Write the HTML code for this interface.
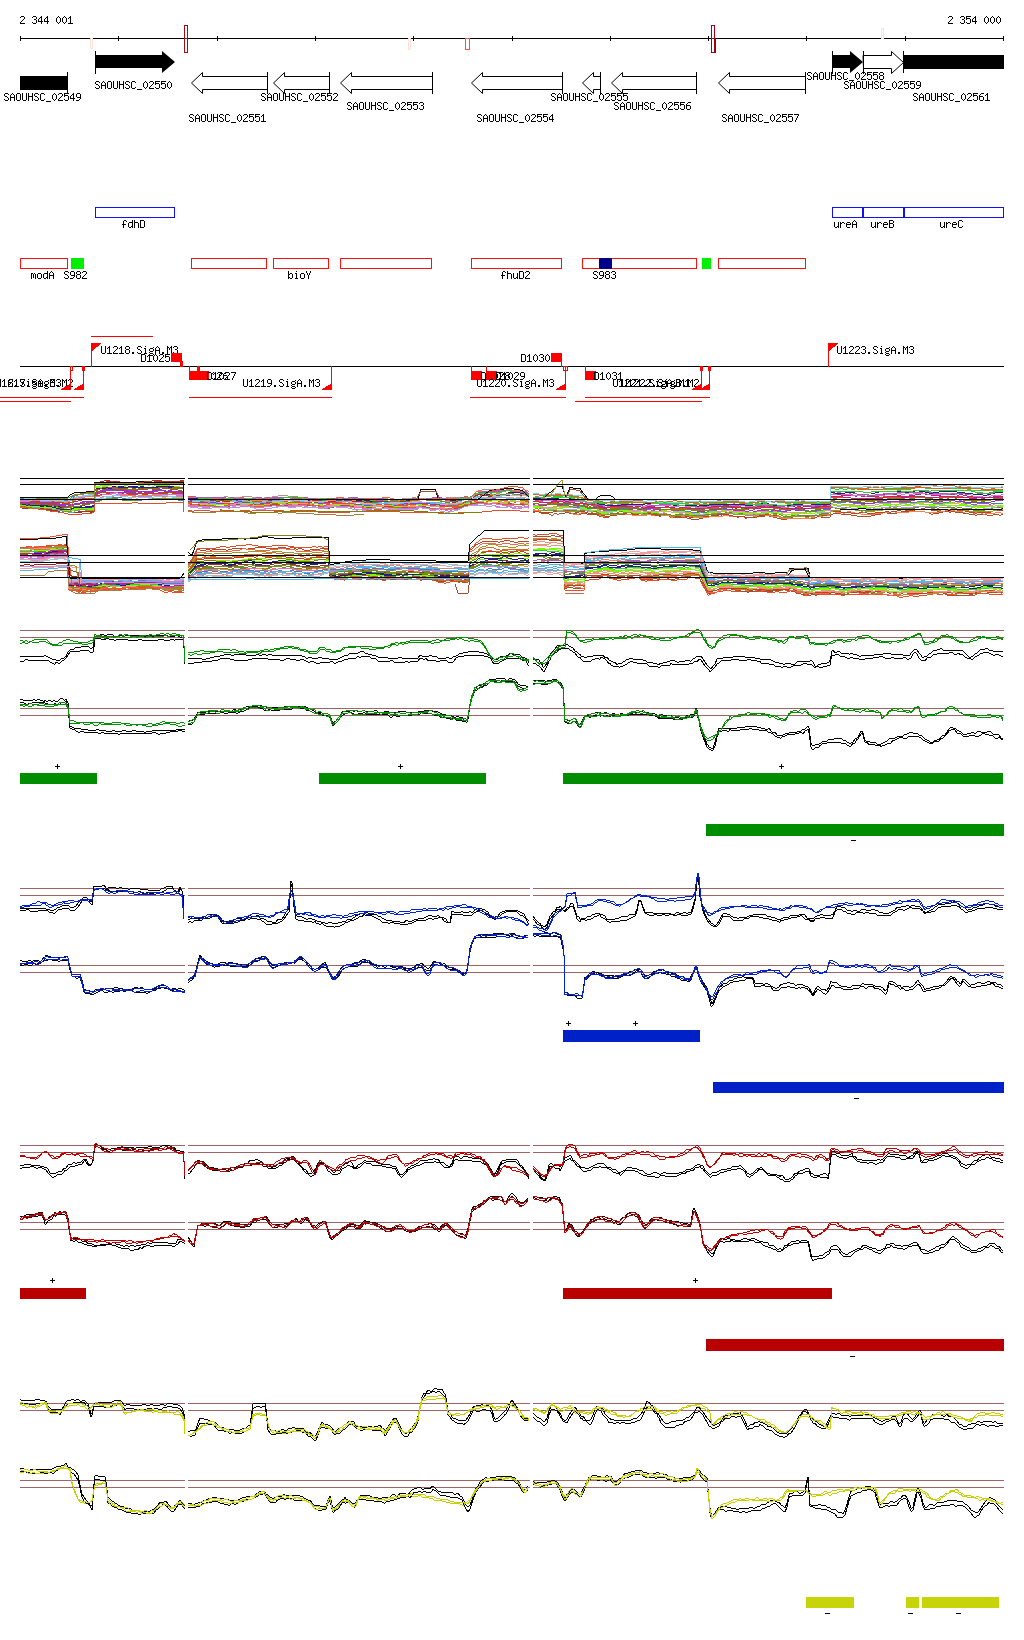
<!DOCTYPE html><html><head><meta charset="utf-8"><style>html,body{margin:0;padding:0;background:#fff;overflow:hidden}</style></head><body><svg width="1024" height="1640" viewBox="0 0 1024 1640" style="display:block;will-change:transform">
<rect width="1024" height="1640" fill="#fff"/>
<defs>
<path id="g48" d="M2 0h1v1h-1zM1 1h1v1h-1zM3 1h1v1h-1zM0 2h1v1h-1zM4 2h1v1h-1zM0 3h1v1h-1zM4 3h1v1h-1zM0 4h1v1h-1zM4 4h1v1h-1zM0 5h1v1h-1zM4 5h1v1h-1zM1 6h1v1h-1zM3 6h1v1h-1zM2 7h1v1h-1z"/>
<path id="g49" d="M2 0h1v1h-1zM1 1h2v1h-2zM0 2h1v1h-1zM2 2h1v1h-1zM2 3h1v1h-1zM2 4h1v1h-1zM2 5h1v1h-1zM2 6h1v1h-1zM0 7h5v1h-5z"/>
<path id="g50" d="M1 0h3v1h-3zM0 1h1v1h-1zM4 1h1v1h-1zM4 2h1v1h-1zM3 3h1v1h-1zM2 4h1v1h-1zM1 5h1v1h-1zM0 6h1v1h-1zM0 7h5v1h-5z"/>
<path id="g51" d="M1 0h3v1h-3zM0 1h1v1h-1zM4 1h1v1h-1zM4 2h1v1h-1zM2 3h2v1h-2zM4 4h1v1h-1zM4 5h1v1h-1zM0 6h1v1h-1zM4 6h1v1h-1zM1 7h3v1h-3z"/>
<path id="g52" d="M3 0h1v1h-1zM2 1h2v1h-2zM1 2h1v1h-1zM3 2h1v1h-1zM0 3h1v1h-1zM3 3h1v1h-1zM0 4h1v1h-1zM3 4h1v1h-1zM0 5h5v1h-5zM3 6h1v1h-1zM3 7h1v1h-1z"/>
<path id="g53" d="M0 0h5v1h-5zM0 1h1v1h-1zM0 2h4v1h-4zM0 3h1v1h-1zM4 3h1v1h-1zM4 4h1v1h-1zM4 5h1v1h-1zM0 6h1v1h-1zM4 6h1v1h-1zM1 7h3v1h-3z"/>
<path id="g54" d="M2 0h3v1h-3zM1 1h1v1h-1zM0 2h1v1h-1zM0 3h4v1h-4zM0 4h1v1h-1zM4 4h1v1h-1zM0 5h1v1h-1zM4 5h1v1h-1zM0 6h1v1h-1zM4 6h1v1h-1zM1 7h3v1h-3z"/>
<path id="g55" d="M0 0h5v1h-5zM4 1h1v1h-1zM3 2h1v1h-1zM3 3h1v1h-1zM2 4h1v1h-1zM2 5h1v1h-1zM1 6h1v1h-1zM1 7h1v1h-1z"/>
<path id="g56" d="M1 0h3v1h-3zM0 1h1v1h-1zM4 1h1v1h-1zM0 2h1v1h-1zM4 2h1v1h-1zM1 3h3v1h-3zM0 4h1v1h-1zM4 4h1v1h-1zM0 5h1v1h-1zM4 5h1v1h-1zM0 6h1v1h-1zM4 6h1v1h-1zM1 7h3v1h-3z"/>
<path id="g57" d="M1 0h3v1h-3zM0 1h1v1h-1zM4 1h1v1h-1zM0 2h1v1h-1zM4 2h1v1h-1zM0 3h1v1h-1zM4 3h1v1h-1zM1 4h4v1h-4zM4 5h1v1h-1zM3 6h1v1h-1zM0 7h3v1h-3z"/>
<path id="g83" d="M1 0h3v1h-3zM0 1h1v1h-1zM4 1h1v1h-1zM0 2h1v1h-1zM1 3h2v1h-2zM3 4h1v1h-1zM4 5h1v1h-1zM0 6h1v1h-1zM4 6h1v1h-1zM1 7h3v1h-3z"/>
<path id="g65" d="M2 0h1v1h-1zM1 1h1v1h-1zM3 1h1v1h-1zM0 2h1v1h-1zM4 2h1v1h-1zM0 3h1v1h-1zM4 3h1v1h-1zM0 4h5v1h-5zM0 5h1v1h-1zM4 5h1v1h-1zM0 6h1v1h-1zM4 6h1v1h-1zM0 7h1v1h-1zM4 7h1v1h-1z"/>
<path id="g79" d="M1 0h3v1h-3zM0 1h1v1h-1zM4 1h1v1h-1zM0 2h1v1h-1zM4 2h1v1h-1zM0 3h1v1h-1zM4 3h1v1h-1zM0 4h1v1h-1zM4 4h1v1h-1zM0 5h1v1h-1zM4 5h1v1h-1zM0 6h1v1h-1zM4 6h1v1h-1zM1 7h3v1h-3z"/>
<path id="g85" d="M0 0h1v1h-1zM4 0h1v1h-1zM0 1h1v1h-1zM4 1h1v1h-1zM0 2h1v1h-1zM4 2h1v1h-1zM0 3h1v1h-1zM4 3h1v1h-1zM0 4h1v1h-1zM4 4h1v1h-1zM0 5h1v1h-1zM4 5h1v1h-1zM0 6h1v1h-1zM4 6h1v1h-1zM1 7h3v1h-3z"/>
<path id="g72" d="M0 0h1v1h-1zM4 0h1v1h-1zM0 1h1v1h-1zM4 1h1v1h-1zM0 2h1v1h-1zM4 2h1v1h-1zM0 3h5v1h-5zM0 4h1v1h-1zM4 4h1v1h-1zM0 5h1v1h-1zM4 5h1v1h-1zM0 6h1v1h-1zM4 6h1v1h-1zM0 7h1v1h-1zM4 7h1v1h-1z"/>
<path id="g67" d="M1 0h3v1h-3zM0 1h1v1h-1zM4 1h1v1h-1zM0 2h1v1h-1zM0 3h1v1h-1zM0 4h1v1h-1zM0 5h1v1h-1zM0 6h1v1h-1zM4 6h1v1h-1zM1 7h3v1h-3z"/>
<path id="g68" d="M0 0h4v1h-4zM0 1h1v1h-1zM4 1h1v1h-1zM0 2h1v1h-1zM4 2h1v1h-1zM0 3h1v1h-1zM4 3h1v1h-1zM0 4h1v1h-1zM4 4h1v1h-1zM0 5h1v1h-1zM4 5h1v1h-1zM0 6h1v1h-1zM4 6h1v1h-1zM0 7h4v1h-4z"/>
<path id="g77" d="M0 0h1v1h-1zM4 0h1v1h-1zM0 1h2v1h-2zM3 1h2v1h-2zM0 2h1v1h-1zM2 2h1v1h-1zM4 2h1v1h-1zM0 3h1v1h-1zM2 3h1v1h-1zM4 3h1v1h-1zM0 4h1v1h-1zM4 4h1v1h-1zM0 5h1v1h-1zM4 5h1v1h-1zM0 6h1v1h-1zM4 6h1v1h-1zM0 7h1v1h-1zM4 7h1v1h-1z"/>
<path id="g66" d="M0 0h4v1h-4zM0 1h1v1h-1zM4 1h1v1h-1zM0 2h1v1h-1zM4 2h1v1h-1zM0 3h4v1h-4zM0 4h1v1h-1zM4 4h1v1h-1zM0 5h1v1h-1zM4 5h1v1h-1zM0 6h1v1h-1zM4 6h1v1h-1zM0 7h4v1h-4z"/>
<path id="g89" d="M0 0h1v1h-1zM4 0h1v1h-1zM0 1h1v1h-1zM4 1h1v1h-1zM1 2h1v1h-1zM3 2h1v1h-1zM1 3h1v1h-1zM3 3h1v1h-1zM2 4h1v1h-1zM2 5h1v1h-1zM2 6h1v1h-1zM2 7h1v1h-1z"/>
<path id="g95" d="M0 8h5v1h-5z"/>
<path id="g46" d="M1 6h2v1h-2zM1 7h2v1h-2z"/>
<path id="g102" d="M2 0h2v1h-2zM1 1h1v1h-1zM4 1h1v1h-1zM1 2h1v1h-1zM1 3h1v1h-1zM0 4h4v1h-4zM1 5h1v1h-1zM1 6h1v1h-1zM1 7h1v1h-1z"/>
<path id="g100" d="M4 0h1v1h-1zM4 1h1v1h-1zM1 2h4v1h-4zM0 3h1v1h-1zM4 3h1v1h-1zM0 4h1v1h-1zM4 4h1v1h-1zM0 5h1v1h-1zM4 5h1v1h-1zM0 6h1v1h-1zM3 6h2v1h-2zM1 7h2v1h-2zM4 7h1v1h-1z"/>
<path id="g104" d="M0 0h1v1h-1zM0 1h1v1h-1zM0 2h4v1h-4zM0 3h1v1h-1zM4 3h1v1h-1zM0 4h1v1h-1zM4 4h1v1h-1zM0 5h1v1h-1zM4 5h1v1h-1zM0 6h1v1h-1zM4 6h1v1h-1zM0 7h1v1h-1zM4 7h1v1h-1z"/>
<path id="g117" d="M0 2h1v1h-1zM4 2h1v1h-1zM0 3h1v1h-1zM4 3h1v1h-1zM0 4h1v1h-1zM4 4h1v1h-1zM0 5h1v1h-1zM4 5h1v1h-1zM0 6h1v1h-1zM3 6h2v1h-2zM1 7h2v1h-2zM4 7h1v1h-1z"/>
<path id="g114" d="M0 2h1v1h-1zM2 2h2v1h-2zM0 3h2v1h-2zM4 3h1v1h-1zM0 4h1v1h-1zM0 5h1v1h-1zM0 6h1v1h-1zM0 7h1v1h-1z"/>
<path id="g101" d="M1 2h3v1h-3zM0 3h1v1h-1zM4 3h1v1h-1zM0 4h5v1h-5zM0 5h1v1h-1zM0 6h1v1h-1zM1 7h3v1h-3z"/>
<path id="g109" d="M0 2h2v1h-2zM3 2h1v1h-1zM0 3h1v1h-1zM2 3h1v1h-1zM4 3h1v1h-1zM0 4h1v1h-1zM2 4h1v1h-1zM4 4h1v1h-1zM0 5h1v1h-1zM2 5h1v1h-1zM4 5h1v1h-1zM0 6h1v1h-1zM2 6h1v1h-1zM4 6h1v1h-1zM0 7h1v1h-1zM4 7h1v1h-1z"/>
<path id="g111" d="M1 2h3v1h-3zM0 3h1v1h-1zM4 3h1v1h-1zM0 4h1v1h-1zM4 4h1v1h-1zM0 5h1v1h-1zM4 5h1v1h-1zM0 6h1v1h-1zM4 6h1v1h-1zM1 7h3v1h-3z"/>
<path id="g98" d="M0 0h1v1h-1zM0 1h1v1h-1zM0 2h1v1h-1zM2 2h2v1h-2zM0 3h2v1h-2zM4 3h1v1h-1zM0 4h1v1h-1zM4 4h1v1h-1zM0 5h1v1h-1zM4 5h1v1h-1zM0 6h2v1h-2zM4 6h1v1h-1zM0 7h1v1h-1zM2 7h2v1h-2z"/>
<path id="g105" d="M2 0h1v1h-1zM1 2h2v1h-2zM2 3h1v1h-1zM2 4h1v1h-1zM2 5h1v1h-1zM2 6h1v1h-1zM1 7h3v1h-3z"/>
<path id="g103" d="M4 1h1v1h-1zM1 2h3v1h-3zM0 3h1v1h-1zM4 3h1v1h-1zM0 4h1v1h-1zM4 4h1v1h-1zM1 5h3v1h-3zM0 6h1v1h-1zM1 7h3v1h-3zM0 8h1v1h-1zM4 8h1v1h-1zM1 9h3v1h-3z"/>
</defs>
<g fill="#000" shape-rendering="crispEdges"><use href="#g50" x="20" y="16"/><use href="#g51" x="32" y="16"/><use href="#g52" x="38" y="16"/><use href="#g52" x="44" y="16"/><use href="#g48" x="56" y="16"/><use href="#g48" x="62" y="16"/><use href="#g49" x="68" y="16"/></g>
<g fill="#000" shape-rendering="crispEdges"><use href="#g50" x="948" y="16"/><use href="#g51" x="960" y="16"/><use href="#g53" x="966" y="16"/><use href="#g52" x="972" y="16"/><use href="#g48" x="984" y="16"/><use href="#g48" x="990" y="16"/><use href="#g48" x="996" y="16"/></g>
<rect x="20" y="38" width="984" height="1" fill="#000"/>
<rect x="20" y="36" width="1" height="5" fill="#000"/>
<rect x="118" y="36" width="1" height="5" fill="#000"/>
<rect x="217" y="36" width="1" height="5" fill="#000"/>
<rect x="315" y="36" width="1" height="5" fill="#000"/>
<rect x="413" y="36" width="1" height="5" fill="#000"/>
<rect x="512" y="36" width="1" height="5" fill="#000"/>
<rect x="610" y="36" width="1" height="5" fill="#000"/>
<rect x="708" y="36" width="1" height="5" fill="#000"/>
<rect x="806" y="36" width="1" height="5" fill="#000"/>
<rect x="905" y="36" width="1" height="5" fill="#000"/>
<rect x="1003" y="36" width="1" height="5" fill="#000"/>
<g shape-rendering="crispEdges">
<rect x="184.5" y="25.5" width="3" height="13" fill="none" stroke="#a80a14" stroke-width="1"/>
<rect x="184.5" y="38.5" width="3" height="14" fill="none" stroke="#a80a14" stroke-width="1"/>
<rect x="711.5" y="25.5" width="3" height="13" fill="none" stroke="#a00010" stroke-width="1"/>
<rect x="711.5" y="38.5" width="3" height="14" fill="none" stroke="#a00010" stroke-width="1"/>
<rect x="465.5" y="38.5" width="4" height="11" fill="none" stroke="#ff5030" stroke-width="1"/>
</g>
<rect x="715" y="38" width="1" height="15" fill="#a00010"/>
<rect x="90.5" y="38.5" width="2" height="10" fill="#fff" stroke="#fde0d6" stroke-width="1"/>
<rect x="408.5" y="38.5" width="2" height="11" fill="#fff" stroke="#fde0d6" stroke-width="1"/>
<rect x="881.5" y="28.5" width="2" height="10" fill="#fff" stroke="#fde0d6" stroke-width="1"/>
<rect x="20" y="76" width="48" height="14" fill="#000"/>
<rect x="67" y="72" width="1" height="21" fill="#000"/>
<polygon points="95,55 162,55 162,51 175,62.0 162,73 162,68 95,68" fill="#000"/>
<rect x="95" y="51" width="1" height="23" fill="#000"/>
<polygon points="267.5,76.5 202.5,76.5 202.5,72.5 191.5,83.0 202.5,93.5 202.5,89.5 267.5,89.5" fill="#fff" stroke="#000" stroke-width="1"/>
<rect x="267" y="72" width="1" height="22" fill="#000"/>
<polygon points="329.5,76.5 284.5,76.5 284.5,72.5 273.5,83.0 284.5,93.5 284.5,89.5 329.5,89.5" fill="#fff" stroke="#000" stroke-width="1"/>
<rect x="329" y="72" width="1" height="22" fill="#000"/>
<polygon points="432.5,76.5 351.5,76.5 351.5,72.5 340.5,83.0 351.5,93.5 351.5,89.5 432.5,89.5" fill="#fff" stroke="#000" stroke-width="1"/>
<rect x="432" y="72" width="1" height="22" fill="#000"/>
<polygon points="562.5,76.5 482.5,76.5 482.5,72.5 471.5,83.0 482.5,93.5 482.5,89.5 562.5,89.5" fill="#fff" stroke="#000" stroke-width="1"/>
<rect x="562" y="72" width="1" height="22" fill="#000"/>
<polygon points="600.5,76.5 593.5,76.5 593.5,72.5 582.5,83.0 593.5,93.5 593.5,89.5 600.5,89.5" fill="#fff" stroke="#000" stroke-width="1"/>
<rect x="600" y="72" width="1" height="22" fill="#000"/>
<polygon points="696.5,76.5 622.5,76.5 622.5,72.5 611.5,83.0 622.5,93.5 622.5,89.5 696.5,89.5" fill="#fff" stroke="#000" stroke-width="1"/>
<rect x="696" y="72" width="1" height="22" fill="#000"/>
<polygon points="805.5,76.5 729.5,76.5 729.5,72.5 718.5,83.0 729.5,93.5 729.5,89.5 805.5,89.5" fill="#fff" stroke="#000" stroke-width="1"/>
<rect x="805" y="72" width="1" height="22" fill="#000"/>
<polygon points="832,55 850,55 850,51 863,62.0 850,73 850,68 832,68" fill="#000"/>
<rect x="832" y="51" width="1" height="23" fill="#000"/>
<polygon points="863,55.5 891.5,55.5 891.5,51.5 903.5,62.5 891.5,73.5 891.5,68.5 863.5,68.5" fill="#fff" stroke="#000" stroke-width="1"/>
<rect x="863" y="51" width="1" height="23" fill="#000"/>
<rect x="903" y="55" width="101" height="14" fill="#000"/>
<rect x="903" y="51" width="1" height="22" fill="#000"/>
<g fill="#000" shape-rendering="crispEdges"><use href="#g83" x="4" y="93"/><use href="#g65" x="10" y="93"/><use href="#g79" x="16" y="93"/><use href="#g85" x="22" y="93"/><use href="#g72" x="28" y="93"/><use href="#g83" x="34" y="93"/><use href="#g67" x="40" y="93"/><use href="#g95" x="46" y="93"/><use href="#g48" x="52" y="93"/><use href="#g50" x="58" y="93"/><use href="#g53" x="64" y="93"/><use href="#g52" x="70" y="93"/><use href="#g57" x="76" y="93"/></g>
<g fill="#000" shape-rendering="crispEdges"><use href="#g83" x="95" y="81"/><use href="#g65" x="101" y="81"/><use href="#g79" x="107" y="81"/><use href="#g85" x="113" y="81"/><use href="#g72" x="119" y="81"/><use href="#g83" x="125" y="81"/><use href="#g67" x="131" y="81"/><use href="#g95" x="137" y="81"/><use href="#g48" x="143" y="81"/><use href="#g50" x="149" y="81"/><use href="#g53" x="155" y="81"/><use href="#g53" x="161" y="81"/><use href="#g48" x="167" y="81"/></g>
<g fill="#000" shape-rendering="crispEdges"><use href="#g83" x="189" y="114"/><use href="#g65" x="195" y="114"/><use href="#g79" x="201" y="114"/><use href="#g85" x="207" y="114"/><use href="#g72" x="213" y="114"/><use href="#g83" x="219" y="114"/><use href="#g67" x="225" y="114"/><use href="#g95" x="231" y="114"/><use href="#g48" x="237" y="114"/><use href="#g50" x="243" y="114"/><use href="#g53" x="249" y="114"/><use href="#g53" x="255" y="114"/><use href="#g49" x="261" y="114"/></g>
<g fill="#000" shape-rendering="crispEdges"><use href="#g83" x="261" y="93"/><use href="#g65" x="267" y="93"/><use href="#g79" x="273" y="93"/><use href="#g85" x="279" y="93"/><use href="#g72" x="285" y="93"/><use href="#g83" x="291" y="93"/><use href="#g67" x="297" y="93"/><use href="#g95" x="303" y="93"/><use href="#g48" x="309" y="93"/><use href="#g50" x="315" y="93"/><use href="#g53" x="321" y="93"/><use href="#g53" x="327" y="93"/><use href="#g50" x="333" y="93"/></g>
<g fill="#000" shape-rendering="crispEdges"><use href="#g83" x="347" y="102"/><use href="#g65" x="353" y="102"/><use href="#g79" x="359" y="102"/><use href="#g85" x="365" y="102"/><use href="#g72" x="371" y="102"/><use href="#g83" x="377" y="102"/><use href="#g67" x="383" y="102"/><use href="#g95" x="389" y="102"/><use href="#g48" x="395" y="102"/><use href="#g50" x="401" y="102"/><use href="#g53" x="407" y="102"/><use href="#g53" x="413" y="102"/><use href="#g51" x="419" y="102"/></g>
<g fill="#000" shape-rendering="crispEdges"><use href="#g83" x="477" y="114"/><use href="#g65" x="483" y="114"/><use href="#g79" x="489" y="114"/><use href="#g85" x="495" y="114"/><use href="#g72" x="501" y="114"/><use href="#g83" x="507" y="114"/><use href="#g67" x="513" y="114"/><use href="#g95" x="519" y="114"/><use href="#g48" x="525" y="114"/><use href="#g50" x="531" y="114"/><use href="#g53" x="537" y="114"/><use href="#g53" x="543" y="114"/><use href="#g52" x="549" y="114"/></g>
<g fill="#000" shape-rendering="crispEdges"><use href="#g83" x="551" y="93"/><use href="#g65" x="557" y="93"/><use href="#g79" x="563" y="93"/><use href="#g85" x="569" y="93"/><use href="#g72" x="575" y="93"/><use href="#g83" x="581" y="93"/><use href="#g67" x="587" y="93"/><use href="#g95" x="593" y="93"/><use href="#g48" x="599" y="93"/><use href="#g50" x="605" y="93"/><use href="#g53" x="611" y="93"/><use href="#g53" x="617" y="93"/><use href="#g53" x="623" y="93"/></g>
<g fill="#000" shape-rendering="crispEdges"><use href="#g83" x="614" y="102"/><use href="#g65" x="620" y="102"/><use href="#g79" x="626" y="102"/><use href="#g85" x="632" y="102"/><use href="#g72" x="638" y="102"/><use href="#g83" x="644" y="102"/><use href="#g67" x="650" y="102"/><use href="#g95" x="656" y="102"/><use href="#g48" x="662" y="102"/><use href="#g50" x="668" y="102"/><use href="#g53" x="674" y="102"/><use href="#g53" x="680" y="102"/><use href="#g54" x="686" y="102"/></g>
<g fill="#000" shape-rendering="crispEdges"><use href="#g83" x="722" y="114"/><use href="#g65" x="728" y="114"/><use href="#g79" x="734" y="114"/><use href="#g85" x="740" y="114"/><use href="#g72" x="746" y="114"/><use href="#g83" x="752" y="114"/><use href="#g67" x="758" y="114"/><use href="#g95" x="764" y="114"/><use href="#g48" x="770" y="114"/><use href="#g50" x="776" y="114"/><use href="#g53" x="782" y="114"/><use href="#g53" x="788" y="114"/><use href="#g55" x="794" y="114"/></g>
<g fill="#000" shape-rendering="crispEdges"><use href="#g83" x="807" y="72"/><use href="#g65" x="813" y="72"/><use href="#g79" x="819" y="72"/><use href="#g85" x="825" y="72"/><use href="#g72" x="831" y="72"/><use href="#g83" x="837" y="72"/><use href="#g67" x="843" y="72"/><use href="#g95" x="849" y="72"/><use href="#g48" x="855" y="72"/><use href="#g50" x="861" y="72"/><use href="#g53" x="867" y="72"/><use href="#g53" x="873" y="72"/><use href="#g56" x="879" y="72"/></g>
<g fill="#000" shape-rendering="crispEdges"><use href="#g83" x="844" y="81"/><use href="#g65" x="850" y="81"/><use href="#g79" x="856" y="81"/><use href="#g85" x="862" y="81"/><use href="#g72" x="868" y="81"/><use href="#g83" x="874" y="81"/><use href="#g67" x="880" y="81"/><use href="#g95" x="886" y="81"/><use href="#g48" x="892" y="81"/><use href="#g50" x="898" y="81"/><use href="#g53" x="904" y="81"/><use href="#g53" x="910" y="81"/><use href="#g57" x="916" y="81"/></g>
<g fill="#000" shape-rendering="crispEdges"><use href="#g83" x="913" y="93"/><use href="#g65" x="919" y="93"/><use href="#g79" x="925" y="93"/><use href="#g85" x="931" y="93"/><use href="#g72" x="937" y="93"/><use href="#g83" x="943" y="93"/><use href="#g67" x="949" y="93"/><use href="#g95" x="955" y="93"/><use href="#g48" x="961" y="93"/><use href="#g50" x="967" y="93"/><use href="#g53" x="973" y="93"/><use href="#g54" x="979" y="93"/><use href="#g49" x="985" y="93"/></g>
<rect x="95.5" y="207.5" width="79" height="10" fill="none" stroke="#1010ff" stroke-width="1"/>
<g fill="#000" shape-rendering="crispEdges"><use href="#g102" x="122" y="220"/><use href="#g100" x="128" y="220"/><use href="#g104" x="134" y="220"/><use href="#g68" x="140" y="220"/></g>
<rect x="832.5" y="207.5" width="171" height="10" fill="none" stroke="#1010ff" stroke-width="1"/>
<rect x="862" y="207" width="1" height="11" fill="#1010ff"/>
<rect x="863" y="207" width="1" height="11" fill="#1010ff"/>
<rect x="903" y="207" width="1" height="11" fill="#1010ff"/>
<rect x="904" y="207" width="1" height="11" fill="#1010ff"/>
<g fill="#000" shape-rendering="crispEdges"><use href="#g117" x="834" y="220"/><use href="#g114" x="840" y="220"/><use href="#g101" x="846" y="220"/><use href="#g65" x="852" y="220"/></g>
<g fill="#000" shape-rendering="crispEdges"><use href="#g117" x="871" y="220"/><use href="#g114" x="877" y="220"/><use href="#g101" x="883" y="220"/><use href="#g66" x="889" y="220"/></g>
<g fill="#000" shape-rendering="crispEdges"><use href="#g117" x="940" y="220"/><use href="#g114" x="946" y="220"/><use href="#g101" x="952" y="220"/><use href="#g67" x="958" y="220"/></g>
<rect x="20.5" y="258.5" width="47" height="10" fill="none" stroke="#ff1010" stroke-width="1"/>
<rect x="191.5" y="258.5" width="75" height="10" fill="none" stroke="#ff1010" stroke-width="1"/>
<rect x="273.5" y="258.5" width="55" height="10" fill="none" stroke="#ff1010" stroke-width="1"/>
<rect x="340.5" y="258.5" width="91" height="10" fill="none" stroke="#ff1010" stroke-width="1"/>
<rect x="471.5" y="258.5" width="90" height="10" fill="none" stroke="#ff1010" stroke-width="1"/>
<rect x="582.5" y="258.5" width="114" height="10" fill="none" stroke="#ff1010" stroke-width="1"/>
<rect x="718.5" y="258.5" width="87" height="10" fill="none" stroke="#ff1010" stroke-width="1"/>
<rect x="71" y="258" width="13" height="11" fill="#00ee00"/>
<rect x="702" y="258" width="9" height="11" fill="#00ee00"/>
<rect x="599" y="258" width="13" height="11" fill="#000088"/>
<g fill="#000" shape-rendering="crispEdges"><use href="#g109" x="31" y="271"/><use href="#g111" x="37" y="271"/><use href="#g100" x="43" y="271"/><use href="#g65" x="49" y="271"/></g>
<g fill="#000" shape-rendering="crispEdges"><use href="#g83" x="64" y="271"/><use href="#g57" x="70" y="271"/><use href="#g56" x="76" y="271"/><use href="#g50" x="82" y="271"/></g>
<g fill="#000" shape-rendering="crispEdges"><use href="#g98" x="288" y="271"/><use href="#g105" x="294" y="271"/><use href="#g111" x="300" y="271"/><use href="#g89" x="306" y="271"/></g>
<g fill="#000" shape-rendering="crispEdges"><use href="#g102" x="501" y="271"/><use href="#g104" x="507" y="271"/><use href="#g117" x="513" y="271"/><use href="#g68" x="519" y="271"/><use href="#g50" x="525" y="271"/></g>
<g fill="#000" shape-rendering="crispEdges"><use href="#g83" x="593" y="271"/><use href="#g57" x="599" y="271"/><use href="#g56" x="605" y="271"/><use href="#g51" x="611" y="271"/></g>
<rect x="20" y="366" width="984" height="1" fill="#000"/>
<rect x="91" y="336" width="62" height="1" fill="#ff0000"/>
<rect x="0" y="397" width="84" height="1" fill="#ff0000"/>
<rect x="0" y="401" width="71" height="1" fill="#ff0000"/>
<rect x="189" y="397" width="143" height="1" fill="#ff0000"/>
<rect x="470" y="397" width="96" height="1" fill="#ff0000"/>
<rect x="585" y="397" width="125" height="1" fill="#ff0000"/>
<rect x="575" y="401" width="127" height="1" fill="#ff0000"/>
<rect x="91" y="343" width="1" height="24" fill="#ff0000"/>
<g shape-rendering="crispEdges">
<polygon points="91,343 102,343 92,351 91,351" fill="#ff0000"/>
</g>
<g fill="#000" shape-rendering="crispEdges"><use href="#g85" x="101" y="346"/><use href="#g49" x="107" y="346"/><use href="#g50" x="113" y="346"/><use href="#g49" x="119" y="346"/><use href="#g56" x="125" y="346"/><use href="#g46" x="131" y="346"/><use href="#g83" x="137" y="346"/><use href="#g105" x="143" y="346"/><use href="#g103" x="149" y="346"/><use href="#g65" x="155" y="346"/><use href="#g46" x="161" y="346"/><use href="#g77" x="167" y="346"/><use href="#g51" x="173" y="346"/></g>
<rect x="828" y="343" width="1" height="24" fill="#ff0000"/>
<g shape-rendering="crispEdges">
<polygon points="828,343 839,343 829,351 828,351" fill="#ff0000"/>
</g>
<g fill="#000" shape-rendering="crispEdges"><use href="#g85" x="837" y="346"/><use href="#g49" x="843" y="346"/><use href="#g50" x="849" y="346"/><use href="#g50" x="855" y="346"/><use href="#g51" x="861" y="346"/><use href="#g46" x="867" y="346"/><use href="#g83" x="873" y="346"/><use href="#g105" x="879" y="346"/><use href="#g103" x="885" y="346"/><use href="#g65" x="891" y="346"/><use href="#g46" x="897" y="346"/><use href="#g77" x="903" y="346"/><use href="#g51" x="909" y="346"/></g>
<rect x="171" y="353" width="11" height="9" fill="#ff0000"/>
<rect x="181" y="361" width="1" height="6" fill="#ff0000"/>
<g fill="#000" shape-rendering="crispEdges"><use href="#g68" x="141" y="354"/><use href="#g49" x="147" y="354"/><use href="#g48" x="153" y="354"/><use href="#g50" x="159" y="354"/><use href="#g53" x="165" y="354"/></g>
<rect x="180" y="361" width="3" height="6" fill="#ff0000"/>
<rect x="551" y="353" width="11" height="9" fill="#ff0000"/>
<rect x="561" y="361" width="1" height="6" fill="#ff0000"/>
<g fill="#000" shape-rendering="crispEdges"><use href="#g68" x="521" y="354"/><use href="#g49" x="527" y="354"/><use href="#g48" x="533" y="354"/><use href="#g51" x="539" y="354"/><use href="#g48" x="545" y="354"/></g>
<g fill="#000" shape-rendering="crispEdges"><use href="#g85" x="-16" y="379"/><use href="#g49" x="-10" y="379"/><use href="#g50" x="-4" y="379"/><use href="#g49" x="2" y="379"/><use href="#g54" x="8" y="379"/><use href="#g46" x="14" y="379"/><use href="#g83" x="20" y="379"/><use href="#g105" x="26" y="379"/><use href="#g103" x="32" y="379"/><use href="#g65" x="38" y="379"/><use href="#g46" x="44" y="379"/><use href="#g77" x="50" y="379"/><use href="#g51" x="56" y="379"/></g>
<g fill="#000" shape-rendering="crispEdges"><use href="#g85" x="-4" y="379"/><use href="#g49" x="2" y="379"/><use href="#g50" x="8" y="379"/><use href="#g49" x="14" y="379"/><use href="#g55" x="20" y="379"/><use href="#g46" x="26" y="379"/><use href="#g83" x="32" y="379"/><use href="#g105" x="38" y="379"/><use href="#g103" x="44" y="379"/><use href="#g66" x="50" y="379"/><use href="#g46" x="56" y="379"/><use href="#g77" x="62" y="379"/><use href="#g50" x="68" y="379"/></g>
<rect x="70" y="366" width="1" height="24" fill="#ff0000"/>
<g shape-rendering="crispEdges">
<polygon points="60,390 71,390 71,383" fill="#ff0000"/>
</g>
<rect x="70.5" y="366.5" width="2" height="4" fill="none" stroke="#ff0000" stroke-width="1"/>
<rect x="83" y="366" width="1" height="24" fill="#ff0000"/>
<g shape-rendering="crispEdges">
<polygon points="73,390 84,390 84,383" fill="#ff0000"/>
</g>
<rect x="82" y="366" width="3" height="5" fill="#ff0000"/>
<rect x="189" y="366" width="1" height="5" fill="#ff0000"/>
<rect x="189" y="371" width="11" height="9" fill="#ff0000"/>
<g fill="#000" shape-rendering="crispEdges"><use href="#g68" x="199" y="372"/><use href="#g49" x="205" y="372"/><use href="#g48" x="211" y="372"/><use href="#g50" x="217" y="372"/><use href="#g54" x="223" y="372"/></g>
<rect x="197" y="366" width="3" height="5" fill="#ff0000"/>
<rect x="197" y="371" width="12" height="9" fill="#ff0000"/>
<g fill="#000" shape-rendering="crispEdges"><use href="#g68" x="207" y="372"/><use href="#g49" x="213" y="372"/><use href="#g48" x="219" y="372"/><use href="#g50" x="225" y="372"/><use href="#g55" x="231" y="372"/></g>
<g fill="#000" shape-rendering="crispEdges"><use href="#g85" x="243" y="379"/><use href="#g49" x="249" y="379"/><use href="#g50" x="255" y="379"/><use href="#g49" x="261" y="379"/><use href="#g57" x="267" y="379"/><use href="#g46" x="273" y="379"/><use href="#g83" x="279" y="379"/><use href="#g105" x="285" y="379"/><use href="#g103" x="291" y="379"/><use href="#g65" x="297" y="379"/><use href="#g46" x="303" y="379"/><use href="#g77" x="309" y="379"/><use href="#g51" x="315" y="379"/></g>
<rect x="331" y="366" width="1" height="24" fill="#ff0000"/>
<g shape-rendering="crispEdges">
<polygon points="321,390 332,390 332,383" fill="#ff0000"/>
</g>
<rect x="471" y="366" width="1" height="5" fill="#ff0000"/>
<rect x="471" y="371" width="11" height="9" fill="#ff0000"/>
<g fill="#000" shape-rendering="crispEdges"><use href="#g68" x="481" y="372"/><use href="#g49" x="487" y="372"/><use href="#g48" x="493" y="372"/><use href="#g50" x="499" y="372"/><use href="#g56" x="505" y="372"/></g>
<rect x="486" y="366" width="1" height="5" fill="#ff0000"/>
<rect x="486" y="371" width="11" height="9" fill="#ff0000"/>
<g fill="#000" shape-rendering="crispEdges"><use href="#g68" x="496" y="372"/><use href="#g49" x="502" y="372"/><use href="#g48" x="508" y="372"/><use href="#g50" x="514" y="372"/><use href="#g57" x="520" y="372"/></g>
<g fill="#000" shape-rendering="crispEdges"><use href="#g85" x="477" y="379"/><use href="#g49" x="483" y="379"/><use href="#g50" x="489" y="379"/><use href="#g50" x="495" y="379"/><use href="#g48" x="501" y="379"/><use href="#g46" x="507" y="379"/><use href="#g83" x="513" y="379"/><use href="#g105" x="519" y="379"/><use href="#g103" x="525" y="379"/><use href="#g65" x="531" y="379"/><use href="#g46" x="537" y="379"/><use href="#g77" x="543" y="379"/><use href="#g51" x="549" y="379"/></g>
<rect x="565" y="366" width="1" height="24" fill="#ff0000"/>
<g shape-rendering="crispEdges">
<polygon points="555,390 566,390 566,383" fill="#ff0000"/>
</g>
<rect x="563.5" y="366.5" width="4" height="4" fill="none" stroke="#ff0000" stroke-width="1"/>
<rect x="585" y="366" width="1" height="5" fill="#ff0000"/>
<rect x="585" y="371" width="11" height="9" fill="#ff0000"/>
<g fill="#000" shape-rendering="crispEdges"><use href="#g68" x="594" y="372"/><use href="#g49" x="600" y="372"/><use href="#g48" x="606" y="372"/><use href="#g51" x="612" y="372"/><use href="#g49" x="618" y="372"/></g>
<g fill="#000" shape-rendering="crispEdges"><use href="#g85" x="613" y="379"/><use href="#g49" x="619" y="379"/><use href="#g50" x="625" y="379"/><use href="#g50" x="631" y="379"/><use href="#g49" x="637" y="379"/><use href="#g46" x="643" y="379"/><use href="#g83" x="649" y="379"/><use href="#g105" x="655" y="379"/><use href="#g103" x="661" y="379"/><use href="#g65" x="667" y="379"/><use href="#g46" x="673" y="379"/><use href="#g77" x="679" y="379"/><use href="#g49" x="685" y="379"/></g>
<g fill="#000" shape-rendering="crispEdges"><use href="#g85" x="622" y="379"/><use href="#g49" x="628" y="379"/><use href="#g50" x="634" y="379"/><use href="#g50" x="640" y="379"/><use href="#g50" x="646" y="379"/><use href="#g46" x="652" y="379"/><use href="#g83" x="658" y="379"/><use href="#g105" x="664" y="379"/><use href="#g103" x="670" y="379"/><use href="#g66" x="676" y="379"/><use href="#g46" x="682" y="379"/><use href="#g77" x="688" y="379"/><use href="#g50" x="694" y="379"/></g>
<rect x="701" y="366" width="1" height="24" fill="#ff0000"/>
<g shape-rendering="crispEdges">
<polygon points="691,390 702,390 702,383" fill="#ff0000"/>
</g>
<rect x="700" y="366" width="3" height="5" fill="#ff0000"/>
<rect x="709" y="366" width="1" height="24" fill="#ff0000"/>
<g shape-rendering="crispEdges">
<polygon points="699,390 710,390 710,383" fill="#ff0000"/>
</g>
<rect x="708" y="366" width="3" height="5" fill="#ff0000"/>
<rect x="20" y="630" width="165" height="1" fill="#9c6464"/>
<rect x="188" y="630" width="342" height="1" fill="#9c6464"/>
<rect x="533" y="630" width="471" height="1" fill="#9c6464"/>
<rect x="20" y="637" width="165" height="1" fill="#9c6464"/>
<rect x="188" y="637" width="342" height="1" fill="#9c6464"/>
<rect x="533" y="637" width="471" height="1" fill="#9c6464"/>
<rect x="20" y="708" width="165" height="1" fill="#9c6464"/>
<rect x="188" y="708" width="342" height="1" fill="#9c6464"/>
<rect x="533" y="708" width="471" height="1" fill="#9c6464"/>
<rect x="20" y="715" width="165" height="1" fill="#9c6464"/>
<rect x="188" y="715" width="342" height="1" fill="#9c6464"/>
<rect x="533" y="715" width="471" height="1" fill="#9c6464"/>
<g shape-rendering="crispEdges">
<path d="M20 656l2 1l2-1h8l2 1l2-1h8l1-1l1 1l2 1l2 1l2 1l2 1l1-1l1 1h4l2-2h2l2-2l2-4l2-2l2-1h2l2-2h2l2 1l2-2h6l2 2h2l1-1l1-5l1-8l1 1h4l2-1l2 1l2 1l2-2h4l2 2h2l2 1l2-2l2 1l2 1l2-2h4l2 1l2-1l2 1l2-1h2l2 1h4l2-1h2l2 1h4l2-1h4l2 1l2-1l2 1h7l1-1l2 1l2 1h3l1 10l1 13" fill="none" stroke="#000"/>
<path d="M188 658h12l2 1h4l2-1h2l2-1h2l2-1h4l2-1h2l1-1h1l2 1l2-1l2 2l2-1l2-1l2 1l2-1l2 1l2-1l2 1l2 1l2-1h2l2 1l2-1l2-1l2 2l2-1l2-1l2 1h2l2-1l2 1h6l2 1l2-1h4l2 1l2-1h6l2 1l2-1l2 1h2l2 2h2l2-1l2 1h6l2-1l2 1h2l2 1l2-1l2 2l2-1h3l1 1l2-1l2-1l2-1l2-1l2-1h2l2-2h2l2 1l2-1h2l2-1l2-1l2 1l1 1h1l2 1h2l2 1h2l2 1l2 1h8l2 1h4l2 1l2-1h2l2-1l2 1h16l2-3l2 1h4l2 1l2-2l2 1l2 1l2-1l2 2h2l2 1l2-1h2l2-1l1 1h3l2-2h2l2-1l2-2l2 1l2-2h4l2-1h2l2 1l2-1h2l2 2l2-1l2 1h2l2 2h2l2 3l2 1l2 1l2-1l2-2l2-1h4l2-1l2-2l2 1h2l2 1l2-1l2 1l2 2h2l1 1h1l2 2l1 3" fill="none" stroke="#000"/>
<path d="M533 659h4l2 1l1 2h1l2 5h1l1-1l2-3l2-6l1-2l1-2l2-2l2-2l2-3l2-1l1 1l1-1h4l1-1h1l2 2h1l1 1l2 1l2 3l2 1l2 2h1l1 2h2l2 2l2-1l2-1l2 1l2-1l2-1l2 1l2-1h4l2 3l2-1l2 3h1l1 1l2 1h2l2 3l2-2h1l1 1l2-2l2-1l2-2h2l1-1h1l2 1h4l2 1l2-1l2 1h2l2 2h4l2 1h2l2 1l2 1l1-2l1 1l2-1l2-1h2l2-1h1l1-1h2l2 1l2 1h2l2-1h4l2-1h2l1 1h1l2-2l2-1l2-2h4l2 3l2 3l2 3l2 2l1 1l1 1l2-3l2-2l2-5l2-1h4l2-1h8l2-1h8l2 1l2 1l2-1l2 1l2-1l2 1h4l1 1h5l2 1l1-1h1l2 1l2 1l2 1h2l2 1h2l2 1h2l2-1h2l2 1h4l2-2l2-1h2l2 1l2-1h5l1-1l2 2l2 4h2l2-2h2l2-1h4l2-1l1-2l1-4l1-5l1-1l2 3l2-1l2-1l2 2h6l2 1h1l1-1l2 1h2l2 1l2 1h2l2-1l2 1l2-1h2l1 1l1-1l2 1l2-2h8l2-1h2l2 1l1-1l1 1l2 1l2-1h2l2 1l2-1l2 1h7l1-2l2-2l2-2l2 1l2 3l2 2l1 2l1 1l2-2h2l2-2l2-1l2-2l2-1h2l2-1h1l1-1l2 2h4l2 1l2-1h8l1 1l1-1l2 1l2 2l2 2l2 2h2l2-1l2-2l2-1l2-2l2-2l2 1l2-1l2-1l2 2h2l2 1l2 1l2-1l2 1l2-1l2 1" fill="none" stroke="#000"/>
<path d="M20 661h4l2-2l2 1l2 1l2-1h8l2 1l2-1h4l2 2l2 1l2 1h1l1-2l2 1h2l2-2l2-1l2-2l2-3l2-3l2-1h8l2-1h2l1 1l1-1h2l2 2h3l1-5l1-9h5l2 2l2-1h2l2-1l2 2l2-1l2 1h2l2-1l2 1l2-1l2 1l2-1l2 1h2l2 1l2-1h4l2-1l2 1h16l2-1h2l2 1h6l2-1l2 1h1l1-1h6l1 1l1 8l1 16" fill="none" stroke="#000"/>
<path d="M188 664l2-1h4l2-1h6l2-1l2 1l2-1h4l2-1h4l2-1l2-1h6l2 1h2l2 1h14l2-1h2l2-1l2 1l2-1h8l2 1h10l2 1h4l2-1l2-1l2 1h4l2 1h4l2-1l2 1l2 1l2 1h2l2-1l2 1l2 1h4l2-1h2l2 1l2-1h2l2-1l2 2h2l2-1l2-1h2l2-1l2-1h2l2-1h6l2-2l2 2l2-2l2 1l1-1h3l2 1l2 2l2-1l2 1l2 2l2 1l2-1h4l2 1l2-1l2-1l2 2h2l2 1l2-1h2l2 1l2-2l2 1h2l2-1h6l2-3h2l2 2l2-2l2 3l2-1h4l2 1h4l2-1h4l2 2h2l2 1l2-2l2-3l2-1l2-1h4l2-1h8l2 1l2-1h4l2 1h2l2 1h2l2 4l2 3l2-1l2 1l2-2l2-1l2-1l2-1l2-1h8l2 1l2-1l2 2h3l1 1l2 4l1 1" fill="none" stroke="#000"/>
<path d="M533 663h2l2 2l2 1l1 1l1 1l2 3l1 1l1-2l2-4l2-5l1-1l1-3l2-2l2-2l2-1l2-3l1 1l1-1l2-1h4l2 1l1 1h1l2 2l2 1l2 3l2 2l1-1l1 2l2 2h2l2 1l2-1h2l2-2h2l2-1l2 1h1l1-2l2 1l2 1l2 2l2 3l1-1l1 2l2 1h4l2 1h1l1-1h2l2-1l2-1l2-2h1l1-1l2 1h2l2 1h8l2 1l2 2h4l2 1l2-1l2 2l1-1l1-1l2-1l2 1l2-1l2 1l1-1l1-2l2 2l2-1h8l2 1l2-1h2l1-1l1 1l2-1l2-2l2 1l2-3h1l1 1l2 3l2 3l2 2l2 2l1 2l1-1l2-2l2-2l2-3l2-1l1-1l1-1l2-1l2 1l2-1h4l2-1h4l2 1h8l2-1l2 1h4l2 1h3l1 2h4l2 1l1-1l1 1h4l2 2h4l2 1h2l2-1l2 1h4l2-1l2-1h6l2-1l2-1l2 1h4l2 2l2 2l2-2l2 1l2 1l2-1l2-1h2l2-1h1l1-6l1-4h3l2-1l2 1l2 2l2-1l2 1l2 1h3l1-1l2 1h4l2 1h6l2-1l2 1l1-1h3l2-1l2 1l2-1l2-1l2 1l2 1h2l2 1l1-1h1l2-1l2 2l2-1h6l2-1l2 2h2l1-1h1l2-4l2-2l2 2l2 4l2 2h2l2 1l2-3l2-1h2l2-2l2-1h2l2-1h1l1 1l2-1l2 1l2-1h2l2-1l2 1l2 2l2-1l2-1l1 2l1-1l2 1l2 2l2 1h3l1 1h2l2-2l2-1l2-1l2-2h2l2-1h2l2 1l2 1l2 1h2l2-1l2 1l2 1h2" fill="none" stroke="#000"/>
<path d="M20 699h2l2 2l2-1l2 1l2-1l2 1l2-2l2 2l2-2l2 1h2l2 2l1-2l1 1h2l2-1l2 2l2-2l1 1h3l2-2l2-1l2 2h1l1-1l2 4l2 23l2 1l2 1h6l2 2l2-1h2l2 1l2 1l2-1h4l2-1l2 2l2-1h2l2 1l2 1l2-1h2l2-1l2 2l2-1h4l2-1l2 1h6l2-1l2 1h6l2 1h2l2-1h4l2-1l2 1l2-1h4l2 1l2-1h10l2-1h4l2 1l1-1" fill="none" stroke="#000"/>
<path d="M188 722l2-2l2 1l2-2l2-3l2-4h8l2-1h2l2-1l2 1h14l2 1l2-1l2-2l2 1h2l2-1h2l2-1l2-1l2-1h6l2-1h4l2 1h2l2 1h2l2 1l2-1h4l2 1l2-1h4l2-1l2 1l2-1l2 1l2-1l2 1l2-1h6l2 1l2 1l2 1l2 1l2 1l1 1h5l2 1h4l2 1l2 1l2 6l1 2l1-1l2-1l2-3l2-2l2-4l2-1l1 1l1-1h4l2-1l2 2l2-2l2 2l2-1h2l2-1l2 2l2-1h6l2-1l2 2h6l2-1h2l2 2l2-1l2 1l2-1h2l2-1l2 1l2-1l2 1h2l2 1l2-1h6l2-1h4l2-1h4l2 1h4l2 1l2 1l2 1l2 1l1-1l1 1h4l2 1l2 1h2l2-1l2 2l2-1l2 3h3l1-3l2-13l2-8l2-6l1-3l1 1l2-2l2-1h2l2-2h1l1-1l2-1l2-2h2l2 1l2-1l2-1h2l2 1l2-1l2 2h2l2-2l2 1h2l2 2l2 3l2 1l2 1l2-1l2 1l2 1" fill="none" stroke="#000"/>
<path d="M533 681l2-1h2l2 1l2-1h2l2 1h2l2-1l2 1l2-2h2l2 1l2 2l2 1l2 4l2 32l2 1h4l2-1l2-1l2 4l2 2h1l1-1l2-4l2-3h2l2-1l2-1l2-1h2l2-1h3l1 1l2 1l2-2l2 1l2 1l2 1l2-2l2 1h2l2 1h1l1-2l2 1h4l2-1h4l2-1h4l1-1h1l2 1l2 1l2-1l2 1h4l2 1l2 1l2 1l1-2h1l2 1h8l2 2h4l2 1h4l2-1l2-2l2 2l2-3h3l1-2l1-4l1 2l2 9l1 4l1 4l2 6l2 6l2 5l1 1l1 2l2 1h2l2-6l2-7l2-7h4l2 1l2-1h4l2 1l2-1h2l2-1l2 1l2-1h2l2-1l2 1l1-1h1l2 1l2-1l2 1h2l2 1h2l2 1l2 1l1-1l1-1l2 3l2 2l2-1l2 3h3l1 1l2-1l2-1l2-1h2l1-1h7l2-1h2l2-2h2l2-2l1-1l1 2l2 15l1 2l1 1l2-1l2-1h2l1-1h1l2-2h4l2-2h2l2 1l2-2h4l1 1l1-1l2 2h2l2 2l2 1l1 1l1-1l2-1l2-3l2-1l1-1l1-2l2-4h1l1 2l2 7l1 1h3l2 2l2-1h2l2 2h4l2-1l2-1l2-1l2-2l2-1h4l2-1l2-1h4l2-2h2l2-1l2-1l2 1h4l2 2h2l2 2l2 2l2 1l2 1l1 1h3l2-2h2l2-1l2-2l2-2h2l2-3l2-3l2-2h1l1 1h2l2 2l2 1l2 1l2 2l2 1l2-1l2-1h2l2-1l2 2l2-2l2-1l2 1h6l2-1l2 1l2 2h4l2 1l2 3l2 1" fill="none" stroke="#000"/>
<path d="M20 702h2l2 1l2 1h2l2-1h2l2-1h6l2 1l2-1l1 1h1l2 1h2l2 1l2-1l1-1l1 1h4l2-2l2 1l1-1l1-1l2 6l2 21l2 1h2l2 2l2 1h2l2-1l2 1h4l2 1l2-1h4l2 1l2 1l2-2l2 1l2 1l2-1h8l2 1h2l2-1l2 1l2-1h10l2 1l2-1h12l2-1l2 1l2 1h2l2-1l2 1l2-1l2-1h2l2-1h2l2 1l2-1l2-1l2 1l2 1l1-1" fill="none" stroke="#000"/>
<path d="M188 725l2-1h2l2-2l2-4l2-4h4l2 1l2-2l2 1l2-1l2 1l2-1h2l2 1l2-1l2-1l2 1h4l2-1h4l2 1h2l2-1l2-1h2l2-1l2-1l2-2l2 1l2-1l2-1l2 1l2 1h2l2 2h4l2-1l2 2l2-1h6l2-1l2 1l2-1h6l2-2l2 1l2-1l2 1h4l2 2h2l2 1l2 1l2 1h2l2 1l2-1l2 2h4l2 1l2 2l2 5l1 3l1-1l2-2l2-2l2-3l2-2l2-2h1l1-1h2l2-1l2 1l2 1h4l2-1l2 1l2-2l2 2h16l2 1l2-1l2 1l2 2h2l2-2l2 1h4l2-1l2 1l2-1h6l2-1l2 1l2-1h2l2-2l2 1h6l2 1l2 1h4l2 2l2 1l2-1h1l1 1h2l2 1h2l2-1l2 2h4l2 1h2l2 1h1l1-3l2-13l2-8l2-5l1-3l1 1l2-2l2-2l2 1l2-3h1l1 1l2-2l2-2l2-1h4l2 2l2-1l2-2l2 1h4l2 1l2-1h2l2 3l2 2l2 1l2 1h2l2 1h2" fill="none" stroke="#000"/>
<path d="M533 683h2l2 1l2-1l2 1h4l2 1l2-2h2l2-1l2-1l2 1l2 1l2 3l2 3l2 33l2 1h4l2-1l2-1l2 3l2 3l1-1h1l2-4l2-5l2-1l2 1h2l2-1l2-1l2 1l2-1l1 1h1l2-1l2 2l2-2l2 2l2-1l2-1l2 1h4l1-1l1 1l2-1h6l2-1h9l1 1l2-1h4l2 1h4l2 1h2l2 3l1-2l1 2l2-1l2 1l2-1l2 1l2-1l2 1h10l2-2l2 1l2-1l2 1l2-1l1-1l1-2l1-1l1 1l2 7l1 6l1 4l2 6l2 5l2 5l1 1l1 1l2 1h2l2-4l2-9l2-5l1-1l1 1l2-2h2l2 1h2l1-2l1 1l2 1l2-1h2l2 1l2-2h2l2 1l2-1h2l1-1h1l2 2l2-1h2l2 1h6l2 1l1 1h1l2 1l2 1l2 2l2 1h2l1 1h1l2-2h2l2-1l2-1l1 1l1-1h4l2-1h2l2-1l2 2l2-3l2-1l1-1l1 4l2 14l1 2l1 1l2-2l2-1h2l1-2h1l2-2h4l2-1h4l2 1l2-1h3l1 1h4l2 2l2 1h2l2-3h2l2-4h1l1-2l2-3l1-1l1 2l2 7l1 1l1-1l2 3l2-1h2l2 1h2l2 1l1-1l1 2l2-2h2l2-1l2-1h2l2-3h2l2-1l2-1l2-1l2 1h4l2-2l2 1l2-1l2 1l2-1l2 1l2 1l2 2l2 1l2 1l2 1h4l2-2l2 1l2-1l2-3h2l2-2l2-2l2-3l2-1l1-1h1l2 1l2 3h2l2 1l2 2h6l2-1h2l2 1h4l2-1l2-2l2 1h2l2 1h2l2 1l2 2l2 1l2-2l2 2h2" fill="none" stroke="#000"/>
<path d="M20 641l2-1l2 2l2-2l2 2h2l2-1l2-1l2-1l2 1l2-1h6l2 2l2 2l2 1h6l2-2h2l2-2h2l2-1l2 1h2l2 2l2-1l2 1h10l2-1l2-1h1l1-3l1-3l1 1h4l2 1l2 1l2-1h12l2-2l2 1h2l2-1l2 1l2 1h4l2 1l2-1h4l2-1l2 1l2 1l2-3l2 1h4l2-1h2l2-1l2 1h2l2-1l2 2l2-1l2-1h1l1 1h2l2 1h3l1 11l1 12" fill="none" stroke="#009000"/>
<path d="M188 653l2-1l2 1l2-1l2-1l2 1l2-1l2-1l2 1h10l2 1l2-2l2-1l2 1l2-1l1 1l1-1h2l2 1h2l2-1l2 1l2 1l2 1l2-1l2 1h2l2-1h12l2-1h2l2-1l2 1h2l2-1h2l2-1l2 1l2-1l2-1h2l2-1h2l2 1l2-1l2 1h4l2 2l2 1l2-1l2 1l2 1h2l2 1l2-1l2 1l2-2l2-3h1l1 1l2-1l2 2h4l2 2h4l2-1l2 1l2-2l2-2h4l2-1h16l2 1l2-1l2 1h8l2 1l2-1l2-1h2l2-1l2-2h3l1-1l2 1h2l2-1h4l2-1h2l2-1l2 1l2-1l2 1l2-1h6l2 1h4l2-1h2l2-1l2 2l2-1h2l2-1l2-1l2 1l2-1h4l2-1h4l2 1l2-1l2 1l2 1l2-1l2 1h2l2 1h2l2 2l2 3l2 3l2 4l2 3l2 2l2 2h2l2-1l2-1l2 1l2-2h4l2-2l2-1l2 1l2 2h2l2 1l2 1l2 1h5" fill="none" stroke="#009000"/>
<path d="M533 658l2 2l2 2l2 1h2l2-1l1-1l1-1l2-2l2-2h1l1-2l2-2l2-1l2-2l2-3l1 1l1-2h2l2-2l2-13h2l2 1l2 1l2 2l2 3l2 3l1 1l1-1h4l2-1h2l2 1l2-2l2 2l2-1h2l1-1h5l2-1h8l2 1l2-1l2-1l2 2l2-3l2 1h4l2-1l2-1l2 1h2l1-1l1 1l2 1l2-1l2 2l2-1h2l2 1l2 2l2-2l2 1h6l2-1l2 1h2l2-1h6l2-1h4l2-1l2-2h1l1 1l2-3h2l2-2l2 1l2 2l2 5l2 1l2 5l2 2l2 1l1 1h1l2-1l2-5l2-2l1-1h1l2-2l2-1h2l2-1h6l2 1h2l1 1l1-1l2 1h2l2 1h3l1 1l2-1l2-1h4l2 1h4l2 1h1l1-1l2 2l2-1l2 1l2 1h4l2 2l2-2l2-1l2-1l1-2l1 1h2l2 1l2-2h4l2 1l2-2h2l1 2l1 2l1 3h3l2 1h2l2 1l2-1h2l2 1l2-1h2l2-1l2-1l2-1h2l2-1h2l2 1h4l2-1l2 1l2-1h2l2-2l2-1l2 1l2-2h4l2 1l2 1l2 2h2l2 1h3l1 1h6l2 1l2-1l2 1l2-1h2l2-1l2 1l2-1l2-2h2l2-1h2l2-1l2-1l2-1l2-1h1l1 2l2 6l2 1h4l2-1l2 1l2-3l2-1h2l2-2l2-1l2 1l2-2l2 2h2l2 1l2 1l2 2l2 1h2l2 1h2l2 1l2-1l2-2l2-1l2-1l2-2h3l1 2l2-2l2 1h8l2 1l2-2l2 1l2 1h2" fill="none" stroke="#009000"/>
<path d="M20 644l2-1l2-1l2 2l2-1l2-2l2 1h4l2 1l2-2h5l1 1l2 1l2 1l2 1h10l2-2l2 1l2-1h2l2 1l2-1l2 1l2-1h2l2 1h6l2-1h2l1-1l1-2l1-3l1-1l2 1l2-1l2 1l2 1h2l2-1l2-1h2l2 2l2-1l2-1l2 1h2l2-1l2 2l2-1h4l2-1l2 1h2l2-2l2 1l2 1h4l2-1l2 1h2l2-1h8l2-1l2 2l2-1l2-1h3l1 1l2-1h2l2 2l1 1l1 8l1 16" fill="none" stroke="#009000"/>
<path d="M188 654l2 1h2l2-1l2-1l2 2l2-1h2l2-1l2 1l2-1h2l2-1l2 1l2-2h2l2 1l2-1l2 2l1-1h13l2 2l2-1h2l2 1l2-2l2 1l2-1l2 1l2-1l2 1l2 1l2-3l2 1l2-1h2l2 1l2-1h2l2-1l2-1h2l2-1h6l2-1l2 1h4l2 1l2 1h2l2 1l2 1l2-1l2 3l2-1h2l2 1l2-2l2-2l1-1l1 1l2-1l2 2h2l2 1h2l2 1l1-1h1l2-1l2 1l2-2l2-1l2-2h10l2-1l2 1l2 2l2-1h4l2 2l2-1h4l2-1l2 1l2-1h2l2-2l2 1h2l2-3h3l1 1h2l2-2l2 1h2l2-1h2l2-1h12l2 1l2-1l2 1l2-1l2 2l2-1l2-1h4l2-1l2-1l2 1l2-1h2l2-1l2 1l2-2l2 2l2-2l2 1l2 1h2l2 1h2l2-1l2 1h4l2 1l2 2l2 2l2 3l2 4l2 3l2 3l2 2h4l2-1l2-1h2l2-2h2l2-1l2 1l2-2l2 1l2 1l2 2h4l1 2l1-1l2 1l1-1" fill="none" stroke="#009000"/>
<path d="M533 657l2 2l2 3l2 2h1l1-1l2 1l1-1h1l2-1l2-4l1-1h1l2-3l2-2l2-2l2-2h2l2-1h2l2-15h2l2 1l2 1h2l2 4l2 2l1 1h1l2 1h4l2-1h2l2-1l2-1l2 1l2-1h10l2-1l2 2l2-2h6l2 1l2-1h2l2-1l2 1h2l2-2h5l1-1l2 1h2l2 1l2 1l2 1h4l2 1l2-1l1 1h11l2-1l2-1h2l2-1h4l2-1h4l1-2h1l2-1l2-1h4l2 2l2 4l2 3l2 3l2 3l2 1h2l2-1l2-4l2-3h2l2-1l2-1l2-1l2 1l1-2l1-1h2l2 1l2-1h2l1 2l1-2l2 2l2 1h2l2 1l1 1l1-1l2 1l2-1l2-1l2 1l2-2l2 2l2-1l2 1h4l2 2l2-1h2l2 3l2-2l2 2h2l2-2l2-4h2l2-1l2 2h6l2-1l2 1h3l1 3l1 3h1l2-1l2 2l2-1h2l2 1l2-1l2 1h2l2-2l2 1l2-1l2-1l2-2l2 1l1-1h1l2 2h2l2-1h4l2-2l2 1h2l2-2h6l2-1h2l2 1l2 1l2 1l2 1h2l1 2l1-1h2l2 1l2-1l2 1h2l2-2h2l2 1h2l2-1l2-1h2l2-1h2l1-1l1-1h2l2-1l2-1l2-1h1l1 2l2 4l2 5l2-1h2l2-1l2-1h2l2-1l2-3h2l2-2l2 1l2-1l2 1l2 1h2l2 2l2 1l2 1l2 1l2-1l2 1l2-1l2 1l2-2h2l2-1h2l2-2l1 1l1-1l2-1h2l2 2l2-1l2 1h6l2-1l2 1h2" fill="none" stroke="#009000"/>
<path d="M20 704h6l2 1l2-2l2 1h4l2 1l2-2h2l2 1h4l2 1l2-1h6l2-2l2 1l2-1l1 1h1l2 4l2 14l2-1l2 1l2 1h8l2 1l2-1h2l2 1l2-1l2 1l2-1h4l2 1l2 1l2-1l2 1l2-1l2-1h2l2 1l2-1l2 2l2-1h4l2 1h6l2 1l2-1h2l2 1l2-1h2l2-1l2 1h4l2-1h2l2-1l2-1l2 2l2-1h2l2 1l2-1l2 1h4l2-1l2 1h1" fill="none" stroke="#009000"/>
<path d="M188 721h2l2-1l2-1l2-2l2-4l2-1l2-1l2 1l2-1h2l2-1h2l2 1l2-1l2 1h2l2-2l2 1l2 1l2-1l2 1h4l2-1l2 1l2-3l2 2l2-3l2 1h2l2-2h2l2-1h4l2 1h6l2 2l2-1l2 1h2l2 1l2-1l2-1h6l2-1l2 1l2-1h4l2 1h2l2-1l2 1l2 1h2l2 1l2 1l2-1l1 1l1 2h2l2-1l2 2h4l2 1l2 1l2 7l1 1h1l2-2l2-3l2-2l2-3l2-2h2l2-1h4l2 1l2-1l2 1h4l2-1l2 2h2l2-1h2l2 1h6l2 1l2-1h4l2 1l2-1l2 1h2l2-1l2 1h6l2-1l2 1h2l2-1h10l2-1l2 1l2-2h2l2 2h2l2 2h2l2 1h2l1 1l1-1l2 1l2-1l2 2l2 1h2l2 1l2-1l2 1l2-1l2 1h1l1-3l2-12l2-9l2-4l1-4h1l2-1l2-2h4l1-1l1-1l2-1l2-1h4l2 1l2-1l2 1h2l2-1h4l2 1l2-1l2 2l2 2l2 4l2 2l2-1h2l2-1l2-1" fill="none" stroke="#009000"/>
<path d="M533 680l2 2l2-2l2 2l2-1h2l2 2l2-2h2l2 1l2-1l2-1h2l2 2l2 3l2 2l2 33l2-1l2 2h1l1-1l2-1l2-1l2 3l2 4l1-1l1 1l2-5l2-4l2-1l2-1h2l2-1l2 1h2l2-2l1 3l1-2h2l2 1l2-1l2 1h8l2 1h1l1-1h2l2 1l2-1l2-1l2-1l2-1l2 1l2-2l2 1h1l1 1l2-2l2 2l2 1h4l2 2h6l1-1l1 2h6l2-1l2 1l2 1h2l2-1h2l1 1h5l2-1h2l2-1h3l1-4l1-2l1 2l2 8l1 5l1 3l2 5l2 4l2 2l1 1l1-1l2-1l2-1l2-1l2-1l2-3l1-1h1l2-4l2-4l2-2l2-1l1-3l1 1h2l2-1h2l2-2l2 1l2-1h2l2-1l2-1l1 1h7l2 1l2-1h2l2 1h4l2 2l2-1l2 1h2l2 2h2l2 1h2l2-2l2-4h1l1-2h2l2-1l2 1h2l2-2l2 1l2-1l2 2l2 3l2 1l2 1l2 1h2l2-1h6l2-1l2-1h1l1-2l2-6l2-1l2 2l2 1h6l2 1h2l2-1l2 1l2 1l2-1l2 1l2-1l2-1l2 2l2-2l2 2h4l2 2l2-2l2 2h1l1 2l1 3h1l2-1l2-2l2-3l2-1l2-1l2-1l2 1h2l2-1l2 2l2 1l2-1h2l1 1h3l2-3l2-1l1-1l1 1l2 7l1 1h1l2 1l2-1l2-1h6l2-1h2l2-2h4l2-3l2-1l1-1h1l2 1l2 1l2 1l2 3h2l2 2h10l2 1h12l2-1l2 1h4l2 1l2-1h1l1 1l2 3" fill="none" stroke="#009000"/>
<path d="M20 706l2-1l2 2l2-2l2 1h4l2-1l2-1l2 2l2-1h4l1 1h9l2-1h2l2-1h5l1 1l2 4l2 14h2l2 1l2-1h4l2-1l2 2h6l2-1l2 2h4l2-2l2 2l2-1l2 1l2-1h2l2 1l2-1h4l2 1l2-2l2 1l2 1h6l2-1l2 1h2l2-1l2 1h2l2 1h6l2-1h4l2-1l2 1l2-2l2 1l2-1l2 1l2 1l2-1l2 1l2 1h4l2-1l1 1" fill="none" stroke="#009000"/>
<path d="M188 723l2 1l2-2h2l2-5l2-3h2l2-1l2 1l2-1h2l2-1l2-1h2l2 2h4l2-2l2 1l2-1h8l2 1l2-1h2l2-1l2-1l2-1l2 2l2-2l2-1h4l2 1h2l2-1l2 1l2 2h4l2-2l2 1h10l2-2l2 1h2l2-1l2 1l2-1l2 1h2l2-1l2 1l2 2l2-1l2 2l2 1l2 1h2l2 1h4l2 1l2 1h2l2 1l2 7h2l2-1l2-2l2-3l2-4l2-1h4l2-1l2 2h10l2 1l2-1l2-1h6l2 1l2-2l2 2h2l2-1h4l2 1l2 1l2-1h2l2 1h2l2 1l2-1h4l2-1h8l2-2l2 1h2l2-1l2 1h2l2 1h4l2 1h2l2 3l2-2l1 2l1-1l2 1l2-1l2 3l2-2l2 1h4l2 1h4l1 1l1-4l2-11l2-8l2-6l1-2l1-1l2-1h2l2-3l2-1l1 1l1-2l2 1l2-2l2-1l2 1l2 1l2-1h4l2-1l2 2l2-1h2l2 1l2-1l2 4l2 4l2 1h2l2-1h2l2-1" fill="none" stroke="#009000"/>
<path d="M533 684h2l2-1h14l2-1l2-1l2 1l2 2l2 1l2 4l2 32l2 1l2 1h1l1 1l2-3h2l2 2l2 3l1 2l1-1l2-5l2-5l2-1h10l2-1h2l2 1h6l2-1l2 2l2-1l2 1l2-1l1 1l1-2h6l2-1l2-1l2-1l2 1h2l2-1l1 1h3l2-1l2 2l2 1l2-1l2 1h2l2 1h2l1 1h7l2 1l2-1l2 1l2 1l2 1l2-1h2l2-1l2 1l2-1l2-1h2l2-1l1-1l1-2l1-2l1 2l2 8l1 5l1 3l2 6l2 3l2 2l1 1l1-1h2l2-1l2-3l2-1l2-3l1-1l1-1l2-3l2-3l2-2l2-3l1 1l1-1l2-2l2-1h6l2-1l2-1l2 1h2l1-1l1 1l2-1h2l2 1l2 1l2-1l2-1h2l2 2l1-1l1 2h2l2-1l2 2l2 1h2l2 1h2l2 1l2-3l2-4h1l1-2l2 1l2-1h4l2 1h2l2-2l2 2l2 2l2 1l2 2l2 1h2l2-1l2-1h6l2-2l1 2l1-3l2-6l2-2l2 1h2l2 2h2l2 2l2-1l2 1l2-1h2l2 1h2l2 1h2l2-2l2 1h4l2 1l2-1l2 1l2 1l2-1h1l1 3l1 4l1-1l2-2l2-1l2-3l2-1l2-1h2l2 1h8l2 2l2-1l1-1l1 2l2-3l2-3h3l1 1l2 8l1 1h3l2-1l2-1l2 1l2-1l2 1l2-2l2-2h2l2-1l2 1l2-3l2-1h1l1 1l2-1l2 2h2l2 2l2 1l2 1l2 1l2 1l2-1l2 2l2-1h2l2 1h14l2-1h2l2 2l2-1l1-1l1 1l2 4" fill="none" stroke="#009000"/>
</g>
<rect x="20" y="888" width="165" height="1" fill="#9c6464"/>
<rect x="188" y="888" width="342" height="1" fill="#9c6464"/>
<rect x="533" y="888" width="471" height="1" fill="#9c6464"/>
<rect x="20" y="895" width="165" height="1" fill="#9c6464"/>
<rect x="188" y="895" width="342" height="1" fill="#9c6464"/>
<rect x="533" y="895" width="471" height="1" fill="#9c6464"/>
<rect x="20" y="965" width="165" height="1" fill="#9c6464"/>
<rect x="188" y="965" width="342" height="1" fill="#9c6464"/>
<rect x="533" y="965" width="471" height="1" fill="#9c6464"/>
<rect x="20" y="972" width="165" height="1" fill="#9c6464"/>
<rect x="188" y="972" width="342" height="1" fill="#9c6464"/>
<rect x="533" y="972" width="471" height="1" fill="#9c6464"/>
<g shape-rendering="crispEdges">
<path d="M20 908h12l2 1l2-1h4l2 1l2-1l2 1h2l2 1l2 1l2-1l2-1l2-2h2l2-1l2-1h1l1 1l2-1l2 2h4l2-1l2-3l2-3l2-1l2-2h2l2 2l2 2h2l2-15h8l2-1l2 3h2l2-1h4l2 1l2 1l2-2l2 1h4l2 1h2l2-1h6l2 1h6l2 1l2 1l2-1h2l2 1l2-1h2l2-2h2l2-1l2-1l2 1l2-1l2 4l2 1h2l2-4l2 4l1 4l1 22" fill="none" stroke="#000"/>
<path d="M188 920l2-1l2-1h8l2-1h2l2-1l2-2h2l2 1l2-1l1 1h3l2 2l2 3l2 1l1 1l1-1h4l2 1l2-2l2-1l2-1h4l2-1l2-1l2 1l2-2l2 2l2-1h2l2-1l2 3h2l2 1l2 1l2 2l2-1l2 1h4l2-3l2 1l2-1l2-3l2-4l2-2l1-2l1-14l1-13l1 2l2 21l2 11l2 2l2-1l2 1l2 1l2 1h2l2-1l2 1h2l1 1h1l2 2l2-1l2 2l2-1l2 2l2-1l2-1l2 1h3l1 1l2-1l2-1h2l2-1h2l2-2h4l2-2h1l1-2h2l2-1l2-1h2l1 1l1-2l2 1l2 1h2l2 1l2-1l2 2h2l2 2l2 1l2 1l2 1l2-1l2 1h6l2 1h2l2 1l2-3l2 1h4l2-1l2-1h2l2-1l2 1l2-1l2-1l2-1l2-1l2 1h2l2 1l2-2l2 2h2l2 1l2 1l2 4l2-1l2-11l2 1h4l2 1l2-2l2 2l2-1l2 1l2-2l2 2l2-2l2-2l2-1h2l2 1h2l2 2l2 1l2 4h2l2 1h1l1-1h2l2-3l2-1l2-1h1l1-1h2l2 1l2-1h4l2 1l2 1l2 1l2 1l2 4l2 2l1 1" fill="none" stroke="#000"/>
<path d="M533 916l2 3l2 2l2 2h1l1 2l2 1l2 1l2-3l2-5l1-3l1-1l2-3l2-1l2-4l2 1l1-2l1 1l2 3l2 1l2-3l2-1l1-2l1-2l2 1l2 6l1 3l1 3l2 1l1 2h1l2-1l2 1l2-2l2-1h2l2-2h2l2-1h2l1 1h1l2 1l2 1l2 4l2-1l1 1l1-1h4l2-1h2l2-1l2-1h2l2 1l2-2l2-1h4l2-5l2-9h1l1 1l2 6l2 5l2 1l2-1h2l2 1l2 1l2-1h4l2 1l2-1h4l2 1h4l2-2l2 1l2 1l2-1l2-1l2 2l2-2h2l2-6l2-7l2-20l1-5l1 8l1 12l1 5l2 9l2 6l2 4l2 2l2 3l2 1l2 2l2-2l2-3l2-4l2-3l2-1l2 1h2l2 2l2 1h2l2 1h2l2-1h6l2-1l2-1h2l2-1h4l2 1l2-1h2l2 2h2l2 1h2l2 1l2 1h4l2-1l2-1l2 1l2-1l2-2h8l1-1h3l2 1l2 3h5l1 1l2-2l2-1l2-1h1l1-1l2 1h8l1-1h1l2-3l2-5h2l2 1h2l2 1l2 2l2 1l1-1l1 1h2l2-1l2 1l2 1l2-2l2-1h2l2 2l2-1h2l2-1l2 1h2l2 2h2l2 1h6l2-1l2-1l2-1l2-3l2 1l1-1h1l2-1l2 1l2-2l2 1h2l2-1l2 1h4l2 2l2 3l2 1h2l2-1l2-1l2-1l2-2l2-1l2-2h2l2 1l2-1l2-1h4l2-1l2-1l2 2l2 1l2 2l2 1l2 1l2 2h1l1-1l2 1l2-2l2-1h2l2-1l2-1h2l2-1l2-1l2 1h4l2 2h2l2 1h2l2 1" fill="none" stroke="#000"/>
<path d="M20 910h2l2 1l2-1l2-1l2 2h8l2-1h6l2 1l2 2l2-1l2 2l2-2l2-2l2-1h2l2-1h4l2 2h2l2 1l2-2l2-2l2-3l2-3l2-1h1l1-1l2 2l2 2l2 2l2-16h4l2-1l2 1l2-1l2 2l2-1l2 3l2-1h6l2 1l2-1l2 1l2-1h6l2 2l2-1h2l2-1l2 2h4l2-1l2 2l2-1h2l2-1h2l2 1l2-1l2-1l2-1l2-2h4l2 2l2 2l2 2l2-5l2 2l1 6l1 22" fill="none" stroke="#000"/>
<path d="M188 923l2-2l2 2l2-2l2-1h2l2 1l2-1l2-2h6l2-1l2-1h1l1-1l2 2l2 3l2 3h12l2-1h2l2-1l2-1l2 1l2-3l2 1h2l2-1h4l2 2l2-1l2 2l2 1l2 2h2l2 1l2-1l2-1l2 1l2-1l2-1l2-1l2-2l2-3l2-3l1-1l1-14l1-14l1 3l2 20l2 12l2 1l2 1l2-1l2 1h2l2 1l2-1l2 1h2l1-1l1 2h2l2 2l2-2l2 2l2 1h2l2 1l2-1l2 1h1l1-1h4l2-1l2-1l2-2h2l2-1l2-1h2l1-1h1l2-1l2-2l2 1l2-3l1 1l1 1l2-1h2l2 1l2 1l2 1l2 1l2 1l2 2h4l2 1h2l2-1l2 1h4l2 1h8l2-1h2l2-1l2-1l2-1h8l2-1l2-1l2 1h2l2-1h2l2-1l2 1l2 3l2 1h2l2 1l2-9l2 1l2-1h2l2 1l2-1l2 2l2-1h2l2 1l2-1l2-2l2-1l2-1l2-1l2 1l2 1l2 2l2 1l2 2l2 1l2 1l1 1l1-1l2-2l2-1l2-2l2-1l1-1h1l2-1l2 1l2-1h4l2 2l2 2h2l2 2l2 2l2 4h1" fill="none" stroke="#000"/>
<path d="M533 919l2 2l2 3l2 1h1l1 1l2 3h2l2-2l2-6l1-2l1-1l2-3l2-2l2-4h4l2 1l2 2l2-2l2-2l1-1l1-1h2l2 6l1 3l1 4l2 2l1 1l1-2l2-1l2 1h2l2-1h2l2-1l2-2h2l2-1l1-1l1 3l2 1l2 1l2 2l2 1l1 1l1-1l2-1h4l2 1l2-2h6l2-1l2-1l2-1l2-1l2-5l2-9l1-1l1 1l2 6l2 5l2 1l2 1h2l2 1l2-2l2 1h3l1 1l2-2l2 1h4l2-1l2 1l2 1l2-1l2-1l2 1l2 1l2-1l2 1l2-2l1 1l1-1l2-5l2-8l2-19l1-7l1 10l1 12l1 4l2 10l2 5l2 4l2 3l2 2l2 1l2 1l2-1l2-2l2-4l2-4h6l2 2l2 2h2l2 1l2-1h4l2-2l2 1l2-1l2-2h2l2 1l2-1l2 1h2l2 1l2 1l2-1h1l1 1h2l2 2l2-1l2 1l2 1h1l1-2l2 1l2-2l2 1l2-2h2l2-1h4l2-1h1l1-1l2 2l2 2l2 1l2-1l2 3l1-2l1 2l2-3l2-1h3l1-1h2l2 1h6l1 1l1-2l2-5l2-2l1-1h3l2 2h2l2 2h3l1 1h4l2-2l2 1l2-1l2 1h2l2-1l2 1l2 1l2-1h2l2 2h4l2 1l2-1l2 1l1-1h3l2-2l2-1l2-1l2-2l1 1l1-1l2 1h2l2-1l2-1l2-1l2 2l2-1h4l2 2l2 1l2 3l2-2l2 1l2-1l2-1h2l2-2l2-2h2l2-1h8l2-1h2l2 1h2l2 3l2 1l2 2h3l1-1l2 1l2-2h2l2-1l2-1h6l2-1h4l2 1h2l2 1h4l2 1" fill="none" stroke="#000"/>
<path d="M20 960l2 1l2 1l2-1h2l2-1l2 2l2-2l2 1l2-1l2 2l2-2l2-3h1l1-2l2 1h2l2 2l2-1h10l2-1l1 1l1 1l2 9l2 7h8l2 6l2 9l2 1h2l2 1h4l2-2h6l2 1l2-2l2 1l2-1l2 1l2-1l2-1l2 1l2 1l2-1l2 2h2l2-1h4l2-1l2-1l2 1h2l2-1l2 2h10l2-1l2-2l2-1h4l2 1l2 1l2 2h2l2-1l2 1h2l2-1l2 1l2 1h1" fill="none" stroke="#000"/>
<path d="M188 981l2-3l2-1l2-2l1-1l1-4l2-8l2-7l2 3l2 2h1l1 1l2 1l2 1h2l2 2l1-1h3l2-1l2-1l2 1l1-1l1 1h2l2-1h2l2 2l2-1l2 1h2l2 1l2-1h1l1 1h2l2-2l2-1l2-1l2-3h2l2 1l2-3l2 1h2l2 2l2 4l2 2l2 1l2-2h2l2-1h4l2-1h9l1-1l2-2l2-2l2 1l2 1l2 2l2 4l2 1l2 2l2 1h2l2-1l2-2l2-2l2-1l1-1l1 2l2 5l2 4l2 4h2l2-1l2-3l2-3l2-3l2-1l1-1h1l2-1h4l2-1l2-1l2 1l2-2l2-1l2-1h1l1 1h2l2 2l2 1l2 1l2 1h4l2 1l2 1h2l2-2l2 1h8l2 1l2-1l2 2h8l2-1l2-2l2-1h2l2-1l2 3l2 1l2 2l2-2l2-3l2-3h1l1 2l2-1l2 2l2 1l2-2l2 2l2 2h2l2 1l2 1h2l2 1l2 1l2 2h3l1-1l1-3l1-5l2-16l2-6l2-4l1-2h1l2-1l2 1l2-2h4l2 1h4l2-2l2 1l2-1h4l2 1h2l2 1h2l2-2h2l2 2l2 1l2 1l2-1h2l2-1l2 1" fill="none" stroke="#000"/>
<path d="M533 934l2-1h6l2 1l2-2h2l2 2h2l2-2l2 1l2 1h3l1 3l2 9l1 8l1 39l2-1l2 2h4l2 1h2l2 1l2-1l1 1l1-5l2-14h2l2-3l2-1l2-2l2 1h2l2 1h2l2 2h4l2 1l1-1l1 1l2-1l2 2l2-1h2l2-1l2-1h4l2-2l2-1h2l2-2h5l1 1l2 3l2 3l2-1h2l2-1l2-2l2-1h2l2-2h1l1 2l2-2l2 2l2 1h2l2 1h4l2 2l2 1h2l2 1l2 1l2 1h2l1-1l1-2l2-3l2-6h1l1 1l2 7l1 2l1 1l2 4l2 3l2 3l2 6l2 7l1 3l1-2l2-4l2-4l2-6l1-2l1 1l2-3l2-1h2l2-2l2-1h2l2-2h2l2-1l2 1l2-2l2 2l2-1h5l1 1l2 5h2l2 1l2-1l2 1h2l2-1l1 1h1l2 2l2 1l2 1h2l2-1l2-3h2l2-1h2l2-1l2 2l2-1l2 2h2l2-1l1 1l1-1l2 1l2 1h2l1 1l1 1l2 3l2 4l2-5l2-3l1-1l1 1l2 2l2 1l2-1l1 2l1-1l2-3l2-6l1 1h3l2 1l2 2l2 1h4l2 1h4l2-2l2 1l2-1l2 1l2-1l2-2l2 2l2-1h4l2 1l2 1h5l1 1l2 1l2 3l1-1l1-1l2-7l1-1h1l2 1l2 1l2 2h3l1 2h2l2-1h2l2 1h2l1-1h1l2-2l2-3l1-1l1 2l2 2l2 2l2 4l2-2l2 1l2-2h2l2-1l2 1l2-1l2-1h2l2-2l2-2l2-3l2-2l1 1h1l2 1l2 3l2 1l1 2l1-1l2-4l2 1l2 2l2 2l1 1h1l2-1h2l2-1l2-1l2 1h4l2-1l2-1l1 1h5l2 2h2l2 1l2 2" fill="none" stroke="#000"/>
<path d="M20 965h4l2-1l2 1h4l2-2l2 2l2-2l2 1l2-2l2-2h4l2-1l2 1h4l2 1h2l2-1h5l1 1l2 9l2 6h2l2 2h2l2-1l2 7l2 8l2 2l2-1l2 1l2 1l2-1l2-1l2-1l2-1l2-1l2 2h4l2-1l2 1h2l2-1h4l2-1l2 2l2-1l2-1l2 1l2-1l2 2h10l2 1h2l2-1l2-1l2-1h2l2-2l2 1l2-2l2 1h2l2 1l2 1h2l2 1h8l2 1h1" fill="none" stroke="#000"/>
<path d="M188 983l2-2l2-1l2-3l1-2l1-3l2-8l2-6l2 2l2 2h1l1 2h2l2 1l2 1l2 1h1l1-1l2 1l2-1l2-2l2 2l1-1l1 1l2-1l2 1h4l2 1l2-1h6l1 2l1-2h2l2-1l2-2l2-2h4l2-1l2-1l2-1h1l1 1l2 2l2 5l2 1l2 1l2-1l2-1l2-1l2-1h2l2 1l2-1l2-1l2-1l2 1h1l1-1l2-2l2-1l2 1l2 1l2 2l2 3l2 2l2 1l2 2h2l2-1l2-1l2-2h2l1 1l1-1l2 4l2 4l2 4l1 1l1-1l2-1l2-1l2-3l2-4l2-2h1l1-1h2l2-1h8l2-2l2-2h6l2 1l2 1l2 1l2 1l2 2h2l2 1l2-1l2 1l2-1l2 1l2-1l2-1l2 1h2l2-1h2l2 2l2 1l2 2h2l2-1l2-1l2-2h2l2-1h2l2 2l2 1l2 1l2-1l2-3l2-2h1l1-1l2 1h4l2 1l2 1l2 2h2l2 1l2-1l2 1l2 2l2 1l2 1l2 1h1l1-1l1-3l1-6l2-13l2-8l2-5l1-1h1l2-1h2l2 1l2-1h8l2 1l2-1l2-1l2 1l2-1h4l2-1l2 2l2-2l2 2h2l2 1h2l2 1l2-1l2-1l2 1" fill="none" stroke="#000"/>
<path d="M533 935l2 2l2-2l2 1h2l2 1l2-1l2 1l2-1h8l2 2l1-1l1 3l2 9l1 7l1 38l2 1h4l2 1l2-1l2 3h5l1-5l2-13l2-1l2-3l2-1l2-2l2 1l2 1l2-2l2 2h2l2 2l2 1l2-1l1 1l1-1l2 1h6l2-1l2-1l2-1l2 1l2-1h2l2-2l2-1l2-2l2 1h1l1 1l2 5l2 2l2-1h2l2-2l2-3h2l2 1l2-2l1 1l1-1l2 2l2-1l2 2l2-1l2 2h2l2 1l2 1h2l2 2h4l2 1h3l1-1l2-7l2-4h1l1 1l2 7l1 3l1 2l2 3l2 3l2 3l2 7l2 8h1l1-1l2-5l2-5l2-5h1l1-1l2-2l2-1l2-1l2-1l2-2h2l2-1h4l2-1h4l2-2h2l2 1l1-1l1 2l2 7l2-1h4l2-1l2 1l2 1l1-1h1l2 1l2 3h6l2-2l2-1h4l2-1l2 2l2-1l2 1l2 1l2-2l1 1h1l2-1l2 1h2l1 2h1l2 3l2 3l2-3l2-3l1-1l1 1l2 1l2 2l2 1h1l1-1l2-3l2-3l1-2h1l2 2h4l2 1l2 1h4l2 1l2-1h2l2-1h4l2-2h2l2 2h2l2-2l2 1l2-1l2 3l2-1l2 1h1l1 1l2 2l2 2h1l1-2l2-8l1-1l1 2l2-1l2 2h2l2 2l1 1h1l2-1l2 2h4l2-1l1 1l1-1l2-2l2-2l1-1h1l2 3l2 4l2 1l2-2l2 1l2-1l2-1h2l2-1h2l2-1l2-2h2l2-2l2-2l2-3h2l2 3l2 3l2 2h1l1-1l2-4l2 2l2 2l2 2l1-1l1 1h2l2 1l2-2h4l2-1h4l2-1l1 1l1-2h2l2 3h2l2 1l2 1l2 1" fill="none" stroke="#000"/>
<path d="M20 906h2l2-1h6l2-1l2-1h2l2-2l2 1h6l2 2h2l2 2l2-1l2-1l2-1l2-1h2l2-1h4l2-1h2l2 1h4l2-1l2-1h4l2 1l2-1h2l2-9l2-1l2-1h4l2 2h2l2 1l2 1h2l2-1h2l2-1h2l2 1l2-1h2l2 1h4l2 1h2l2 1h2l2-1l2 1h4l2-1h4l2 1l2-1h4l2 1h2l2-1h2l2 1l2-2l1 1l1-1l2 1l2 2h2l2 23" fill="none" stroke="#0022d0"/>
<path d="M188 917h2l2-1l2 1l2 1l2-1h4l2-1h2l2-2l2 1h2l2-1h2l2 2l2 2l2 3h3l1 1h2l2-2l2 1l2-2h2l2-2l2 1l2-1h2l2-1h2l2-1l2-1l2-1l2 1l2-1l2 2l2-1l2 1l2 1h4l2-1h2l1-1l1-2h4l2-1l2-1l2-1h1l1-3l2-13l1-3l1 2l1 1l1 7l2 12l2 2h2l2-1h2l1-1h5l2 3l2-1l2 1l2 1l2 1l2-2l2 1h2l2-1h4l2-1l2 1l2 1l2-1l2 1h2l2-1h2l2-2l2 1l2-1l2-1h2l2-1h4l1 1l1-1h6l2 1h12l2-1h4l2 1l2 1h2l2-2l2 1l2-1l2 1l2-1h2l2-2h8l2 1l2-2l2 1h2l2-1l2 1l2-1h2l2 2l2-2h4l2-1l2-1h6l2-1h6l2-1l2 1l2 2l2-1l2 1h2l2 1l2 1l2 1h2l2 2l2 1l2 1l2 1l2 1l2 1h2l2-1l2 1h4l2-1l2 1l2 1l2-1l2 1h2l2 1l2 1l2 1l2 1l2 2h3" fill="none" stroke="#0022d0"/>
<path d="M533 926l2-1l2 2l2 1h4l2 2l2-2l2-2l2-5l2-4l2-4l2-1l2-1l2-1l2-1l2-3l2-12l2-1h4l2-1l2 10l1 4l1-1h2l2 1l2-1h2l2-1h2l2-1l2-2l2-1l2-1h6l2 2l2-1l2 2l2-1l2 2l2 2l2-1h4l2-1l2-2h2l2-3h2l2-2l2-1l2-1h1l1 1l2 1l2-1l2 1h2l2 1l2 1l2-1l2 1l2 1l1-1l1 1l2-1l2 1h4l2-1h6l2-1l2 1l2-1h2l2-1l2 1l1-1h3l2-4l2-15l1-4l1 4l2 21l1 7l1 1l2 3l2 3h2l1 1h3l2-2l2 1l2-3l2-1l2-1h6l2-1l2 1l2-1h6l2-1h2l2 1h4l2-1h2l2 1h2l1-1h1l2 1h2l2 1l1-1l1 2l2-1l2 2l2-1l2 1l2 1l1-2l1 1h2l2-1l2-1l2 1l2-3l2 2l2-2h6l2 1h2l2 1l2 2l1-1h1l2 2l2 2h2l2-1l2-2h2l2-1l2-2l2 1l2-1l2-1l2-1h3l1-1h6l2-1l2 2l2-1l2 1l2 1l2-2l2 1h1l1-1l2 1h2l2 1h4l2 1l2-1h4l1 1h1l2-2h6l2-1h2l2-1l2 1l2-2l1-1l1 1h6l2-1h2l2-1l2 1h2l1-1l1 1l2 2l2 4l2 1h2l2-1h2l2-1h2l2-2l2-1l2-2l2-1h2l2 2l2-1h4l2 1h4l2 2l2 1l2 2h3l1-1l2 1l2-1l2-1h2l2-2h2l2-1h2l2-1l2 1l2 1l2-1l2 2h2l2 2h4" fill="none" stroke="#0022d0"/>
<path d="M20 907h4l2-1l2 1l2-1l2-1l2 1l2-1h2l2 1l2-2l2-1h1l1 2l2 1l2 2l2-1l2-1l2-1h2l2-1h2l2-2l1 2l1-1h4l2-1h2l2-1l2 1l2-2h2l2 1l1-1h1l2 1h2l2-1l2-9l2-2l2 1l2-2l2 1l2 1l2 2l2 1h2l2-1l2 2l2-1l2-1l2-1l2-1l2 2l2-1l2 1l2 2l2-1l2 1l2 1l2-1h12l2 1l2-1h2l2-1l2 1h4l2-1h2l2 1h5l1-1h2l2 2l2 2l2 22" fill="none" stroke="#0022d0"/>
<path d="M188 917l2-1l2 2h2l2-1l2 2h2l2-1l2 1l2-2h2l2-1l2 1l2-2l1 1h1l2 1l2 2l2 2l2 2h2l2-1h2l2 1l2-2h2l2-1h2l2-1h2l2-1l2-1l2 1l2-1l2-1h12l2 1l2 1l2-2h2l1-1l1-2h2l2-1l2 1l2-1h2l1-1l1-3l2-13l1-1h1l1 3l1 5l2 13l2-1l2-1l2 1l2 1l1-2l1 1l2 1h4l2 1h2l2 1h4l2 1l2-1l2-1l2 1h4l2 1l2-1l2 1h2l2-1l2 1l2-1l2-1h2l2-1l2-1l2 1l2-2h2l2 1l1-2l1 2h4l2-1h2l2-1l2 1h2l2 1h4l2-2l2 1h2l2 1h4l2 1l2-1h2l2-1l2 1l2-1l2-1h4l2-1h4l2-1h4l2 1l2-1h2l2 1l2-1l2-1l2 1h2l2-2l2 2l2-2h2l2-1h2l2-1l2 1l2 1l2-1h2l2 1l2-1h2l2 2h2l2 2l2 1l2 1l2 1l2 1l2 2h4l2 1l1 1l1-1h6l2-1l2 1h2l2-1l2 2h2l2 2l2-1l2 1l2 1l2 1l2 2h2l1-1" fill="none" stroke="#0022d0"/>
<path d="M533 927h2l2 1l2 2h2l2 2l2-1l2-1l2-3l2-4l2-5l2-2l2-2l2-2l2-1l2-2l2-2l2-10l2-2h2l2-2l2 1l2 9l1 5l1-1l2 1l2-2h4l2-1h4l2-2l2-1l2-2h2l2 1h2l2 1h2l2 1l2 1l2 1h2l2 1h1l1-1l2-1l2-1l2-1l2-2l2-2h2l2-1l2-1l2-1l1 1h7l2 1l2 1h2l2 2l2 1l2 1l1-1l1 1l2-1h4l2-1l2 1l2-1l2 2l2-2h4l2 1l2-1l2-1h4l2-2l2-3l2-16l1-3l1 4l2 21l1 7l1 2l2 2l2 2l2 3l1-1h1l2-1l2-1l2-2h2l2-1l2-1h2l2-1l2 1l2-2l2 1l2-2h2l2 1l2-1h2l2 1h10l2 1l2-1h2l2 1h2l2 1h1l1 1l2-1l2 1l2-1h2l2 1l1 1l1-1h4l2-2h4l2-2h4l2 1h6l2 2l2-1l1 1h1l2 2l2 1h4l2-1l2-2l2-1l2-1l2 1l2-1h4l2-1l1-1h1l2 1l2-1l2-1l2 1h6l2-1h2l2 1l1-1h3l2 2h6l2-1l2 1h10l2 1l2-2h2l2-1h2l2-1l2 1l1-1l1 1l2-2l2-1h2l2 1l2-1h4l2 1l1-1h1l2 4l2 2l2 3l2-2l2 1l2-2l2-1l2-1l2-1l2-1l2 1l2-2h6l2-1l2 2l2-1l2 1l2 2l2 1l2 1l2 1l2-1h1l1 1l2-1l2-1l2-1h2l2-1h4l2-1h2l2 1h4l2 1h2l2 2h2l2 1" fill="none" stroke="#0022d0"/>
<path d="M20 963h2l2 1l2-1l2-1h2l2 1l2-1l2-1l2 1h2l2-2l2-2l1-1l1-1l2 1h8l2 1h2l2-1h4l1-1l1 2l2 9l2 7h8l2 7l2 9h4l2 2l2-1h4l2-2h2l2-1l2 1h2l2-1h2l2 1h6l2 1h2l2-1h2l2 1h2l2-1h2l2-1h2l2 1l2-1l2 1h4l2 1l2-1l2-1l2-1l2-1h2l2-2l2 1l2 1l2 1l2 3l2-1h2l2 1l2 1h7" fill="none" stroke="#0022d0"/>
<path d="M188 980l2-2l2-1l2-2l1-2l1-1l2-9l2-6l2 1l2 1l1 3h1l2 1h2l2 1l2 1l1-1l1 1l2-1h7l1-1h4l2 1l2-1l2 1h2l2 1h2l2-1l1 1l1-1h2l2-1l2-2l2-1l2-1l2-1l2-1l2 2l2-1l1-2l1 2l2 2l2 2l2 2l2 1l2-1h2l2-1l2 1l2-1l2 1l2-2l2 1h2l2-1l1-2l1 1l2-3l2-2l2 1l2 2l2 2l2 2l2 2l2 3l2 1h2l2-1h2l2-3l2-1h1l1 1l2 4l2 4l2 3l1 2l1 1l2-3l2-4l2-2l2-2l2-3h2l2-1h6l2-1h2l2-1l2-1h2l1-1h3l2 1l2 2l2 1h2l2 2h2l2-1l2 1l2-1h6l2 2l2-1h2l2 1h4l2 1l2 1l2 1l2-1h2l2-3l2-1h2l2 1l2 3l2 4l2 1l2-2l2-5l2-5l1 1l1-1h4l2 3h2l2 1h2l2 2l2-1l2 1l2 1l2 1l2 2h2l2 1h2l1-4l1-6l2-14l2-6l2-5l1-2h1l2-1l2-1h2l2 2l2-1h2l2-1l2 1l2-1h12l2 1l2-2l2 2l2-1l2 2l2-1l2 1h6l2-1" fill="none" stroke="#0022d0"/>
<path d="M533 934l2-1h6l2 1l2-1h8l2-1l2 1l2 1l1 1h1l2 10l1 9l1 38l2 1l2 1h6l2-1l2 2h3l1-4l2-12l2-3l2-2l2-1h2l2-1l2 2h6l2 3h2l2-1l1 1l1 1l2-2h2l2-1l2 1l2-1l2-1l2-1h4l2-1l2-1l2-1l2-1l2-1l1 1l1 1l2 3l2 4l2-1l2-1l2-1l2-1l2-1l2-2h2l1 1l1-2l2 1l2 1h2l2 1h2l2 1l2 1l2 2h6l2 3l2-1h2l1 1l1-1l2-5l2-6l1-1l1 1l2 7l1 2l1 3l2 5l2 2l2 3l2 5l2 3l1-1h1l2-4l2-4l2-3l1-1l1-2l2-1l2-2l2-1l2-1l1-1h1l2-1l2-1h4l2 1h2l2-1l2-2l2 1l2 1l2-1l2-1h2l2-1h1l1-1h7l1-1l2 1h8l1 2l1 1l2 2l2 2l2-1l2-2l2-2l2-3l2-1l2-2l2-1l2 1l2-1l2 1l2-1h1l1-1l2 5l1 1l1 2l2-2l2 1l2 1l2 1h2l2-2l1 2l1-3l2-8l1-2h1l2 1l2 1l2 1l2 2h4l2 1h4l2-1h4l2-1l2 2l2-1l2 1l2-2h2l2 1h1l1 1l2 1h2l2 4l2 1l1-1h1l2-1l2-2l2-2l2-1l1-1l1 2h2l2 1l2-1h2l2 1h2l2 1l2 1h4l2-1l2-3l2 1l1-1h1l2 8l1 1l1 1l2-2h2l2-1l2 1l2-2h2l2-1l2-1l2-1h2l2-1l2-1l2-1l1-1l1 1h4l2 1l2 2l2 1l2 1l2 1l2 2h2l2 2h2l2 1l2-2l2 1h6l2-1l2 1h1l1-2l2 1h2l2 1h2l2 1l2 1" fill="none" stroke="#0022d0"/>
<path d="M20 964h2l2-1h2l2 1l2-1l2 1l2-1l2 1l2 1l2-2l2-1l2-1l1-3l1 1h6l2 1l2-1h2l2 1h2l2-1h3l1 2l2 7l2 8h2l2 1l2-1h2l2 8l2 7l2 2l2-1l2 1h2l2-1l2-1l2-1h4l2-1l2 1h2l2 1h2l2-1h10l2 1l2-1h2l2 1l2 1h2l2-1h2l2-1l2 1l2 1l2-1h4l2-2h2l2-1l2-1h6l2 2h2l2 2h6l2-1l2 2l2 1l1-1" fill="none" stroke="#0022d0"/>
<path d="M188 981l2-2l2-1l2-2l1 1l1-4l2-9l2-6l2 1l2 3l1 1h1l2 1l2 1h4l1 1l1-1h6l2-1l1 1h1l2-1l2 2l2-1h2l2 1h4l2 1h6l2-2l2-1l2-3l2-1l2 1l2-2l2 1l2-1h1l1-1l2 4l2 3l2 3h2l2-2l2-1l2 1l2-2h6l2-1l2-1l2 1l1-1l1-1l2-2l2-1l2 1l2 2l2 2l2 3l2 2l2 2l2 1h2l2-1l2-3l2-1h2l1-1l1 1l2 3l2 6l2 3l1 1h3l2-4l2-3l2-2l2-1l1-1l1-1h2l2-1l2-1h4l2-1l2 1l2-2l2-2l1 1l1-2l2 2l2 2l2 1l2 2l2 1h2l2 1l2-1h4l2 1l2-1l2 1h6l2-1l2 1l2 1l2 1l2-1l2 1h2l2-2h2l2-2l2-2l2 2l2 4l2 3l2 2l2-2l2-6l2-3l1-1h1l2 1l2 1l2-1l2 1l2 2l2 1l2 1h6l2 1l2 1l2 3l2 1l1-1l1-1l1-4l1-5l2-14l2-9l2-4l1-1h5l2-1l2-1l2 2l2-2l2-1l2 2l2-1h2l2 2l2-1l2 1l2-1l2 1h4l2-1l2 1l2 1l2 1l2-1h2l2-1h4" fill="none" stroke="#0022d0"/>
<path d="M533 934h6l2 1l2 1l2-1h4l2 1h2l2-1l2 1h3l1 1l2 10l1 9l1 38h2l2 1l2-1l2 1l2 1l2-1h2l2 1l1 1l1-4l2-13l2-3h2l2-3l2 1l2-1h2l2 1l2 1h2l2 2h8l2-2l2 1l2 1l2-3l2 1l2-1h4l2-1h2l2-1l2-1l2-1h1l1 1l2 4l2 3l2-1l2-1l2-1l2-1l2-1l2-1h2l1-1l1 1h2l2-1l2 1l2 1h4l2 1l2 3l2-1l2 1l2 1l2 1l2-1l2 2l1-2h1l2-5l2-4l1-3l1 2l2 7l1 4l1 1l2 3l2 2l2 5l2 4l2 4l1 1l1-1l2-4l2-3l2-4l1-2l1-1l2-4l2-1l2-2h2l1-2l1 2l2-1l2-1l2 1l2-2h6l2-1h10l2-1l1-2l1 2l2-2h4l1-1l1 1l2-1h2l2 2l2 1h4l2 3l2 1h2l2-2l2-4l2-2h2l2-1h6l2-1h3l1 1l2 4l1 1h3l2-1l2 1l2 1l2-2h2l1 1l1-3l2-6l1-2l1 1h2l2 2h2l2 1h1l1 1l2-1l2 2l2-1l2 1l2-1l2-1l2 1h2l2-1l2 1h2l2-1l2 1h4l2 1l2 2l2 1l2 2l1-1l1 1l2-1l2-1l2-1l2-3l1 1l1 1h2l2-1l2 1h4l2 1h2l2 1h2l1-1h1l2-1l2-1l2-2l1 1l1 1l2 7l1 2l1-1l2-1h2l2-1l2 1l2-2h2l2-2l2 1l2-2l2-1h2l2-1h2l1-1h1l2 1l2-1l2 1l2 1l2 1l2 1l2 1l2 1l2 2l2 1l2-1l2 2h2l2-1l2-1l2 1l2-2l2 1h3l1-1l2 2h2l2 1h4l2 2" fill="none" stroke="#0022d0"/>
</g>
<rect x="20" y="1145" width="165" height="1" fill="#9c6464"/>
<rect x="188" y="1145" width="342" height="1" fill="#9c6464"/>
<rect x="533" y="1145" width="471" height="1" fill="#9c6464"/>
<rect x="20" y="1152" width="165" height="1" fill="#9c6464"/>
<rect x="188" y="1152" width="342" height="1" fill="#9c6464"/>
<rect x="533" y="1152" width="471" height="1" fill="#9c6464"/>
<rect x="20" y="1222" width="165" height="1" fill="#9c6464"/>
<rect x="188" y="1222" width="342" height="1" fill="#9c6464"/>
<rect x="533" y="1222" width="471" height="1" fill="#9c6464"/>
<rect x="20" y="1229" width="165" height="1" fill="#9c6464"/>
<rect x="188" y="1229" width="342" height="1" fill="#9c6464"/>
<rect x="533" y="1229" width="471" height="1" fill="#9c6464"/>
<g shape-rendering="crispEdges">
<path d="M20 1165h4l2-1h4l2 2l2-1l2 1l2-1l2 1h2l2 1h2l2 2l2 4l2 1l2-1h2l2-1l2-1h2l2-3l1 1l1-1l2-3l2-1h2l2-2l2 2l2-2l2 1l2-2l2-2h2l2 4l2 3l2-3l1-4l1-8l1-5l1-2l2 1l2 1l2 2h4l2 1l2 1l2-2h2l2 1l2-2h2l2 1l2-1h2l2 1l2-1h2l2 1h2l2-1l2 1l2-1h2l2 1l2-1l2-1l2 1l2 1l2-1h4l2-1l2-1l2 1l2-1l2 1l2 1h2l2 3h2l2 1l2 1l1-1l1 10l1 17" fill="none" stroke="#000"/>
<path d="M188 1171l2-3l2-1l2-3l2-2l2-2l2 1h2l2 1l2 2l2 2l2 2l2-1l2 1h2l2 1h2l2 1l2-1h1l1 1h2l2-1l2-2l2 1l2-1l2-1l2-1l2-1h2l2-1h2l2-3h2l2 1l2-2l2 1l2 1l2 1l2 2h2l2 3l2-1l2 2l2-2h2l2-2l2-1h2l2-3l2-1l2-1h2l2-2l2 1l2 3l2 2l2 3l2 2l2 2l2 1l2 3l2 1l2-1l2-2l2-3l2-5l2-1l2 1h2l2 2l2 2l2 2l2 2l2 2l1-1l1-1l2-1h2l2-4l2-1l2-2h2l2-2l2 2l2 4h1l1 1l2-3l2-1l2-1l2-2l1-1l1 1h2l2 1l2-1h2l2 1l2 1h2l2 2l2-1h4l2 1l2 1l2 1l1-1l1 1l2 4l2 4l1-1l1 1l2-2l2-2l2-3l2-1l2-2h2l2-1l2-1l2-2l2-1h6l2-1l2 1l2-2l1 1h3l2 3h2l2 1l2 2l2 1h2l2-3l2-5l1-3l1 1h2l2 2h2l2-2h2l2 1h2l2 1h8l2 1l2 2l2 1l2 2l2 4l2 3l2 4l2-3l2-4l2-4l2-3l2-1h2l2-1h4l2 1l2-1l2 2l2 4l2 1l2 3l2 3l2 3l1 2" fill="none" stroke="#000"/>
<path d="M533 1169l2 1l2 2l2 2l2 3l2 3l2-1l2-5l2-9l1-1l1-1l2 2h2l2 1l2-1l1 2l1-1l2-4l2-4l2-1l2-1l1-1l1 1l2 4l2 1l2 2l2 2l2 3l2-1l2 1l2 1l2-1l2-1l2-1l2-1l2-1l2-1h1l1 1l2-1l2 2l2 2h2l2 1l2 2l2-1l2 2l2 2l1-1h1l2-1l2-1l2-2l1-1h3l2 2l2-1l2 1l2 1h2l2 1l2 2l2 1h4l2-1l2-1l2 1l2 1h2l2-1l2-1l2 2l2-1h2l2 1l2-1l2 1l2-1l2-1h2l2-1l2-2l2 1l1-1h1l2-1l2-2l2-1l2-1l1 1h1l2 1l2 4l2 2l2 2h2l2-2h4l2-1l2-1l2-1h4l2-1h2l2-2h2l2 1l2-1l1-1l1 1l2 2l2 2l2 3l2 1h2l2-1l2-2l2-2l2-1h1l1-1l2 2l2 2l2 2h2l2 2l2-1h2l2 1h2l1 2l1-2l2 1l2 3l2 1l2-1l2-1l2-2l2-3l2 1l2-3h1l1-1h2l2-1l2-1h1l1 1l2 4l2 1l2 2l2-1l2 1l2-2h2l2-1l2 2l1 1l1-3l2-19l1-3h1l2 1l2 2l2-1l2 2l2 1l2-1h4l2-1l1-1l1 3h2l2 3h4l2 2l2-1h6l2 1l2-1h2l2-1l1 1h1l2-1l2-2l2-2l2-2l1 1h3l2 1l2-1l2 1h6l2 2l2 1l1-2h1l2-1l2-3l2-1l1 1l1 1l2 7l1 1h1l2-2l2 1l2-1l2-1h2l2-1l2-1l2-1h2l2-2l2 1l2-1l2 2h2l2 1l2 1l2 1l2 2l2 3l2 1l2 1h2l2-1h2l2-2l2-2l2 1l2-3l2-1l2-2h2l2-1l2 1l2 2h2l2 1l2 1l2-1l2 2l2 1" fill="none" stroke="#000"/>
<path d="M20 1168h2l2-1l2 1l2-1h2l2-1l2 1l2 1h2l2-1l2 1l2 1h1l1 1l2 3l2 2l2 2h2l2-1l2-2h4l2-2l1-2l1 1l2-2l2-2l2-1l2 1l2-2h2l2-1h2l2-3l1-1l1 2l2 3h2l2-2l1-2l1-8l1-5l1-2l2 1l2 1l2 1l2 1l2-1l2 3l2-1l2-1h2l2-1h2l2-1l2 2h4l2-1l2 2l2-1l2-1l2 1h2l2-1l2 1h2l2 1l2-1h2l2-1h4l2 1l2-2h2l2 1h2l2-2l2 2l2-1l2 1l2 3h2l2 1h2l1-1l1 10l1 17" fill="none" stroke="#000"/>
<path d="M188 1173h2l2-3l2-2l2-4l2-1h4l2 1l2 3l2 2l2-1l2 2h2l2 1l2-1l2 1h4l1 1l1-1h4l2-1h2l2-1l2-1l2-1l2 1l2-3l2 1l2-1h4l2-1l2-1h2l2 1l2 1l2 2l2-1l2 2l2 1l2-1l2 1l2-1l2-1l2-2h2l2-3h2l2-3l2 1l2-1l2 1l2 2l2 2l2 2l2 2l2 3l2 2l2 1l2 2h2l2-1l2-5l2-4l2-3l2 1l2 1l2 2l2 4l2 1l2 2h6l2-1l2-4l2-1l2-1l2-2l2 1h2l2 3l1-1h3l2-1l2-2l2-2l1-1l1 1h4l2 2h4l2 1l2-1l2 1h2l2 1l2 1l2-1l2 1h3l1 2l2 4l2 2l1 1h1l2-2l2-2l2-3l2-1l2-1l2-1l2-1l2-1h2l2-1l2-1l2-1h2l2 1l2-1h2l1-1l1 1h2l2 1l2 2l2 2h2l2 1l2-1l2-1l2-5l1-1l1-1l2 1h6l2 1l2-1h2l2 1h8l2 2l2 1l2 1l2 2l2 4l2 3l2 3l2-2l2-4l2-5l2-3h2l2-1l2-1h6l2 1l2 2l2 2l2 2l2 2l2 5l2 2l1 2" fill="none" stroke="#000"/>
<path d="M533 1168l2 4l2 2l2 2l2 3l2 1l2 1l2-5l2-7l1-3l1 1l2-1l2 2l2 1l2-1l1 3l1-2l2-4l2-4l2-1l2-1l1-1l1 2l2 1l2 2l2 3l2 1l2 2l2 2h4l2-1h2l2-2l2-1h4l1-1l1 1h4l2 1l2 1l2 1l2 2h2l2 2l2-1l1 2h1l2-2l2-2l2-1h6l2 1h2l2 2l2 1l2 1h2l2 1h2l1 1l1-1h2l2 1h4l2-2h2l2 1h2l2 1l1-1h1l2 1l2-1h2l2-1l2-1l2-1l2 1l2-3h3l1-1l2 1l2-3l2-1h2l1-1l1 2l2 1l2 3l2 2l2 2l1 1h1l2-2l2 1l2-1l2-1l2-2l2 1l2-2h2l2-1h2l2-1h4l2-1h1l1 1l2 1l2 2l2 4l2 1h1l1-1l2-1l2-2l2-1l2-3h2l2 1l2 2l2 2l1 1h3l2 1l2-1l2 2l2 1l1 1h1l2 1l2 2l2-1l2 1l2-2l2-1l2-3l2-1l2-2h4l2-1l2-1h2l2 5l2 1h4l2-1l2 2l2-1h4l1 2l1-5l2-17l1-3h3l2 2l2 1h2l2 1h4l2-1l2-1h1l1 1l2 2l2 2h2l2 2l2-1h2l2 1h2l2-1l2 1l2 1h2l2-1l1-1h3l2-3l2-2l2-1h4l2 1l2 1l2-1l2 2h2l2 1l2-2l2 1l1-1h3l2-3l2-3l1 2h1l2 8h1l1 1l2-1h2l2-2h2l2 1l2-2h2l2-1l2-1l2-2l2 1l2 1l2-1l2 1l2 1h2l2 2l2 2l2 4l2 1l2 1l2 1l2-2l2-2l2-1h2l2-2l2-1l2-1l2-1h2l2-2l2 1h2l2 2h2l2 2l2-1l2 2l2-1" fill="none" stroke="#000"/>
<path d="M20 1216h4l2-1l2-1l2 1l2-1h4l2-1l2-1h2l2 7l1 2l1-2h2l2-3h2l2-1l1-3l1 1h2l2-2l2 2l2-1l1-1l1 1l2 6l2 15l1 4l1 1l2 1l2-1h2l2 1l2 2l2 1l2-1l2 3l2-1l2 1l2 1h6l2-1h6l2-1h2l2-1l2 2h2l2 1h2l2 2l2-2l2 1h2l2-1l2 1h2l2-1l2 1l2-2h4l2-2l2 2l2-1l2-1h8l2 1l2-1l2 1l2 1l2-1h2l1 1l1-1l2-4h4l2 2h1" fill="none" stroke="#000"/>
<path d="M188 1237l2 3l2 3h2l2-9l2-9h2l2-2h2l2 1l2-1h6l2 1l2 1l2 1l2-3l2-2h6l2 2l2 1l2-1h2l2 1h5l1 1l2-1l2-2l2-1h2l2-3h4l2-1l2 1l1-1l1-1l2 3l2 3l2 2h4l2 1l2-1h4l1-1l1 1l2-1h2l2-3h2l1-1l1-1l2 3l2 1l2-4h2l1-1h1l2 1l2 4l2 3h2l1 1h1l2-2l2-1l2-1l2-1h1l1 1l2 7l2 6l1 2h1l2-1l2-2l2-1l2-2l2-2l2-1l2-1l2-3h4l2 1h6l2-2l2-2l1-1l1 1h2l2 1l2 1l2-1l2 1l2 1l2 1l2 1l2 2l2 1l2-1l2 1l2-1l2-1h2l2-1h4l2 1l2 2l2 1l2 1h4l2-2l2-2l2-1h2l2-1l2-1l2 1l2-2l2 1h2l2 2l2 2h2l2-3l2-1l1-1h1l2 1l2 2l2 2l2 2l1 2l1-1l2 2l2 1l2-1l2 2h1l1-1l2-6l2-10l2-9l2-3l2 1l2-2l2-1l2-1l2-2l2-1l2-2l2-1l2-1h4l2 1l2-1l2 2l2 3h1l1 1l2-4l2-3l2-2l2 2l2 2l2 4l2 1l2 1l2-1l2-2l2-2" fill="none" stroke="#000"/>
<path d="M533 1196h2l2 1h4l2 1l2 1h2l2-2h4l2-1l2 1h2l2 5l1 1l1 9l2 19l2-3l2-5l1 2l1-1l2 3l2 4l2 1l2 3l1-1l1-1l2-2l2-3l2-3l2-3h1l1-3l2 1l2-2l2-1l2 1l1-2l1 1l2-1l2 1l2 1h2l2 1l2 1l2 1l2 1l2-1h1l1-2l2-2h2l2-3l2-1l2-1h4l2 2l2 1l2 5l2 3l2 1h2l2-2l2-3l2-1l2-1h6l2 2h2l2 1l2 1l1 1l1-2l2 2l2-1h2l2 1h2l2 1h4l2 2l1-1l1-2l2-12l1-2l1 2l2 4l2 6l1 4l1 6l2 11l1 3l1 2l2 3l2 2l2 2h1l1 1l2-4l2-6l2-4l1-1l1-1l2 1h4l2-1l1 1l1 1l2-1l2 1l2 1l2-1h2l2-1l2-1l2 1h4l2-1l2 1l2 1l2 1h2l2 1l2 1l2-1l1 1l1 2l2 1l2-1l2 2l2 2h2l1-1l1 1h2l2-4l2 1l2-3h1l1-1l2-1l2 1l2-2l2 1h2l2-1h2l2 1h1l1 3l2 10l1 3l1-1h6l2-1h2l2-2l2-1l2-1l2-4l2-1l2-1l2 1l2 2l2 3l2 2l2 1l2 1l2-2l2-1l2-1l2-1l2-1l2-1h2l2-3h2l2 1l2 1h2l2 2l2-1l2 2h4l2-1l2-1l2-4h3l1-1h2l2 2h4l2 1h2l2-1l2 1l2-1l2-1l2-1l2-1l2 1l2 3l2 3h2l2 1l2 1h2l2-1l2-1l2-1l2-2h2l2-1l2-1h2l2-2l2-2l2-2l1-1l1-1l2 2l2 1l2 2l2 2l2 2l2 1l2 1l2 1l2 2h6l2-2h2l2-1l2-1h2l2-2l2-1h2l2 1l2 2h2l2 3l2 2" fill="none" stroke="#000"/>
<path d="M20 1219h2l2-1l2-1l2 1l2-1h2l2-1l2 1l2-1l2-1l2 1l2 4l1 4h1l2-3l2-1l2-1l2-4l1 1h1l2-2h2l2 1l2-1l1 1h1l2 7l2 13l1 6l1-1l2 2l2-2l2 2h2l2 1l2 1h2l2 2l2-1l2 1h2l2 1l2-2l2 1l2-1h4l2-1h2l2 1h2l2 1l2 1h2l2 2l2-1l2 1l2-1l2 2h4l2-1l2 1l2-3l2 2l2-3h2l2-1l2 1h4l2-1h2l2 1l2-1h8l2 1h3l1-1l2-1l2-3l2 1l2 1h1" fill="none" stroke="#000"/>
<path d="M188 1240l2 3l2 2l2 2l2-11l2-11l2 1l2-1l2 1h2l2-2l2 2h2l2 1h2l2 1h2l2-2h2l1-1l1-1l2-1l2 2h2l2 1l2 1l2-1l2 1h2l2 1l1-1l1-1l2 1l2-1l2-3l2-1h2l2-2h2l2-1h2l1 1l1-1l2 3l2 3l2 2h2l2 1l2-1l2-1l2 1h2l1-1l1 1l2-2l2-1l2-3h2l1 1l1-1l2 1l2 1h2l2-2l1-2l1 1l2 1l2 2l2 4l2 2h2l2-1l2-2l2-1l2-2h1l1 1l2 8l2 6h1l1 2l2-2l2-2l2-1l2-2l2-3h2l2-1l2-3l2 1l2-1l2 1l2 2l2-1l2 1l2-2l2-4l1 1l1-1h2l2 1h4l2 1l2 1l2 2l2 1l2 1l2 2l2-1h2l2-1h2l2-2h2l2 1l2-1l2 2l2 1h2l2 2l2-1l2-1h2l2-1l2-1l2-2l2 1l2-1l2-1l2 1h2l2 2h2l2 2h2l2-3l2-1l1-2h1l2 2h2l2 4l2 2l1 1l1 1h2l2 1h2l2 2h2l2-6l2-11l2-9l2-2l2-1l2-2l2-1l2-2h2l2-2l2-2l2-2l2 2h2l2-1h2l2 1h2l2 3l1 1h1l2-3l2-3l2-2l2 2l2 2l2 4l2 1h4l2-2l2-3" fill="none" stroke="#000"/>
<path d="M533 1197l2 1l2 1l2 1h2l2 1l2-1l2 1h2l2-3l2 1l2-1l2 1l2 1l2 4l1 2l1 8l2 19l2-2l2-4l1-1l1 1l2 4l2 2l2 3h3l1-1l2-2l2-4l2-2l2-3l1-1h1l2-2h2l2-1l2-1l1-1l1 2l2-1h2l2 1l2 1l2-1l2 2h2l2 2h4l2-3l2-2l2-3h2l2-1l2-1l2 2h2l2 4l2 3l2 3l2 3l2-2l2-2l2-3l2-3h2l2 1l2 1l2-1l2 1l2 1h2l2 1l1-1h1l2 2h2l2 1h4l2 1h2l2 1l2-1l1 1l1-3l2-11l1-2l1 2l2 3l2 6l1 3l1 6l2 12l1 3l1 1l2 4l2 3l2 2h2l2-5l2-4l2-4l1-2h1l2 1h2l2-1h2l1 1l1-2l2 1h16l1-1h3l2 2h4l2 1l2 2l2 1h2l1 1h1l2 1l2 1h2l2 2l2 1l1-1h1l2-1l2-2l2-1l2-2h2l2-1l2-1h4l2-1l2 1l2-1h2l1 1l1 4l2 10l1 2l1 2l2-2h2l2-1h4l2-1l2-2l2-1l2-4l2-1h4l2 2l2 3l2 2l2 1l2-1h4l2-2l2-2l2-1l2-1l2-1h2l2-2l2 1l2 1h2l2 2l2 1h2l2 2l1-1h1l2-2l2-2l2-1l2-1h1l1-2l2 2h2l2 1h4l2 1h2l2-1l2-2l2 1l2-2h4l2 2l2 4l2 2h6l2-1h2l2-1l2-1h2l2-3l2 1l2-2l2-2l2-3l2-2h2l2 1l2 2l2 1l2 4l2 1l2 1l2 1h2l2 2l2 1l2-1h2l2-1h2l2-1l2-2l2-1h2l2-2l1 1h1l2 2h2l2 1l2 3l2 1" fill="none" stroke="#000"/>
<path d="M20 1156l2 1l2-1l2 1h4l2 1l2-1h1l1 1l2-2l2-1l2-2l2-1l1-1l1 1l2 1l2 2h2l2 2h2l2-1h2l2-3h2l1-1h5l2 2h4l2-1l2 1l2-1l2 1l2 1l2 2l2-1l2 1l1 1l1-7l1-7l1-1l2 2h2l2 2l2 1h2l2 1l2 1h4l2-1l2-1h2l2-2l2 2h4l2 2l2-2h2l2 2l2 1l2-2l2 1l2-1l2-1h6l2 1l2-1h8l2-2l2 1h4l2 3l2 2h2l2 1l2 1l1-1l1 8l1 14" fill="none" stroke="#c00000"/>
<path d="M188 1170l2-1l2-3l2-2l2-3h4l2 1l2 1l2 2l2 2l2 1h2l2 1h8l2-1h1l1 1l2-1h2l2-1l2 1h2l2-2l2-1l2-1l2 1l2-2h10l2-1h2l2 1l2 1h6l2 1l2-1l2-2l2-1l2-1l2-2l2 1l1-1l1-1h6l2 1l2 2l2 1l2 1h2l2-2h2l2 2l2 3l2 4l2 2l1 1l1-1l2-5l2-6l2 2l2 1l2 2l2 1l2 1l2 1l2 1h2l2-3l2-2h2l2-2l1-1l1-2h2l2-1l2-1h4l2-2h2l2 1l2-1l1 1h3l2 1l2 1l2 1h2l2 2l2-1l2-1h4l2-3l2-1h2l2-1h2l2 2l2 4l2 3l2 1h1l1-1l2 1l2-1l2-1l2-2h2l2-2l2 1l2-1l2-3h2l2-1l2-1l2-1h4l2 1h4l2 1l2 3l2-1l2-1l2 1h2l2-3l2-1h6l2 2l2-2l2 1l2 1h2l2 2h4l2 3h2l2 4l2 3l2 4l2 2l2 4h2l2-3l2-4l2-1l2-2l1-1l1 2l2-1l2 1h6l2 2l2 1l2 1h2l2 3h2l1 1" fill="none" stroke="#c00000"/>
<path d="M533 1166l2 2l2 2l2 2l2 2l2 1h2l2-1l2-3l2-3l2-2l2-2h7l1-2l2-12l1-3l1-1l2-2h2l2 1l2 1l2 5l2 3l1 2h1l2-1l2-1l2 1h2l1-2l1 1l2-1h4l2-1h2l2 1l2 1l2 3h10l2-1h2l2-2h2l2-1h2l2-1l2-1l2-1l2 2l2 1l2-1l2-1l2 2l2-2l2 1h2l2 1l2 2h2l2 1l1 1l1-1h2l2 1h4l2-1h6l2-2h1l1-1h2l2-2l2-2l2 1l2-1l2-1l2-1l2-2l2 2l1 1l1 3l2 3l2 5l2 5l2 2h1l1 1l2-2l2-1l2-3l2-2l2-4l2-3l2 1h10l2 2l2-1l2-1l2 1h4l2 1l1-1h3l2 1h2l2-2l2 2h2l2-2l2 1l1 1l1-1h2l2 3l2-1l2 1l2 1h2l2 1h2l2-2l2-2h1l1-1h2l2 1l2-1l2-1l2 1l2 1l2-1l2 1l2 1h2l2 2h2l2-3h2l1-1h1l2 2l2 1l2 3l1-2h1l2-9l1-1h1l2 1h2l2 2h1l1 1l2-1h4l2-1h2l2-1h4l2-1l1 1l1-1l2 1l2 2h4l2 1l2 1l2 1h5l1 1l2-1l2-3l2-3h4l2 1l2-1l2 1l2 1l2 1l2-1h6l1 1h1l2-2l2-1h2l2 2l2 3h2l2 2l2-1h8l2-1h2l2-1l2-1h2l2-1l2-1l2-1l1-1l1-1l2 1l2 2l2 2l2 1l2 2l2 1h6l2-1l2-1l2 1l2-2l2 1l2-1h2l2-1l2 2l2-1l2 1l2 1h2l2-1l2 1l2 1" fill="none" stroke="#c00000"/>
<path d="M20 1155l2 1l2-1l2 2h2l2 1h4l1 1h1l2-1l2-2l2-3l2-1l1 1l1-2l2 2l2 3l2 2l2 1l1-1h3l2-1l2-2l2-1l1-1l1 1h2l2 1l2-2l2 2h2l2-1l2 2h4l2 1l2-1l2 2l2 1l1 1l1-9l1-5h1l2 1l2 1l2 2l2 1h2l2 1l2 1l2-1l2-2h2l2-1h6l2 1h2l2 1l2-1l2 1h4l2 1l2-1h2l2-1l2 1h2l2-1h2l2-1l2 1h4l2-1l2 1l2-2l2 1l2 1l2 1h2l2 2h4l1-1l1 9l1 15" fill="none" stroke="#c00000"/>
<path d="M188 1171l2-2l2-2l2-2h2l2-3l2 1h2l2 3l2 1l2 1l2 2l2-1l2 1l2-1l2 1l2 1h5l1 1l2-1l2-2l2 1h2l2-1l2-2l2-1l2 1l2-2h2l2 1l2-1l2-1h4l2 1l2-1l2 1l2-1l2 1l2 2l2-2l2 2l2-2h2l2-1l2-2l2 1l2-3l1 1l1-1h4l2-2l2 1l2 2l2 1l2 1h2l2-1h2l2 2l2 4l2 4l2 2l1 1l1-2l2-6l2-3h2l2 1l2 1l2 2l2 1l2 1l2 1l1-1l1 1l2-2l2-3h2l2-2l1-1l1-1h2l2-1l2-1h4l2-2h4l2-1h1l1-1l2 2h2l2 1l2 1l2 1l2 1l2 1l2 1l2-2l2-2l2-2l2 1l2-2h2l1-1h1l2 2l2 3l2 2l2 1l1 2h1l2-1l2-2l2 1l2-2l2-2h2l2-2h2l2-1h2l2-2h2l2-1l2 1l1-1l1-1l2 2l2-1l2 1l2 1l2 1h2l2 1h2l2-1l2-1l2-2h2l2-1l2 1h2l2 1l2-1l2 2l2 1h4l2 2h2l2 4l2 1l2 4l2 3l2 4l2 1l2-1h2l2-3l2-4l2-2h1l1 1h4l2 3h2l2 1h2l2 1h2l2 2h2l2 2l1-1" fill="none" stroke="#c00000"/>
<path d="M533 1168l2 3l2 1l2 1l2 2l2 2l2-1l2-1l2-3l2-3l2-3l2-2l2 2l2-1h2l1 1l1-2l2-12l1-3l1-2h2l1-1l1 1h2l2 2l2 4l2 3l1 2h1l2-1l2 1l2-1l2-1l1 1l1-2h4l2-1l2 1l1-2h1l2 1l2 2l2 1l2 2l1-1l1 1l2-1l2 2l2-2h2l2-2l2 1l2-1l2-2h8l2-1h2l2 2l2-1h6l2 2h4l2 1l2 2l1 1l1-1h4l2-2l2 1l2-1h4l2-1h3l1-1h2l2-1l2-1l2-2l2-1l2-2l2-1h2l2 3l1 1h1l2 6l2 2l2 6l2 2h2l2-2l2-2l2-3l2-2l2-2l2-2h2l2 1l2-1h2l2 1h2l2-1l2 2h4l2-1l2 2l2-2h1l1 1h4l2 1l2-1h8l1-1h1l2 1l2 2h4l2 1l2 2h4l2-1l2-3l1-1h1l2-1l2 1h2l2 1h2l2-1l2 1h2l2 1h1l1 1l2 2l2-2h2l2-3l1 1h1l2 1l2 2h2l1 1l1-1l2-8l1-2l1-1l2 2h2l2 2l1-1h1l2 1l2-2h2l2 1l2-1l2 1h4l2-2l1 1l1-1l2 1l2 1l2 1h2l2 1h2l2 1l2 1h3l1 1l2-1l2-3l2-1l2-1l1-1h1l2 1l2 1h4l2-1l2 2l2 1l2-1l2-2l1 1l1-1l2-1l2-2l2 2l2 2l2 3l2 1l2 1h2l2-1h2l2-1l2 1l2-2h2l2-1l2-1l2 1l2-2l2-1h4l2-1l2 2l2 3l2 1l2 1l2 1h4l2-2l2 1h2l2-1l2-1h2l2 1l2-1h2l2 1l2-1h6l2 1h4" fill="none" stroke="#c00000"/>
<path d="M20 1219l2-2l2-1l2 1l2-1l2 1l2-1h2l2-3l2 1l2-1h2l2 4l1 2h3l2-1l2-3l2-1l1-1h3l2-1l2 1l2-2h1l1 2l2 7l2 13l1 4l1 2l2-2h2l2 1l2 2l2-1l2 1l2-1l2 1l2-1h2l2 1h4l2 1l2-2l2 1h6l2 1l2-1h10l2 1h2l2-1l2 1l2 1h2l2-1h8l2-1h2l2 1l2-1l2-1l2-1h2l2-1l2 1l2-1h2l2-2h2l2-2l1 2l1-1l2 2l2 1l2 2l2 1l1 1" fill="none" stroke="#c00000"/>
<path d="M188 1240l2 1l2 2h2l2-9l2-9h2l2-1l2-1l2 2l2-2h4l2 1l2 1h2l2 1l2-2l2-2h4l2 2l2-1l2 1l2 1l2-1l2 1l2-1l2 1h1l1 1l2-2l2-2l2-1l2-3h6l2-1l2 1l1-2l1 2l2 3l2 1l2 2h2l2 1l2 1l2-1l2-1l2 1h2l2-1l2-2l2-1l2-1l1-1l1 2h4l2-2l2-1l1-1l1 1l2 1l2 3l2 3l2 2h1l1 1l2-2l2-2l2-1l2-2h1l1 2l2 7l2 6l1 2l1-1l2-2l2 1l2-3l2-2l2-3l2-1l2-1l2-1l2-2h2l2 1l2 1l2 1h2l2-2l2-1l1-2l1 2l2-1h2l2 1h2l2 1h2l2 1l2 2l2-1l2 3h6l2-2l2-2l2 1l2-2l2 2l2 1l2 2l2 1h6l2-2h2l2-1l2-1l2-1l2-1h2l2-1l2 2l2 1l2 2l2 1l2 1l2-3l2-3l1-1h1l2 2l2 2l2 1l2 4l1-1h1l2 2l2 1h2l2 1h2l2-5l2-11l2-9l2-1l2-2l2-2h2l2-1l2-4h2l2-2h4l2-1h2l2 1l2-2l2 1l2 4h2l2-1l2-2l2-1l2 1l2 2l2 2l2 1l2 1l2-1l2-2l2-2" fill="none" stroke="#c00000"/>
<path d="M533 1196h2l2 1l2 1h8l2-1h4l2 1h2l2 3l2 2l1 1l1 7l2 20l2-1l2-5h2l2 4l2 4h2l2 1l1-1l1 1l2-2l2-3l2-5l2-2l1-1h1l2-2l2-2h2l2-1l1 1l1-1l2 2h2l2-1l2 2l2-1l2 2h2l2 1h3l1-1l2-2l2-1l2-2l2-2h2l2-1l2 1l2 1l2 3l2 3l2 5l2 1l2-1l2-3l2-1l2-3l2-1h2l2 1h2l2 1l2 1h4l1 1h3l2 1h4l2 2h4l2 1h3l1-2l2-9l1-3l1 1l2 4l2 5l1 4l1 5l2 11l1 3l1 1l2 1l2 2l2 1h1l1-1l2-3l2-2l2-3h1l1-1l2-1h2l2-2h2l1-1h1l2-1h4l2-1h4l2-1h2l2-1h1l1-1h4l2-1l2 2l2-2h2l2 1l2-1l1 1l1 1h2l2 1l2 3l2 1l2 1l1-1h3l2-5l2-1l2-3l1 1l1-1l2-1l2 1l2-1h2l2 2l2-2h2l2 2l2 3l2 3l2 2l2-1h2l2-1l2-1l2-1l2-3l2-1l2-4l2-1l1-1h5l2 3h2l2 2l2 1l2 1l2 1l1-2l1 1h4l2-1h4l2-1l2 1l2-1l2 1l2 3h2l2 3h4l1 1l1-1l2-1l2-3l2-3l2-2h1l1-1l2 1h4l2 1l2 2h4l2 1l2-1l1-1l1 1l2-2l2 1l2-1l1-1h1l2 4l2 2l2 2h4l2-1h4l2-2h2l2-1l2-1l2-1l2-3h2l2-1l1-1h1l2 1l2 1l2 1l2 1l2 2l2 1l2 1l2 2l2 1l2 1l2 2l2-2l2 1l2-2l2-1h2l2-1h2l1-1h1l2-1l2 1l2 4h2l2 2l2 2" fill="none" stroke="#c00000"/>
<path d="M20 1219l2 1l2-3l2 1h2l2-3h6l2-1h2l2 1l2 3l1 2h1l2-1l2-1l2-2l2-2l1 1h1l2-1l2-1h2l2-1h1l1 2l2 7l2 14l1 5l1-2l2 2l2-1h2l2 1l2-1l2 1h2l2 1h2l2 1l2-1l2 1h2l2-1h4l2 1h2l2 1h2l2-1h4l2 1l2-2h2l2 2h6l2-1l2 1h2l2-1l2 1l2-2h2l2-1l2 1l2 1l2-2l2-1l2 1l2-1l2-1h2l2-1h4l2-1l2 1l1-1h1l2 1l2 1l2 2l2 1l1 1" fill="none" stroke="#c00000"/>
<path d="M188 1241l2 2l2 1h2l2-8l2-11h4l2-1l2 1h2l2 1l2 1h2l2-1l2 2l2 1l2-2l2-2l1-1l1-1l2 1h2l2 1h2l2 1l2-1l2 1l2 1l2-1h2l2-1l2-1l2-2l2-2l2 1l2-3l2 1h2l2-1l1-1l1 1l2 3l2 3l2 3h2l2-2l2 2l2-1l2 1h2l1 1h1l2-2l2-2l2-3h4l2 1h2l2-1l2-3l1-1l1 2l2 1l2 2l2 4l2 3h2l2-1l2-2l2-1l2-2l1 1h1l2 7l2 6h1l1 1l2-1l2-2l2-2l2-1l2-2l2-1l2-2l2-2h2l2 2l2-1l2 1h2l2 1l2-3l2-2l1 1h1l2-2l2 2h2l2 1l2 1h4l2 2l2 2l2 1h6l2-3l2 1l2-2l2-1l2 1l2 3l2-1l2 2l2 1h2l2-1l2-1l2-2h4l2-1h4l2 1l2-2l2 2l2 1h2l2 1l2-2l2-3l1-2l1 1l2 2l2 3h2l2 3l1 2h1l2 2l2 1l2 1l2-1h1l1-1l2-4l2-12l2-10l2-2l2 1l2-2h2l2-2l2-3l2-1l2-3l2 1l2-1h4l2 1l2 1l2 1l2 2l1 2l1-1l2-3l2-1l2-1l2 1l2 3h2l2 4l2-1l2-1l2-2l2-2" fill="none" stroke="#c00000"/>
<path d="M533 1198l2 2l2-1l2 1h2l2 1l2 1h2l2-2h2l2-2l2 1h2l2 2l2 3l1 2l1 8l2 19l2-2l2-4h1l1 1l2 2l2 3l2 2l2 1l1-1h1l2-3l2-2l2-4l2-2l1-2h1l2-1l2-1l2-1l2 1l1-1h3l2 2h4l2 1l2 1h2l2-1l2 1h2l2-2l2-2l2-2l2-1l2-1h2l2-1l2 1l2 4l2 4l2 4h4l2-2l2-2l2-2l2-1l2-1l2 1h2l2 1h2l2 1l2 1h1l1 1l2-1l2 1l2 2h2l2-1l2 1h4l2-1l1 1l1-1l2-10l1-3l1 1l2 5l2 5l1 4l1 4l2 13l1 2l1 2l2 1l2 1l2 1l1-1l1-1l2-2l2-3l2-2l1-2h1l2-2h2l2-1l2 1l1-1l1-1l2-1h2l2 1l2-2l2-1l2 1h4l2-1l1 1l1-1h2l2-1h4l2-1l2-1h2l2-1l1 1l1 1l2 2l2 1l2 1l2 3h2l1 1h1l2-1l2-4l2-3l2-3l1 2l1-2h4l2-1h2l2 1h4l2 2l2 3l2 2l2 3l2-1l2-1l2-2h2l2-2l2-1l2-2l2-3l2-2h4l2 2h2l2 1l2 1l2 1l2 1l2-1l1 2l1-1h4l2 1l2-2h4l2 1l2-1l2 1l2 1l2 2l2 2h4l1 2l1-3l2 1l2-5l2-1l2-2l1-1l1 1l2-2l2 2l2 1l2-1l2 1l2 1h4l2-1h2l2-1h5l1-2l2 4l2 4l2 1l2-1h6l2-1l2-1l2-1l2 1l2-1l2-1l2-2l2-2h2l1-1l1 1h2l2-1l2 3l2 1l2 1l2 1l2 1l2 2l2 2h2l2 2h2l2-2l2-2l2-1h2l2-1h2l1 1l1-1l2 1l2 1l2 1l2 2h2l2 1" fill="none" stroke="#c00000"/>
</g>
<rect x="20" y="1403" width="165" height="1" fill="#9c6464"/>
<rect x="188" y="1403" width="342" height="1" fill="#9c6464"/>
<rect x="533" y="1403" width="471" height="1" fill="#9c6464"/>
<rect x="20" y="1410" width="165" height="1" fill="#9c6464"/>
<rect x="188" y="1410" width="342" height="1" fill="#9c6464"/>
<rect x="533" y="1410" width="471" height="1" fill="#9c6464"/>
<rect x="20" y="1480" width="165" height="1" fill="#9c6464"/>
<rect x="188" y="1480" width="342" height="1" fill="#9c6464"/>
<rect x="533" y="1480" width="471" height="1" fill="#9c6464"/>
<rect x="20" y="1487" width="165" height="1" fill="#9c6464"/>
<rect x="188" y="1487" width="342" height="1" fill="#9c6464"/>
<rect x="533" y="1487" width="471" height="1" fill="#9c6464"/>
<g shape-rendering="crispEdges">
<path d="M20 1399l2 2l2-1l2 1l2-1l2 1l2-1l2 1l2-2h2l2 1h4l1 1h1l2 5l2 2l2 2l2-1l2 1l2-1l2 1l2-1l2-3l2-4l2-2l2 1l2-2l2 1h2l2-1l2 2h2l2-1l2 2l2 2l2 6l1 4l1-1l2-8l1-2h1l2-1l2 1l2-1l2 1l2-1h2l2 1l2-1l2-1l2-1l2 1l2-1l2 2l2 3h2l2-1l2 1h4l2 1l2-1h4l2-1l2 1h4l2-1l2 2l2-1h4l2-1l2 1h2l2-2h4l2 2l2-1l2 1l2 1l2 2l2 6l1 17" fill="none" stroke="#000"/>
<path d="M188 1432l2-1l2-1h2l1 1l1-2l2-6l2-5h2l2 1h2l2 1l2 1h2l2 1l2 1l2 2l2 2h2l2 1l2 1l2 1l2-1h2l2 1h1l1 1l2-1h2l2-1l2-1h2l2-2l2-1l2-14l1-7l1-1l2 1l2-1h7l1 6l2 17l2 3l2 2l2-1l2 1l2 1l2-1l2-2l2 1l2 1l2-2l2-1h2l2-1l2 2l2-1l2 1l2-1l2 1l2 3h4l2 3l2 1h1l1-1l2-4l2-5l2-4l2 2h2l2 1l2 1l2 2l2 3h2l2-2l2-1l2-1l2-2l1-1h1l2-2l2-1h2l2 1l2 4l2 1l2-1l2 1l2 1l2-1h2l2-1l2 1h2l2-1h2l2-1l2 3l2 1l1 1h1l2-3l2-3l2-3l2-3l1 1l1-1l2 4l2 4l2 4l2 2h1l1 2l2-2l2-2l2-2l1-2l1-1l2-3l2-6l2-9l2-10l2-4h2l2-3l2 1h2l2-2l2-1l2 2l2-1h2l2 4l1 1l1 4l2 13l2 2l2 4l2 2l1-1l1 1l2 1h4l2 1l1-1h1l2-3l2-3l2-5l2-3h2l2-1l2 1l2-2l2 2l2-1h2l2 2l2 3l2 7l1 2h1l2-1l2-2l2-2l2-2l1-1l1-1l2-4l2-3l2-3l2 3l2 3l2 3l2 2l2 3l2 5l1-1h4" fill="none" stroke="#000"/>
<path d="M533 1413l2 2l2 2l2 1l2 1l2 2h2l2-3l2-7l2-5l1-1h1l2 2l2 2l2 3l2 3l1 3l1 1l2 2l2-2l2-4l2-3l2-3l2-2l2 3l2 2l2 4h2l2 3l2 2l2-1h1l1-1l2-4l2-6l2-3h1l1 1l2 1l2 1l2 5l2 2l2 2h1l1 2l2-1l2 2l2-1h14l2-1l2-1h2l2-2l1-1l1-1l2-3l2-5l2-5l1 1h1l2 3l2 1l2 4l2 3h1l1 2l2 3l2 3l2 2h4l2-1l2-1l2 1l2-2l2 1l2-1h2l2-1l2-2h2l1-1l1-1l2-2l2-2l2-4l1 1l1-1l2 3l2 2l2 3l2 3l2 2l2 3l2 2h2l2-1l2-1l2-2l2-3l2-3h2l2 1l2-2h2l2-1l2 1l2-1l1-1l1 2l2 3l2 4l2 5l1 1l1-1l2-2l2 1l2-3l2 1l2-2l1 1h1l2 1l2 1l2 1l1 2l1-1l2 1l2 1l2 2l2 2l2 1h8l2-2l2-2l2-3l2-3l2-3l2-4l2-2l2-3l2-2l2 1l2 5l2 2l1 1h1l2 3l2 1l2 2l2 1l2 1h2l2-3l2-4l2-4l1-2h1l2 1h2l2-1l2 2h2l2 1l2-1l2 1h2l2-1l2 1l2-1h2l2 1l2-1l2-1h4l1 1h1l2 2l2 1l2 1l2 1h1l1 1h2l2-1l2-1h2l2-1l2-2h2l2 4l2 4l1-1l1-1l2-6l2-3h2l2 3l2 2l1 1h1l2-2l2-4l2-2l1-1l1 2l2 9l1 2h1l2-3l2-1l2-2l2-3h6l2 1l2 1h2l2-2l2 3l1-1h1l2 1l2 2l2 2l2 3h2l2 2l2 1l2-1l2-2h2l2-1l2 1l2-2l2-1l1 1l1 1l2-1l2-1l2 1l2-1h2l2 2l2-2l2 2l2 1l2-1h2" fill="none" stroke="#000"/>
<path d="M20 1404h2l2-1h2l2 1h8l2-1h2l2 1h2l1-1l1 2l2 4l2 4l2-1l2 1l2-1l2 1l2 2l2-4l2-2l2-3l2-2l2-1l2 1l2-2h10l2 3h2l2 9l1 3l1-2l2-8l1-1l1 1l2-1h4l2 1h6l2-1l2-2l2 2l2-2h2l2 2l2 2l1 2l1-1l2-1l2 1l2-1l2 1h10l2 1l2-2h2l2 1h2l2-1l2 1h4l2-2l2 1l2-2h2l2 1l2 1l2-1l2 1l2 1l2 3l2 5l1 15" fill="none" stroke="#000"/>
<path d="M188 1435l2 1h2l2-1h1l1-3l2-5l2-4h6l2 1l2 1l2-1l2 1l2 3l2 2h4l2 1h2l2 1l2 2l2-2l2 1h8l2-1l2-1l2-1l2-1l2-15l1-6h1l2-1l2-1l2 1h2l2-1h1l1 6l2 18l2 3l2 2l2-1h2l2-1h4l2-1l2 1h2l2-1h2l2-1h2l2-1h2l2 2h2l2 1l2 3h2l2 2l2 2h2l2-5l2-6l2-2h2l2 2l2-1l2 1l2 2l2 3l1 1l1-1l2-1h2l2-2l2-2h1l1-1l2-2l2-2h2l2 2l2 2l2 1l2 1l2 1l2-2h6l2 1h4l2 1l2-1l2 2l2 2l1 2l1-1l2-4l2-3l2-4l2-2h2l2 3l2 5l2 4l2 2l1 1l1-1h2l2-4h2l1-2l1-1l2-3l2-5l2-13l2-8l2-3l2-3l2-1h2l2-1l2-1l2 2l2-2l2 1l2 2l2 2l1 1l1 5l2 13l2 2l2 3l2 1l1 1h1l2 2l2-1h2l2 2l1-2h1l2-2l2-4l2-4l2-4l1 1l1 1h4l2-1l2-1l2 1h4l2 4l2 7l1 1l1-1h2l2-1l2-2l2-2l1-2h1l2-4l2-4l2-1l2 1l2 2l2 3l2 4l2 3l2 2h1l1 1l2-1l1-1" fill="none" stroke="#000"/>
<path d="M533 1417l2 2l2 2h2l2 2l2 2h2l2-2l2-8l2-5l1-1h1l2 1l2 1l2 3l2 4l1 1l1 2l2 1l2 1l2-4l2-3l2-3l2-2l2 2l2 2l2 4l1-1l1 2h2l2 2l2 2h2l2-4l2-6l2-4l1-1l1 1l2 1l2 4l2 2l2 2l2 4l1-1h1l2 1l2 1l2-2l2 1h2l2-1l2 1l2 1l2-1h2l2-1h2l2-1l2-1h1l1-1l2-4l2-5l2-3h1l1-1l2 2l2 2l2 3l2 1l1 3l1 1l2 5l2 2l2 2h4l2 1l2-1h2l2-2h2l2-1h2l2-3h2l2-1h1l1-1l2-3l2-4l2 1l1-1l1-1l2 2l2 2l2 4l2 3l2 4l2 1l2 2l2-1l2-1l2-1l2-4l2-1l2-3h2l2 1l2-2l2-1l2 1h2l2-1h1l1 1l2 4l2 4l2 4l1 1l1-2l2 1l2-1l2-2h4l1-2l1 1l2 1l2 2l2 2l1-1l1 1h2l2 2l2 2l2 1l2 1h2l2 1h2l2-1l2-3h2l2-3l2-3l2-4l2-4l2-4l2-3l2-1l2 2l2 2l2 5l1 1l1 2h2l2 3l2 1l2 1h2l2 1l2-2l2-5l2-4l1-2l1 1l2 1l2-1l2 1h2l2 1l2-1l2 1l2 1h1l1-1l2-1h2l2 1l2-1l2 1l2-1h8l2 1l2 3l2 1l2 1h1l1 1l2-1l2-1l2-2h2l2-1l2-1l2 1l2 2l2 4h2l2-6l2-2h2l2 2l2 2l1-1h1l2-2l2-2l2-3h1l1 2l2 8l1 2h1l2-1l2-2l2-4h2l2-1h4l2 1l2-1l2 2l2-1l2 1l1 1l1 1h2l2 1l2 2l2 2l2 1l2 1h4l2-1h4l2-2l2-2l2 1h2l2-1l2 1l2 1h2l2-1h2l2 1h4l2-1l2 1" fill="none" stroke="#000"/>
<path d="M20 1469l2-1l2 1h2l2 1h2l2-1h8l2 1l2-1h4l2 1l2-1l2-1l2-1l2-1l2 1l2-2h2l1-1l1-1l2 4h2l2 2l2 1l2 2l2 3l2 10l2 9l2 3l2 3l1 1l1 1l2 3l2 1l2-22l1-8l1-1l2 1h6l1 1l1 5l2 15l2 2l2 2l2 1l1 1h1l2 2l2 1h2l2 1l2 2l2-1h2l2 2h4l2 1h2l2 1h2l2-1l2 1l2-1l2-1l2-1l2-2l2-2l2-3h4l1-1h1l2 3l2 2l2 3l2-2l2-3l2-1l2-3l2 3l2 2l1 1" fill="none" stroke="#000"/>
<path d="M188 1504l2-1l2 1h3l1-1h2l2-1h2l2-2h2l2-1l2-1h2l2-1l1 1l1-1l2 2l2-1h2l2 1l2 1l2-1l2 2l2-1h6l2-1l2-1l2-1h2l2-1h2l2 1l2-1l2-2l2-1l2-2h4l2 3l2 1l2 2l2 1h2l2-1l2-1l2 1l2-1l2-2l2 2l2-1h2l2 1l2-1l2 1l2-1l2 1h2l2 2l2 1l2 1h2l2 3l2 2h4l2 1l2 1l2-1h2l2-6l2-4l2 9l1 2l1 1l2-2l2-2l2-2l2-2l2-1l1-2l1 2l2 1l2 1l2 2h3l1-1l2-3l2-3l2-1h2l2 1l2-1l2 1l2 1l2 1l2-1l2 1h4l2-1l1 1l1-1h4l2-2l2-1l1 1l1 1h2l2-3h4l2 1l2 1l2-3l2-2l2-1l1-1l1 1l2-2h2l2 2h2l2-1h2l2 1l2-3h1l1 1l2 2l2 2h2l2 2l2-1l2 1l2-1l2 1l2-1l2 2h2l2-1l2 3l2 1l2 4l2 4l2 2l2-2l2-5l2-6l2-6l2-2l2-4l2-2l2-1l1-1l1-1l2 2l2-1l2-1h4l2-1h8l2 1l2-1l2 1h2l2 3l2 1l2 3l2 4l2 2l2-1l2-3" fill="none" stroke="#000"/>
<path d="M533 1480l2 3h2l2-1h1l1 1l2-1l2 1l2-1l2-1h2l2-1l2 1l2 1l2 3l1 3l1 1l2 5l2 4l2-4l2-1l2-4l1 1l1-1l2 1l2 2l2 2h2l2-5l2-3l2-5l2-4l1 1l1-1l2-2h2l2 1h2l2 1h4l2-2l2 2l1-1h1l2 4l2 2l2-1l2-2l2-1l2-2l2-3l2 1l2-2h2l2-1h2l2-1l2 1l1-1h1l2 2h2l2 1h2l2 1l2-1l2 1l2-2l2 1l1 1l1-1l2 1h2l2 1l2 2l2-1l2 1l2 1h5l1 1l2-1l2-1h2l2 1l2-1l2-1l2-1l2-5h2l2 3l1 1l1 1l2 1l2 2l2 21l1 9l1 5l1 3h1l2-3l2-3l2-3h2l2-1h2l2 1h2l2 1h4l2 2l2-1l1-1h9l2-1l2 1h2l2-1l2-1h1l1-1l2-1l2 1l2-2l1-1h1l2-2h2l2 1l2 1h2l2 3l2 1l2 2l2-5l2-8l1-2h3l2-2h2l2 2h2l2-1l2-2l2-10l1-3l1 13l1 14l1 1l2 1l2-1l2 1l2-2l2 1h4l2 2h2l2 2l2 1l2-1l2 2l2 2l2-1l2 2l2-4l2-6l2-7l2-6h1l1-1h2l2-1l2-1l2 1l2-2h2l2-1h3l1 1l2 1l2 3l2 5l2 7l1 1l1 1l2-2l2 1l2-1h2l2-2l2 1h2l2-1l2-2l2-1l2-3h2l2 3l2 4l2 6h1l1-1l2-9l2-8l1-2l1 2l2 5l2 8l2 4h2l2-2l2-1l2 1h2l2-2l2-1h2l2 1l2-2h2l2-1l1 1l1-1h4l2 1h4l2 1l2 2l2 1l2 2l2 3l2 1l2 1l2 1l2-2l2-3l2-3l2-3l2-2l2-1l1-2l1 1l2 1l2 1l2 4l2 2l2 2l2 2" fill="none" stroke="#000"/>
<path d="M20 1471h4l2 1h2l2 1h10l2-1l2 1h4l2-1l2 1h2l2-3h2l2-2h6l2 1l2 2l2 2l2 1l2 3l2 3l2 8l2 9l2 4l2 2h1l1 1l2 2l2 4l2-24l1-6l1-1h2l2 1h4l1 1l1 3l2 19h2l2 3h2l1 2l1-1l2 2h2l2 1l2 1l2 1h4l2 2l2-1h2l2 1l2 1l2-2l2 1l2-1l2 1l2-1h4l2-3l2-1l2-3h2l2-3l1 2h1l2 3l2 2l2 2l2-1l2-3l2-3l2-1l2 1l2 3l1 1" fill="none" stroke="#000"/>
<path d="M188 1507h2l2 1l2-1l1 1l1-2l2 1l2-1l2-2l2-1h2l2-1l2 1l2-1l2-1l1 1l1-1l2 1l2 1h2l2 1h2l2 1h2l2-2l2 1h2l2-1l2-2l2 1l2-1l2-2l2 1l2-1h2l2-1l2-1l2-1l2-2l2 1l2-2l2 3l2 3l2 3h6l2-3h2l2-1l2 1h2l2-1l2 1l2-1l2 2h10l2 1l2 1l2 1l2 2l2 3l2 1l2 1h4l2-1l1 1l1-1l2-6l2-3l2 9l1 3h1l2-3h2l2-3l2-3l2-1l1 1h1l2-1l2 2l2 2l2 1h1l1-2l2-5l2-1h4l2 1h6l2 1h2l2 1l2-1l2 1l2 1h1l1-1l2-1h2l2-1h2l1-1l1 1l2-2h2l2-1l2 1l2-1l2-1l2 2l2-3l2-3h4l2-1l2 2l2-2l2 1h2l2 1l2-2l1-2l1 1l2 1l2 2l2 2h4l2 1h2l2 1l2 1l2-1h2l2 1l2 1l2 1l2 5l2 4l2 3l2-3l2-6l2-6l2-5l2-3l2-2l2-3l2-2l1-1h1l2 1l2-2h4l2-1h2l2 1l2-1l2 1h8l2 1l2 2l2 1l2 3l2 4l2 2l2-1l2-3" fill="none" stroke="#000"/>
<path d="M533 1484l2 1h2l2 1l1 1h1l2-1l2-1l2 1l2-2l2 1l2-2h2l2 2l2 3l1 2l1 3l2 5l2 3l2-3l2-3l2-2l1-1h1l2 1l2 1l2 2h1l1 1l2-4l2-5l2-4l2-4h1l1-1l2 1l2-1l2 1l2 1l2-2l2 1l2 1h2l2-1l1-1l1 2l2 2l2 2l2-1h2l2-3l2-2l2-1l2-1h2l2-1l2-1l2-1h6l2 2l2 1h8l2 1h2l2-1h2l2 1l2-1l2 2h4l2 2h2l2 1l2-1l1 1h1l2-2l2 1l2-1h4l2-1l2-2l2-5l2 1l2 4l1 1l1 1l2 2h2l2 21l1 11l1 4l1 1h1l2-2l2-4l2-2l1-1h3l2 2h2l2-1h2l2 1h4l2 1h1l1 1l2-2l2 1l2 1l2-2h2l2-1l2 1l2-1l2 1l1-1h1l2-2h2l2-1l1-1l1 1l2-2l2-1l2-1l2 2l2 2l2 2l2 2l2 1l2-5l2-9l1-2l1 1l2-2l2 1l2-1h6l2-2l2-10l1-4l1 14l1 13h1l2 1l2 1l2 1l2-1l2 1l2 1l2-1l2 1l2 1l2 1l2 1l2 1l2 3h6l2-2l2-7l2-7l2-5l1-1h1l2-1l2-1l2-1h2l2-2l2 1l2-1l2-1h1l1 1l2 1l2 2l2 7l2 6l1 2l1-1h2l2-1l2-1l2 2l2-2h6l2-3l2-2l2-1l2-1l2 2l2 7l2 4h1l1-1l2-8l2-9l1-2l1 3l2 4l2 8l2 4l2-1l2 1l2-2h4l2-2l2 1l2-1l2-1l2 1l2-1h3l1-1h2l2 2h2l2-1h2l2 1l2 1l2 2l2 2l2 2l2 3l2 2l2-2l2-1l2-4l2-3l2-2l2-1l2-3l1 1h3l2 2l2 2l2 3l2 2l2 2" fill="none" stroke="#000"/>
<path d="M20 1402h2l2 2l2 1l2-1l2 2h2l2 1h1l1-2l2 1l2-2l2-1h2l1-1h1l2 5l2 4h6l2-1l2 1l2-1l2-2l2-3l1-1l1-1h2l2 1l2-1h6l2 1l2 1h2l2 2l2 2l2-3l2-2h1l1-2l2 1l2 2h2l2-1h4l2 1h2l2-1h2l2-2l2-1l2 4l2 7h2l2 1l2-1h2l2-2l2 1l2-1h2l2-1l2 1h2l2-1h4l2 1l2 1l2-1h2l2 1h2l2 1l2-2l2 2h6l2-1l2 2l2 1l2 5l1 11" fill="none" stroke="#c4d000"/>
<path d="M188 1436l2-1l2-1l2-2l1-1h1l2-2l2-1l2-3h2l2-2l2-1l2-1h2l2 1l2 3h2l2 2l2 1h2l2 1h2l2 2l2 1h2l1-1h7l2-2l2-1l2 1l2-2l2-8l1-5l1 1l2-2l2 1l2-1l2 1h2l2 2l2 7l2 7h4l2 2l2-1l2-1l2 1h2l2 1l2-2l2 1h2l2-1l2-1h2l2 1l2-1h2l2 2l2 1l2 2h2l2 2l1 1h1l2-4l2-7l2-2h2l2 2l2 1l2 1l2 2l2 1l1 1h1l2-1l2-3l2-1l2-2l1-1h1l2-1l2-2l2 2l2 1l2 1l2 1l2 1h2l2-1h2l2 2h2l2-1h2l2 2l2-2l2 1h2l2 2l1 2l1-1l2-3l2-3l2-4l2-1l1-1l1 1l2 4l2 4l2 2l2 2h4l2-3l2-1l1-1h1l2-5l2-5l2-11l2-8h4l2-2l2 1l2-1h6l2-1l2 1l2 2h1l1 4l2 10l2 1l2 2h2l1-1l1-1h2l2 1l2 1l2-1l1-1h1l2-1l2-3h2l2-1l1-1l1-1l2 1l2-1h2l2-1h2l2-1h2l2 1l2 3l1-1h1l2-1h2l2 1h2l1-1h1l2-2l2-1l2 1l2 1l2 3l2 1l2 2l2 3l2 3h2l2 1h1" fill="none" stroke="#c4d000"/>
<path d="M533 1408h2l2 1l2 1l2 1l2 1l2 1l2-3l2-3l2-2l1-2l1 2l2 1l2 1l2 1l1 1h1l2-1l2-1l2 1l2-2l1-1l1 2l2 1l2 2l2 2l2-1l2 1l2-1l2 1h6l2-3l2-1l2-1l1-1l1 1h4l2 2h2l2 3l1-2l1 1l2 1h2l2 3h2l2 1l2-1h2l2 2l2-1l2-1l2-1l2-2l2-1l2-1h1l1-2h2l2-2l2 1l2-1h1l1 1l2-1l2 1l2 3l2 1h2l2 1l2 1l2-2l2 1l1-1l1 1h2l2-1h2l2-1l2-1l2-2l2 1l2-2l2-1l2 1l2-1h2l2-1l2 1l2-1l2 2l2 1l2 1l2 3l1 2l1 6l1 6h1l2-1l2-3l2-3l1 1l1-2l2-1l2-1l2-1l2-1l2 1l2-1l2-2l2 1h3l1-1l2 1h2l2 1l2 2h2l2 2l2 1h2l2 2l2-1h2l2 1l2 3l1-1h1l2 2h2l2 2l2 2l2 2l2 1h2l2 2l2-2l2-1l2-2l2-3l2-2l2-3l2-2l2-2l2-2h2l2 1l2-1l2 3h1l1 1l2 2l2 1l2-1l2 1l2 2l2 1l2 3h2l1 1l1-11l1-10l1 1h2l2 2l1-1l1 1l2 1l2-1l2 1h4l2 1h8l1 1l1-2l2 3l2-2h2l2 2l2 1l2-1l2 2l2 1l2-1l1 1l1-1h8l2-1l2 1l2-1h2l2-1l2-1l2-1l2 1l2-2h2l2 1h2l2-1l2 2l2-1l1 2l1-1l2 2l2 2h2l2-1h2l2-1h2l2-2l2-1l1 1h1l2-2l2 2h4l2 1l2 1h2l2 1h3l1 1l2 1l2 1h4l1 2l1-3h2l2-2l2-2l2-1h1l1-1h2l2 1h6l2-1l2 1l2 1l2-1l2 2l2-1" fill="none" stroke="#c4d000"/>
<path d="M20 1404l2 1h2l2 2h2l2-1l2 1h2l1 1h1l2-2h2l2-1l2-1l1-1l1 2l2 5l2 3h10l2-2l2-2l2-2l1-1l1 1l2-2l2 1l2-1l2 1l2-2l2 2h4l2 2l2 2l2-1l2-2l2-2l1-1h3l2 2l2-1l2 1l2 1h2l2 1l2-1l2-1l2-1l2-1h2l2 3l2 6l1 1h1l2-2l2 1l2-2l2 1l2-1l2-2l2 2l2-1l2 1h6l2 1h2l2-1l2 1h10l2 1l2-1l2 2h6l2 3l2 4l1 13" fill="none" stroke="#c4d000"/>
<path d="M188 1436l2-1l2-1l2-1l1-1h1l2-2l2-1l2-2l2-2l2 1l2-2l2-1l2 1l2 1l2 1l2 2l2-1l2 2l2 1l2 1h4l2 1l2 1h1l1-1h4l2-1h4l2-1l2-1l2-9l1-3l1-2h2l2-1l2 1h4l2 1l2 8l2 6l2 2l2 1h2l2-1h2l2 1h4l2-1l2 1l2-2h12l2 3l2-1l2 2l2 1l2 2l1 1l1-2l2-3l2-6l2-3l2 1l2 1l2 1h2l2 3l2 2h2l2-1l2-1l2-1l2-3h1l1-1l2-1l2-2l2 2h2l2 2l2 2h2l2-1h2l2 2l2-1h2l2 1l2-1l2 1l2-1h2l2 2l2 3l1-2l1 1l2-3l2-3l2-2l2-5l1 1l1 1l2 3l2 4l2 2l2 2h1l1-1l2 1l2-2h2l1-3h1l2-4l2-4l2-11l2-9h4l2-1h2l2 1l2-1h2l2-1h2l2 1l2-1l1 2l1 3l2 11h4l2 1l1-1l1 1h4l2-1h3l1-1l2-1l2-1l2-1l2-1l1 1l1-2h4l2-1h2l2-1h4l2 1l2 1h1l1 1h2l2-1l2-1l2 1l1-1l1 1l2-2l2-1l2 1h2l2 3l2 2l2 4l2 1l2 3h4l1 2" fill="none" stroke="#c4d000"/>
<path d="M533 1409l2 1h2l2 1l2 1l2 1h2l2-2l2-3l2-2l1-1h1l2 2l2 1l2 3h1l1 1l2-1l2-1l2-1l2-1h2l2 2l2 3h2l2-1h2l2 1h2l2 1h2l1-2l1 2l2-3l2-2l2-1h2l2 1l2 1l2 1l2 1h2l1 1l1 1h4l2 2l2 1l2-1l2 1h2l2-1h4l2-2l2-2l2-1h2l1-1l1 1l2-1h2l2-1l2-1h4l2 1l2 3l2-1l1 2h3l2 2h2l2-1h1l1-1h6l2-2l2-1l2-1l2-2l2 1l2-2h2l2-1h2l2 1h2l2 2h2l2 1l2 2l2 1l1 1l1 7l1 5h1l2-3l2-2l2-1h4l2-2h2l2-2h2l2-1h6l1 1l1-1h4l2 1l2 1l2-1l2 2l2 1l2 1l2 1l2 1l2 1h4l1 2h1l2 2l2 2l2-1l2 4h2l2 1h2l2 1l2-1l2-2l2-2l2-2l2-2l2-3l2-2l2-2l2-1l2 1l2-1l2 2l2-1l1 2l1 1h2l2 1l2 1l2 2l2 1l2 2l2 1l2 2l1-1l1-10l1-12l1 2l2-1l2 2l1 1h1l2 2h2l2-1l2 1l2 1l2 1l2-2h2l2 1h6l2 1h4l2 1l2 1l2-1l2 2h2l1 1l1-1h14l2-1l2-2h2l2-1l2-1h4l2 1h4l2-1l2 1l1 1h1l2 4h6l2-2l2-2l2-1h10l2-1l2 2l2 1l2 1h2l2 1l2 1l1-1h3l2 2h2l2 2l1-2l1 2l2-3l2-2h2l2-2h1l1 1l2-1h2l2-1l2 1h10l2 1l2 1" fill="none" stroke="#c4d000"/>
<path d="M20 1469l2 2l2-1l2-1l2 1h2l2 1l2-2l2 1l2 1h8l2 1h2l2-1l2-1h2l2-2h2l2-1h2l1-2l1 1l2 2l2 1l2 13l2 7l2 5l2 5l2 1l2 1h2l2 1h4l2-2l2-11l1-4l1-1l2-1h4l2-2l1 1l1 5l2 12l2 2l2 2h2l1 3h3l2 1h2l2 1l2-1l2 1l2 2h8l2 1h4l2-1l2 2h2l2-2l2 1l2-3l2-2l2-2l2-1h2l1 1h1l2 2l2 1h2l2 1l2-4l2-1l2-2l2 1l2 2h1" fill="none" stroke="#c4d000"/>
<path d="M188 1506l2-1l2-1l2 1h4l2-2l2-2h2l2-1l2 1l2-3l2 1l2-1h1l1 1l2-1l2 1l2 1h2l2-1l2 1l2 1h4l2-1l2 1l2-1h2l2-1h2l2-2h2l2-1h2l2-1l2-2h2l2-2h2l2 4l2 1l2 3l2 1l2-1l2-2l2-1l2-1l2 1l2-1l2 1l2 1l2-2l2 1l2 1h2l2 1h4l2 1l2 2h2l2 2l2 1l2 2l2 1l2-1l2 2h4l1-1h1l2-6l2-3l2 9l1 3l1-1h2l2-4l2-2l2-2l2-1l1-1l1 1h2l2 2l2 2l2 1h1l1-2l2-4l2-3h6l2 2h2l2-1l2 1l2 1h9l1-1h2l2-1h4l1-1l1 1l2-2h2l2 1l2-1h2l2-1h2l2-1l2 2l2-1l2 1l2-1l2 1l2-1l2 2h6l2 1l2 1h2l2 1h6l2 1l2 1h2l2 1h10l2 1l2-2l2-1l2-4l2-4l2-3l2-2l2-2l2-3l2-2l1 1l1-2l2-1l2 1l2-1l2 1l2-1h4l2-1l2 2l2-2l2 1l2-1l2 1h2l2 2l2 2l2 3l2 3l2 3l2-2l2-2" fill="none" stroke="#c4d000"/>
<path d="M533 1480l2 2l2 1l2 1h1l1 1h2l2-1h2l2-2h2l2-1l2 1l2 1l2 4l1-1l1 4l2 4l2 3l2-2l2-4l2-2l1-1l1 1l2 2l2 2l2 1h2l2-3l2-4l2-6l2-3l1-1h19l1-1l1 1l2 4l2 2l2-1l2-2l2-1l2-3l2-1h2l2-1l2-1h2l2-1l2 1l2-1l1-1l1 1l2 2h6l2-1l2 1h7l1-1h2l2 2l2 1l2 1l2-1l2 1l2 2l2-1l2 1h1l1 1l2-1h2l2-1h4l2-1l2-1l2-8l2 3l2 4h2l2 2l2 3l2 19l1 10l1 5l1 3l1-1l2-2l2-2l2-4l1-1l1-2l2-1l2-1h2l2-1l2-1l2-1l2-1h4l1-1l1 1h4l2-1l2 1h6l2-2l2 2h4l2-1l2 1l1 1l1-1l2-1l2 1l2 1h2l2-1l2-2l1 1l1-2l2-4l2-2l1-1l1 2l2-1h9l1 1l2-1h2l2 2h2l2 2l1 1l1-1h4l2 1l2-1l2-1l2-2l2 1h4l2-2l2 1l2-1l2-1h2l2 1h2l2-1l2 1l1-1l1-1l2 1l2-2l2 1h2l2-1l1 1l1-1h2l2 1l2-1h6l2 5l2 9l1 1h1l2-2l2-2l2-2l2-2l1-2h1l2-1l2-1h2l2-2l1 1l1-1l2 1h10l2 1l2-1h4l2 2l2 1l2 1l2 3l2 3h6l2-1l2-2h2l2-2l2-1h2l2-3l2 1l2-1l2-1l2 3l2 1l2 1l2 2l2-1h2l2 1h2l2 2l2-2l2 1h2l2 2l2-1h4l2 2l2 1h4l2 2h2l2-1" fill="none" stroke="#c4d000"/>
<path d="M20 1473l2-1h2l2-1l2 2h4l2-1l2 2l2-1h2l2 1l2-1l2-1h4l2-1l2 1l2-2l2-1h2l2-1h3l1 1l2-1l2 3l2 13l2 6l2 5l2 4l2 3h2l2 1h2l1-1l1 1l2-1l2-1l2-11l1-4l1-1h2l2-1h2l2-1l1 1l1 3l2 14l2 3h2l2 2h1l1 1l2-1l2 1l2 1l2 1l2 2l2 1l2-1h4l2 1h2l2-1l2 3l2-2l2 1h2l2 1l2-1l2-2l2-2l2-1l2-2h2l2-2h1l1 1h2l2 3h4l2-3l2-1l2-1l2 1l2 3l1 1" fill="none" stroke="#c4d000"/>
<path d="M188 1505h2l2 1l2-1l1 2l1-2l2 1l2-1h2l2-1l2-1h2l2-2h2l2-1h6l2 2h4l2 1h4l2-1h2l2 1l2-2h2l2-1h4l2-1h2l2-1l2-3h2l2-1l2-1l2 1l2 1l2 3l2 3l2 1l2-2l2-1h2l2-2h2l2 1h2l2-1l2 2h2l2-1h2l2-1l2 1l2 2h4l2 2l2 1l2 2l2 3l2 2l2-1l2-1h4l1 1l1-2l2-5l2-4l2 10l1 3l1-2l2-1h2l2-5l2-1l2-1h4l2 3l2 2l2 1l1-1h1l2-6l2-3l2 2l2-2l2 1h6l2 1l2-1l2 3l2-2h2l2 1h4l2-1l2-1l2 1l1-1h1l2-1h2l2-1h2l2 1l2-1l2-2l2 2l2 1l2-1h2l2-1l2 2h6l2 2l2-1l2 2h2l2 1l2-1l2 1h2l2 1h2l2 1h4l2 1l2-1l2 1l2 1h2l2-3l2 2l2-3l2-4l2-3l2-3l2-3l2-3l2-2l2-2h2l2-1h4l2-1h4l2-1l2 1l2 1l2-2l2 1l2-2l2 2h2l2 1l2 3l2 2l2 4l2 3h2l2-4" fill="none" stroke="#c4d000"/>
<path d="M533 1482l2 3h2l2 1h1l1 1h2l2-1l2-1l2-1l2-1h4l2 1l2 3l1 2l1 2l2 5l2 4l2-3l2-3l2-2l1-1h1l2 3l2 1l2 2h1l1-1l2-5l2-4l2-3l2-3l1-3l1 1h8l2 1l2-1h4l2 1l1-1l1-1l2 4l2 4l2-1l2-2l2-2l2-2l2-2h2l2-2l2-1h4l2-2h2l1 2h1l2 1l2 1l2 1h2l2-1l2-1l2 2l2-1l2 1l1-1h3l2 1l2 1h2l2 2h2l2-1l2 2l2 1l1-1h5l2 1l2-3l2 1l2-2l2-1l2-5l2 1l2 2l1 2l1 1l2 1l2 1l2 22l1 10l1 3l1 4l1-1l2-2l2-5l2-1l1-1l1-1l2-1l2-1l2-1l2-1l2-1l2-1h2l2-1l2-1l1 1l1-1h8l2-1l2 2l2-1l2 1l2-1l1 1l1-1h4l2 1h6l2-1h6l1-1l1-1l2-3l2-4l1 1l1-1h8l2-1h1l1 1l2-1h2l2 1l2 3l2 1l1 1h1l2 1l2-2l2 1l2-1h2l2-1l2-1l2 2h2l2-2h4l2-1l2-1h4l2-1h8l2-2h4l1-1l1 1l2 1h2l2-1l2 1h4l2 5l2 8l1 3h1l2-3l2-3l2-3l2-3l1 1l1-1h4l2-3l2 2l1-1l1 1l2-1l2-1h2l2 1h2l2-1l2 1l2 1l1-1l1 1l2-1l2 2h2l2 4l2 1h2l2 1l2 1h2l2 1l2-3l2-1l2-1l2-2l2-1l2-1l2-1l2 1h2l2 2h2l2 3l2-1l2 1h2l2 1l2-1l2 1h2l2 2h2l2-1l2 2l2-2l2 1l2 1h2l2 1l2 1h2l2 1l2 1" fill="none" stroke="#c4d000"/>
</g>
<rect x="20" y="773" width="77" height="11" fill="#008d00"/>
<rect x="319" y="773" width="167" height="11" fill="#008d00"/>
<rect x="563" y="773" width="440" height="11" fill="#008d00"/>
<rect x="55" y="766" width="5" height="1" fill="#000"/>
<rect x="57" y="764" width="1" height="5" fill="#000"/>
<rect x="398" y="766" width="5" height="1" fill="#000"/>
<rect x="400" y="764" width="1" height="5" fill="#000"/>
<rect x="779" y="766" width="5" height="1" fill="#000"/>
<rect x="781" y="764" width="1" height="5" fill="#000"/>
<rect x="706" y="824" width="298" height="12" fill="#008d00"/>
<rect x="851" y="840" width="5" height="1" fill="#000"/>
<rect x="563" y="1030" width="137" height="12" fill="#0020c8"/>
<rect x="566" y="1023" width="5" height="1" fill="#000"/>
<rect x="568" y="1021" width="1" height="5" fill="#000"/>
<rect x="633" y="1023" width="5" height="1" fill="#000"/>
<rect x="635" y="1021" width="1" height="5" fill="#000"/>
<rect x="713" y="1082" width="291" height="11" fill="#0020c8"/>
<rect x="854" y="1098" width="5" height="1" fill="#000"/>
<rect x="20" y="1288" width="66" height="11" fill="#b80000"/>
<rect x="50" y="1280" width="5" height="1" fill="#000"/>
<rect x="52" y="1278" width="1" height="5" fill="#000"/>
<rect x="563" y="1288" width="269" height="11" fill="#b80000"/>
<rect x="693" y="1280" width="5" height="1" fill="#000"/>
<rect x="695" y="1278" width="1" height="5" fill="#000"/>
<rect x="706" y="1339" width="298" height="12" fill="#b80000"/>
<rect x="850" y="1356" width="5" height="1" fill="#000"/>
<rect x="806" y="1597" width="48" height="11" fill="#c8d40a"/>
<rect x="906" y="1597" width="13" height="11" fill="#c8d40a"/>
<rect x="922" y="1597" width="77" height="11" fill="#c8d40a"/>
<rect x="825" y="1613" width="5" height="1" fill="#000"/>
<rect x="908" y="1613" width="5" height="1" fill="#000"/>
<rect x="956" y="1613" width="5" height="1" fill="#000"/>
<g shape-rendering="crispEdges">
<path d="M20 507l2 1h8l2-1l2 1h4l2 1h6l2 1h6l2 1h2l2 1h2l2 1h4l2-1h3l1 1l2-1l2 1l2-1l2 1h8l2-1h2l1-29l1-1h4l2-1h2l2-1h2l2 1h8l2 1h6l2 1l2-1h2l2 1h10l2-1h2l2-1h2l2-1h6l2 1h18l2-1h1l1 20" fill="none" stroke="#a03030"/>
<path d="M20 506h6l2 1h6l2 1l2-1l2 1h2l2 1h6l2 1h10l2 1h6l2 1h6l2-1h14l1-28l1 1l2-1h4l2-1h2l2-1h2l2 1l2-1h4l2 1h10l2 1l2-1l2 1h2l2-1h4l2-1l2 1l2-1l2 1h2l2-1h8l2 1h2l2 1l2-1h2l2-1h7l1 19" fill="none" stroke="#a03030"/>
<path d="M20 505l2 1h2l2 1h2l2 1h2l2-1l2 1l2-1h8l2 1h2l2 1h4l2 1l2 1l2-1l2 1h2l2 1h6l2-2l2 1l2-1l2-1h6l2-1h2l2-1l1-25h5l2 1h12l2-1h6l2 1h4l2 1h4l2 1l2-1h10l2-1h10l2-1h14l2 1h5l1 19" fill="none" stroke="#56b4e9"/>
<path d="M20 507h6l2 1h10l2 1h4l2-1h8l2 1h2l2 1l2 1h4l2 1h2l2-1l1-1l1 1l2-1h2l2-1h4l1 1h9l1-25h1l2-1h4l2-1l2 1h14l2-1l2 1h22l2-1h14l2 1h2l2-1h14l1 1l1 18" fill="none" stroke="#9a9a30"/>
<path d="M20 505h4l2 1h8l2 1l2-1l2 1h6l2 1l2-1l2 1h6l2 1h2l2 2h4l2-1h4l2-1h2l2-1h4l1 1l1-1l2 1h6l1-23h5l2-1h2l2-1h4l2-1h6l2 1h22l2 1l2-1l2 1h2l2-1h8l2-1l2-1l2 1h6l2 1h2l2 1l2-1h3l1 18" fill="none" stroke="#7cfc00"/>
<path d="M20 506l2-1h4l2 1h2l2-1h2l2 1l2-1l2 1h6l2 1l2-1l2 1h4l2 1h4l2 1l2-1l2 2l2-1h8l2-1l2-1h2l1 1h9l1-21h1l2-1h2l2-1h2l2 1l2-1h2l2-1h10l2 1h2l2 1h10l2-1h4l2-1h6l2 1h16l2-1h11l1 18" fill="none" stroke="#7cfc00"/>
<path d="M20 504h6l2 1h6l2 1l2-1l2 1h12l2 1h2l2 1l2 1h2l2 1h6l2-1h2l2-1h2l2-1h10l2-1l2 1l1-20h7l2-1h4l2-1l2 1h12l2 1h2l2-1l2 1h4l2 1l2-1h12l2-1l2-1l2 1h20l2 1h3l1 17" fill="none" stroke="#7cfc00"/>
<path d="M20 504h4l2 1h18l2 1l2 1l2-1l2 1h2l2 1h2l2 1h2l2 1l2-1l2 1l2-1h2l1-1h1l2-1l2 1l2-1h5l1 1l2-1h4l2-1l1-17h1l2-1h8l2-1h4l2-1l2 1h2l2-1h2l2 1h4l2-1h6l2 1h2l2-1l2 1h2l2 1h2l2-1h4l2-1h2l2 1l2-1h2l2 1h2l2 1l2-1h9l1 16" fill="none" stroke="#202080"/>
<path d="M20 503l2 1h6l2 1h8l2 1h4l2-1l2 1l2-1h2l2 1h4l2 1l2 1l2 1h6l2-1h2l2-1h2l2-1h2l2-1l1 1h7l2-1l1-16h1l2-1h2l2 1l2-1h10l2-1h2l2 1l2-1h32l2 1l2-1h10l2-1h2l2 1h8l1 1l1 17" fill="none" stroke="#202080"/>
<path d="M20 502h6l2 1h6l2 1l2-1l2 1h2l2 1l2-1l2 1h4l2 1l2-1h2l2 1h2l2 1h6l2-1l1 1h1l2-1h4l2-1h2l1-1h5l2-1h2l1-14h5l2-1l2-1l2 1h2l2-1l2 1l2-1h2l2 1h10l2-1l2 1h2l2 1h2l2-1h2l2 1l2-1l2 1l2-1l2 1l2-1h6l2-1l2 1l2-1l2 1h4l2-1h9l1 16" fill="none" stroke="#a0522d"/>
<path d="M20 504h2l2-1l2 1l2 1h2l2-1h8l2-1l2 1h6l2 1h2l2 1l2 1l2 1h4l2-1l2 1l2-1l2-1h8l2-1l2-1h1l1-1l2 1h2l2-1l2 1l1-13l1-1l2 1h2l2-1l2-1h8l2-1h2l2 1h16l2 1l2-1h6l2-1l2 1l2-1l2 1h2l2-1h2l2-1l2 1h21l1 17" fill="none" stroke="#808000"/>
<path d="M20 503h22l2 1l2-1l2 1h4l2 1h4l2 1l2 1h2l2-1l2 1l2-1l2-1h2l2-1l2 1l2-1l2-1l2-1l1 1h5l2-1l2 1l1-11h1l2-1h2l2-1h2l2-1l2 1h4l2-1h10l2 1h8l2 1l2-1l2-1h8l2-1l2 1h10l2-1l2 1l2-1l2 1h6l2 1h2l2 1h1l1 16" fill="none" stroke="#a0522d"/>
<path d="M20 502h22l2 1h2l2 1l2-1l2 1h6l2 1h2l2 1h4l2-1l2-1h4l2-1h8l2-1h6l1-9h1l2-1h2l2-1l2-1h2l2-1h8l2 1h12l2 1h20l2-1h4l2-1l2 1h2l2 1h10l2 1h5l1 16" fill="none" stroke="#9932cc"/>
<path d="M20 502h4l2 1h2l2-1h2l2-1l2 1l2-1h4l2 1h2l2 1h2l2 1h10l2 1h2l2-1h6l2-1h4l2-1l2-1h10l1-7h3l2-1l2-1h32l2 1h2l2-1l2 1h2l2-1h6l2-1h4l2-1h2l2 1h4l2-1l2 1h8l2 1h1l1 15" fill="none" stroke="#9932cc"/>
<path d="M20 502l2-1h2l2-1l2 1h10l2 2h18l2 1h8l2-1l2-1l1-1h5l2-1h2l2-1h6l2-1l2 1l1-6h3l2-1l2-1h4l2-1h14l2 1h22l2 1h4l2 1h4l2-1h14l2 1h7l1 15" fill="none" stroke="#9932cc"/>
<path d="M20 501h14l2 1h24l2 1h4l2 1l2-2h4l2-1h2l2-1h2l2-1h6l2-1h2l1-4l1-1h4l2-1h6l2 1h2l2-1h2l2 1h4l2 1h2l2-1h6l2 1h2l2-1l2 1l2-1h18l2-1h12l2 1h5l1 15" fill="none" stroke="#c04020"/>
<path d="M20 501h2l2-1l2 1l2 1l2-1h6l2 1l2-1h6l2 1h2l2-1l2 1h8l2 1h4l2-1h2l1-1h1l2-1l2-1h2l2-1h12l1-3h5l2-1h4l2-1h6l2 1h6l2 1h4l2-1h8l2-1l2 1h6l2-1l2 1h2l2-1h10l2 1h4l2-1l2 1l2 1l2-1h3l1 14" fill="none" stroke="#c04020"/>
<path d="M20 501l2-1h16l2 1h2l2 1l2-1h6l2-1h4l2 1h4l2 1h2l2-1l2-1h4l2-1h2l2-1l2-1h1l1-1l2 1l2-1h10l2-1l2-1h6l2-1h2l2-1l2 1h2l2 1h4l2 1h2l2 1l2-1l2 1h12l2-1h2l2-1h29l1 13" fill="none" stroke="#da70d6"/>
<path d="M20 501h10l2-1h18l2-1l2 1h4l2 1h8l2-2h4l2-1h2l2-1h2l2-1h6l2-1h2l1 2h1l2-1h2l2-1l2-1h8l2-1l2 1h6l2 1l2 1h2l2-1l2 1l2-1l2 1h8l2-1l2 1h4l2-1h6l2-1h12l2 1h7l1 14" fill="none" stroke="#da70d6"/>
<path d="M20 500h2l2-1h2l2 1h4l2-1h12l2 1h4l2 1h8l2 1h4l2-2l2-1l1 1l1-1l2-1h4l2-1l2-1h8l2-1l1 3h5l2-1l2-1h10l2-1h14l2 1h6l2-1h20l2 1h20l1 1l1 13" fill="none" stroke="#ff7f50"/>
<path d="M20 499h8l2 1h2l2-1l2 1l2-1l2 1h28l2-1l2-1h2l2-1h2l2-1h2l2-1h4l2-1h4l1 5l1-1l2 1l2-1h2l2-1l2-1h6l2-1h4l2 1h6l2 1h6l2 1h2l2-1h14l2-1h6l2-1h2l2 1h2l2 1l2-1l2 1h2l2 1l2-1h1l1 14" fill="none" stroke="#87ceeb"/>
<path d="M20 498h14l2 1h2l2 1h10l2-1l2 1l2-1l2 1h2l2 1h4l2-1h2l2-1l1-2h3l2-1l2 1l2-1h3l1-1l2 1l2-1h2l2-1l1 7h1l2-1h2l2-1l2-1h2l2-1h12l2 1h4l2 1l2-1l2 1h16l2-1h2l2-1l2-1h4l2 1h2l2 1h6l2-1h2l2 1h5l1 13" fill="none" stroke="#87ceeb"/>
<path d="M20 498h4l2-1l2 1l2-1h8l2 1l2-1l2 1h12l2 1h4l2 1h4l2-1l2-2l1-1h1l2-1l2-1h2l2-1h2l1-1h3l2-1h4l1 9l1 1h2l2-1h2l2-1h2l2-1h4l2-1h6l2 1h2l2 1h4l2 1l2-1l2 1h6l2-1h2l2 1l2-1h4l2-1h4l2 1l2-1l2 1h10l2 1h5l1 12" fill="none" stroke="#4682b4"/>
<path d="M20 498l2-1h4l2 1l2-1h4l2 1h8l2 1h2l2-1h4l2-1l2 1h10l2-1l2-1l1-1h5l2-1l2-1h2l1-1h9l1 9h5l2-1l2-1h2l2-1h8l2 1h2l2 1h4l2 1l2-1h8l2-1h2l2 1l2-1h6l2-1h29l1 12" fill="none" stroke="#6b8e23"/>
<path d="M20 506h4l2 1h4l2 1h4l2 1h6l2 1h2l2 1h6l2 1h4l2 1h2l2 1h14l2-1h8l2-1l1-9h37l2-1h2l2 1h28l2-1h15l1 10" fill="none" stroke="#e0502a"/>
<path d="M20 497h48l2-2l2-1l1-1h1l2-1h10l2-1h6l1-9h41l2-1h4l2 1h39l1 17" fill="none" stroke="#000000"/>
<path d="M60 512h2l2-1h6l2-7l2-7l1-3h9l2-1h8l1-10h88" fill="none" stroke="#a08040"/>
<path d="M188 497h18l2 1h2l2-1h12l2-1l2 1h14l2-1h6l2 1h2l2 1h8l2-1h6l2-1h4l2-1h6l2 1l2 1l2-1l2 1l2 1h4l2-1h2l2 1h10l2 1l2-1h28l2-1l2 1h6l2 1h10l2-1h14l2 1h2l2-1l2 1h8l2-1l2 1l2-1h4l2-1l2 1h30l2-1h20l2 1l2-2l2-1l2-3l2-1l2-1h2l2-1h4l2 1l2-1h2l2 1h12l2-1l2 1h10l2-1l1 1h1l2 1h1" fill="none" stroke="#bc8f8f"/>
<path d="M188 497h4l2 1h34l2 1l2-1h8l2-1l2 1h4l2 1l2-1l2 1h4l2-1h18l2-1l2 1l2-1h10l2-1l2 1h6l2 1h4l2 1l2-1h2l2 1h4l2 1l2-1h2l2-1h6l2-1h4l2 1h16l2 1l2-1l2 1l2-1l2 1l2-1h10l2-1h4l2 1h2l2 1h24l2-1h2l2 1h6l2-1l2 1l2-1h24l2 1l2-1l2-1h2l2 1l2-2l2-2l2-2l2-1h12l2-1l2-1l2 1l2-1h2l2 1h4l2-1h2l2 1h2l2 1h2l2 1l2-1h3l1 1l2 1h1" fill="none" stroke="#ff6347"/>
<path d="M188 496l2 1l2-1h2l2 1h8l2 1l2-1h16l2 1h4l2-1l2 1h22l2-1h2l2 1h4l2-1l2 1h14l2-1h4l2 1l2-1l2 1h8l2-1l2 1h6l2 1h4l2 1l2-1h2l2-1h8l2 1h4l2-1l2 1l2-1h2l2-1h4l2 1h4l2 1h4l2 1l2-1h6l2-1h2l2 1h6l2 1h14l2-1h4l2-1l2 1h10l2-1h4l2-1h6l2 1h2l1 1h13l2-1l2-1h2l2-1l2 1h2l2-1l2-1l2-2h2l2-1h2l2-1h6l2-1l2 1l2-1h2l2 1h2l2-1l2 1l2-1l2 1h4l2 1h6l2-1h1l1 1l2 1h1" fill="none" stroke="#a060b0"/>
<path d="M188 498h16l2 1h10l2 1l2-1l2-1l2 1h8l2-1h12l2 1h2l2 1h4l2-1h4l2-1h2l2-1l2 1h2l2-1h2l2 1l2-1h8l2 1h14l2 1h28l2 1h10l2-1h4l2-1l2 1h4l2 1l2 1h6l2-1l2 1l2-1h8l2-1h2l2 1h4l2-1h2l2 1l2-1h6l2 1l2-1h16l2 1l2-1h2l2 1l2-1h2l2 1l2-1l1 1h5l2-1h6l2-1h10l2-1l2-1l2-2l2-1l2-1h12l2-1h6l2 1l2-1h2l2-1h2l2 1l2 1h4l2 1h2l2-1h1l1 1l2 1h1" fill="none" stroke="#a060b0"/>
<path d="M188 498h4l2 1h4l2-1l2 1l2-1h6l2 1h2l2 1h6l2-1h2l2-1h4l2 1h12l2-1h2l2 1h10l2 1h2l2-1h2l2 1l2-1h6l2-1h2l2-1h6l2-1l2 1h4l2 1h2l2 1l2 2l2-1h6l2-1h2l2-1h2l2 1h10l2 1l2-1h8l2 1l2-1l2 1h8l2 1h2l2-1l2 1l2-1h4l2-1l2 1l2-1l2 1h2l2 1h12l2-1h10l2-1l2 1l2-1h6l2 1h10l2-1l2 1h2l2-1h14l2-1l2 1l2-1h4l2-1h2l2-2l2-1l2-1h4l2 1l2-1l2 1h2l2-1l2-1h8l2-1h2l2-1l2 1h2l2 1h4l2 1h5l1 1l2 1h1" fill="none" stroke="#33cc33"/>
<path d="M188 498h8l2 1h10l2 1h4l2 1h4l2-1l2 1l2-1h4l2-1l2 1l2-1h16l2 1l2-1h2l2 1h4l2-1h2l2 1h22l2-1l2 1l2-1h8l2 1h4l2 1h4l2 1l2-1h2l2-1h4l2-1h2l2 1h10l2-1l2 1h10l2 1h2l2-1h2l2 1h22l2 1h2l2-1h8l2-1h10l2-1h12l2 1h4l2 1h2l2 1l1-1h5l2-1h6l2-1l2 1l2-1h6l2-1h2l2-2l2-2h28l2-1l2-1h8l2 1h2l2 1h1l1 1l2 1h1" fill="none" stroke="#202080"/>
<path d="M188 499l2 1h2l2-1l2 1h18l2 1h2l2-1h6l2 1l2-1h10l2-1l2 1h34l2-1l2 1h2l2-1l2 1h6l2-1h12l2 1h2l2-1h2l2 1l2-1l2 1h14l2-1l2 1h6l2-1l2 1h4l2 1h4l2 1h10l2-1h12l2 1l2-1l2 1h4l2-1l2-1l2 1h2l2 1h2l2-1h4l2-1h4l2-1h2l2 1h2l2 1l2-1h6l2 1h18l2-1h4l2-1h4l2-2l2-1l2-1l2-1h6l2 1h4l2-1h4l2-1l2 1h6l2-1h2l2 1h12l1 1l1 1h2l1 1" fill="none" stroke="#ff7f50"/>
<path d="M188 499h4l2 1h4l2 1h12l2-1l2 1h2l2-1l2 1h2l2-1h2l2 1l2-1l2 1l2-1l2 1h22l2 1l2-1h8l2-1l2-1l2 1l2-1h16l2-1l2 1h16l2 1h8l2-1l2-1h2l2 1h2l2 1h2l2 1l2 1h2l2-1h6l2 1l2-1h2l2 1h2l2 1l2-1h10l2-1h20l2-1l2 1h6l2-1h6l2-1l2 1l2-1l2 1h12l2 1h4l1 1h5l2-1h4l2-1h4l2-1h8l2-1l2-2l2-2l2 1h14l2-1h10l2-1h4l2 1l2 1l2-1l2 1h6l2 1l1 1" fill="none" stroke="#808000"/>
<path d="M188 500h4l2-1h2l2 1l2-1h8l2 1h4l2 1h4l2-1l2 1h10l2-1h8l2-1l2 1l2 1l2 1h12l2-1h2l2-1l2 1l2-1h2l2 1l2-1h10l2-1h4l2 1h2l2-1h2l2 2h6l2-1h2l2 1l2-1l2 1h14l2-1h2l2 1h2l2-1h4l2 1h10l2 1h2l2-1l2 1h2l2-1l2 1l2-1h8l2 1h12l2-1h2l2 1h6l2-1l2 1h8l2 1h10l2-1l2 1l2 1l2-1l1 1h3l2-1h2l2-1h2l2-1l2-1l2 1l2-1l2-1h6l2-2l2-2h2l2-1l2 1h4l2 1l2 1l2-1h4l2-1l2 1h2l2-1l2 1l2-1h17l1 1l2 1h1" fill="none" stroke="#a03030"/>
<path d="M188 500l2 1h8l2 1h12l2-1l2 1h14l2-1h6l2-1h2l2 1h6l2 1h10l2-1h4l2 1h2l2-1h4l2-1h8l2 1h4l2-1h10l2 1l2 1l2-1h4l2 1l2-1h6l2 1h10l2-1h10l2 1h6l2 1h2l2 1l2-1h2l2 1h6l2-1h6l2-1h28l2 1l2-1l2 1h10l2-1h8l2 1h2l1 1l1-1h10l2-1l2-1h2l2-1l2-1h6l2-1l2-1l2-1l2 1h12l2-2h2l2-1l2 1h6l2-1l2 1h8l2 1h2l2-1h1l1 1l2 1h1" fill="none" stroke="#87ceeb"/>
<path d="M188 501h4l2-1h8l2 1h4l2 1l2-1l2 1h2l2 1h8l2-1h2l2-1l2-1l2 1h2l2-1l2 1h4l2 1h8l2 1h2l2-1h4l2-1l2 1l2-1h8l2 1l2-1h2l2 1h10l2-1h14l2 1h6l2 1l2-1h10l2-1l2 1l2-1h4l2 1h4l2 1l2 1h10l2-1h10l2-1l2 1h2l2-1h2l2 1h2l2 1h4l2-1l2 1h8l2-1h6l2-1h14l2 1l2-1l2 1h5l1 1h2l2-1h2l2 1h4l2-1l2-1l2 1l2-1l2-1l2-1h2l2-1l2-1l2-2h2l2 1h2l2 1l2-1h4l2-1h6l2 1h8l2 1h8l2-1h3l1 1h3" fill="none" stroke="#56b4e9"/>
<path d="M188 501h2l2 1l2-1l2 1h18l2 1h4l2-1h8l2-1l2 1h18l2 1h12l2-1h2l2-1h10l2-1h2l2 1l2-1l2 1h6l2 1h4l2-1l2 1h2l2-1h6l2 1h24l2 1h4l2-1h10l2 1h4l2 1l2-1h6l2 1h2l2-1h10l2 1l2-1h8l2-1h4l2-1h6l2 1h2l2 1h12l2 1h10l2-1h6l2-1h4l2-1l2 1h2l2-1l2-1l2-1l2-2h6l2 1h4l2-1l2-1l2 1l2-1h2l2 1h2l2 1l2-1h4l2 1h2l2-1l2 1l2-1h3l1 1l2 1h1" fill="none" stroke="#f0a0a0"/>
<path d="M188 502l2 1h2l2-1h14l2 1h28l2-1h14l2 1l2-1h2l2 1h2l2-1h4l2-1l2-1h4l2 1h6l2 1h4l2-1l2 1h10l2 1h12l2-1h12l2 1h16l2 1l2 1l2-1h4l2 1l2-1h6l2-1l2 1l2-1l2 1h2l2-1h2l2 1h4l2 1h2l2-1h2l2-1h12l2 1h2l2-1l2 1l2-1h10l2 1h2l2 1h8l2-1h8l2-1h4l2-1h2l2-1h2l2-1l2-1h2l2-1h4l2 1h4l2-1l2-1h6l2 1l2-1l2 1h8l2 1l2-1h6l1 1h1l2 1h1" fill="none" stroke="#56b4e9"/>
<path d="M188 501h2l2 1h10l2 1l2-1l2 1h2l2-1h2l2 1h6l2 1l2-1h2l2 1l2-1h2l2-1h2l2-1l2 1h6l2 1h2l2 1h6l2-1h4l2-1l2 1l2-1h4l2 1h18l2-1h12l2 1h2l2-1l2 1h6l2-1h12l2 1h4l2 1l2-1l2 1h4l2 1l2-1h2l2 1h22l2-1h2l2 1l2 1h2l2-1h2l2-1h4l2-1l2 1h2l2-1h2l2 1l2-1h6l2 1l2-1l2 1h4l2 1l2-1l2 1l2 1l2-1l1 1h11l2-1l2-1h2l2-2h2l2-1h4l2-1h2l2-1h2l2 1l2-1h8l2-1l2 1h2l2 1h6l2-1h6l2 1l2-1h2l2 1h3l1 1l2 1h1" fill="none" stroke="#9932cc"/>
<path d="M188 502h4l2 1l2-1l2 1h4l2 1l2-1h2l2 1h14l2-1h2l2 1l2-1l2 1l2-1h12l2 1h2l2 2l2-1h6l2-1h8l2-1h8l2-1l2-1l2 1h6l2-1h2l2 1h6l2 1l2 1h4l2-1l2 1h4l2-1h2l2 1h4l2-1h4l2 1l2-1h6l2 1l2-1l2 1l2 1h4l2 1h2l2 1l2-1h4l2-1h2l2-1h2l2 1h2l2-1h4l2 1l2 1h2l2-1l2-1l2 1h4l2-1h2l2 1l2-1l2 1l2-1h8l2 1h10l2 1h6l2-1h10l2-1h2l2-1l2-2h6l2-1h2l2-1h2l2 1l2-1l2 1h4l2-1h4l2 1h10l2-1l2 1h2l2 1h4l2-1h2l1 1h3l1 1" fill="none" stroke="#e0502a"/>
<path d="M188 503l2 1h8l2 1l2-1h14l2 1l2-1h10l2-1h4l2 1l2-1h10l2 1l2 1h2l2-1h2l2 1l2-1l2-1h2l2 1l2-1h4l2 1l2 1h2l2-1h6l2-1l2-1h6l2 1h4l2 1h2l2 1h4l2 1l2-1h6l2-1l2-1l2-1h2l2 1h2l2-1l2 1h8l2 1h2l2 1h6l2 1h6l2-1l2 1h2l2-1h2l2 1l2-1h6l2 2l2-1l2 1l2-1l2-1h8l2-1h4l2 1l2-1h2l2 1h16l2 1h8l2 1l2-1h6l2-2l2 1l2-1l2-1h4l2-1h2l2-1l2-1l2-1h4l2 2h2l2-1h6l2 1h2l2 1l2 1h2l2-1h2l2-1l2 1h2l2-1h4l2-1l1 1l1-1l2 1h1" fill="none" stroke="#e0502a"/>
<path d="M188 503h2l2 1h24l2 1l2-1h2l2 1l2-1l2 1h2l2-1h6l2-1h12l2 2h10l2-1h4l2-1l2-1h12l2 1h16l2 1h4l2-1h4l2 1h4l2 2h6l2-1h2l2-1h12l2 1l2-1l2 1h8l2 1h20l2-1h6l2 1h16l2-1h4l2-1h2l2 1h2l2 1l2-1l2 1h6l2-1l2 2h4l1 1h7l2-1h4l2-2h2l2-1l2-1h6l2-1h2l2-1h4l2-1h2l2 1h4l2-1h4l2 1l2 1h6l2-1h4l2 1l2-1h6l1 1h1l2 1h1" fill="none" stroke="#7cfc00"/>
<path d="M188 505l2 1l2-1l2-1h4l2-1h6l2 1l2 1h4l2 1h8l2-1h4l2-1h6l2-1l2 1h6l2 1h2l2 1h4l2-1l2 1h2l2-1h2l2 1l2-1l2-1h4l2-1l2 1l2-1l2 1h2l2 1l2-1h6l2-1h4l2 1l2 1l2-1l2 1h4l2 1h10l2-1h12l2-1l2 1l2-1l2 1h4l2 1h4l2 1h2l2 1h2l2-1h6l2-1h2l2-1h6l2 1l2 1h2l2 1h2l2-1h2l2-1h6l2-1h2l2 1h2l2-1l2 1h4l2-1l2 1h8l2 2h4l1 1h5l2-1h4l2-1l2-1h2l2-1l2-1h4l2-1h2l2-1l2-1h4l2 1h2l2 1h4l2-1h4l2 1l2-1h2l2-1h4l2-1h2l2 1h2l2 1h4l1 1l1 1h3" fill="none" stroke="#e9967a"/>
<path d="M188 504h6l2 1h6l2-1l2 1h8l2 1h8l2-1h4l2-1h2l2-1l2 1h2l2 1l2 1h8l2 1l2-1h8l2-1l2-1l2 2l2-1l2-1l2 1h6l2-1h4l2 1h6l2-1h4l2-1h2l2 1h2l2 1h4l2 1h2l2-1l2 1h2l2-1h2l2-1l2 1h8l2 1h2l2-1h4l2 1l2 1l2-1l2 1l2 1l2 1h2l2-1h2l2-1l2-2l2 1l2-1l2 1h6l2 1l2 1h12l2-1h4l2-1h14l2 1h4l2-1h6l2 1h4l1 1h3l2 1l2-1l2-1h4l2-1h2l2-1l2-1h6l2-1h2l2-1h2l2 1h4l2 1h2l2-1l2-1l2 1l2-1l2 1h12l2 1h2l2 1l2-1h2l2-1l1 1l1-1l2 1l1-1" fill="none" stroke="#e9967a"/>
<path d="M188 503l2 1l2 1l2-1h4l2 1h6l2 1h16l2-1l2 1h2l2-1h4l2-1l2 1h10l2 1l2 1l2-1h2l2 1h4l2-1l2-1l2 1l2-1l2-1h2l2 1h20l2-1h2l2 1h6l2 1l2-1h2l2 1h2l2 1h2l2 1h4l2-1h2l2-1h4l2-1h6l2 1h2l2 1l2 1l2-1h2l2 1h4l2-1h6l2 1h6l2-1l2-1h4l2 1h30l2-1l2 1h2l2 1h8l2 1h14l2-1h2l2-1h2l2-1l2-1h2l2-1l2-1h4l2-1h4l2 1l2 1h6l2-1l2 1l2-1l2 1l2 1h4l2-1l2-1l2 1h14l2 1h1" fill="none" stroke="#a0522d"/>
<path d="M188 503h2l2 1h4l2 1h4l2 1h2l2-1l2 1l2-1l2 1h10l2-1h2l2 1l2-1l2 1h2l2-1h12l2 1h12l2-1h2l2 1h2l2-1l2 1l2-1h6l2-1h4l2 1h8l2-1h6l2 1h6l2 1h24l2 1l2-1h4l2 1h2l2 1l2-1h4l2 1h8l2 1h4l2 1l2-1l2-1l2-1h14l2 1h6l2-1h8l2-1l2 1h2l2 1h12l2 1h8l2-1h2l2-1l2 1l2-1l2-1h2l2-1l2-1h10l2-1h8l2 1h2l2-1h4l2 1h2l2 1l2-1h16l2-1l2 1h2l2 1h1" fill="none" stroke="#d2691e"/>
<path d="M188 505h2l2 1l2-1h2l2 1h10l2 1l2-1l2 1h6l2-1l2 1l2-1h2l2-1h4l2 1l2-1h2l2 1h10l2 1l2 1l2-1h6l2-1h6l2-1l2 1h6l2-1l2-1l2 1h18l2 2h16l2-1h14l2 1h2l2-1h2l2 1h10l2 1h10l2-1l2 1h10l2 1h6l2 1l2-1l2-1h14l2 1l2-1l2-1h2l2 1l2 1l2-1l2 1h6l2-1h2l2 1h2l1 1h3l2-1h8l2-1h2l2-1l2-1h2l2-1h2l2-1h4l2-1h2l2 1l2 1l2-1h4l2-1l2 1h4l2 1h2l2 1l2-1h4l2 1h8l2-1l1 1h1l2 1h1" fill="none" stroke="#da70d6"/>
<path d="M188 505l2 1h10l2 1h6l2 1h2l2-1h2l2 1l2-1h2l2 1l2-1l2 1h2l2-1l2 1l2-1h4l2-1h6l2 1h12l2 1h4l2 1l2-1l2-1h2l2-1h22l2-1l2 1h2l2 1h4l2-1l2 1l2 1h10l2-1h2l2-1l2 1h2l2-1h8l2 1h2l2 1l2 2l2-1h12l2-1h6l2 1l2-1h2l2-1l2 1l2 1h4l2 1l2-1h6l2 1h2l2-1h2l2-1h2l2-1l2-1l2 1h2l2 1h2l2 2h6l2-1l2 2h5l1-1l2 1h2l2-1l2-1l2 1l2-1l2-1h2l2-1l2-1h2l2-1h14l2 1h6l2-1l2 1h2l2 1l2 1l2-1h2l2-1l2 1l2 1h10l2-1l1-1h1l2 1l1-1" fill="none" stroke="#da70d6"/>
<path d="M188 506l2 1h6l2 1h14l2-1h2l2 1l2-1h8l2 1l2-1l2-1h2l2-1h8l2 1l2 1h2l2 1l2 1h4l2 1l2-1h2l2-1l2 1l2-1l2-1h4l2-1h6l2 1h8l2-1h2l2 1h14l2 1h6l2-1h2l2-1l2 1l2-1l2 1h4l2 1l2-1h2l2 1h2l2 1h2l2 1h2l2-1l2 1h6l2-1h2l2-1l2 1l2-1h10l2 1h4l2 1l2-1h8l2 1l2-1l2 1l2-1h4l2-2l2 1h6l2 1l2 1h4l2-1l2 2h4l1 1h5l2-1h2l2-1h2l2-1l2-1l2-1l2-1h2l2-1h6l2 1l2-1h4l2 1l2 1l2-1h2l2-1l2 2h12l2-1l2 1h2l2 1h2l2-1h6l2 1h1" fill="none" stroke="#b0a0e0"/>
<path d="M418 499l2-7l1-3h14l1 3l2 6" fill="none" stroke="#000000"/>
<path d="M416 500l2-4l2-3l1-2h15l2 4l2 4" fill="none" stroke="#a05030"/>
<path d="M478 499l2-1l2-2l2-1l2-2l2-1l2-2h4l2-1h8l2-1h6l2 1h4l2 1h2l2 2l2 2l2 2l1 1" fill="none" stroke="#000000"/>
<path d="M490 491h2l2-1h2l2-1h2l2-1h2l2-1h2l2-1h6l2 1h4l2 2l2 2l2 2l1 1" fill="none" stroke="#e0502a"/>
<path d="M188 512l2-1l2 1h24l2-1h24l2 1h2l2 1h8l2-1h18l2 1h4l2-1l2 1l2-1l2 1l2-1h2l2 1h16l2 1h20l2 1h18l2-1l2 1l2-1h4" fill="none" stroke="#a08040"/>
<path d="M188 510h2l2 1h2l2-1h6l2 1l2-1h2l2 1h10l2-1l2 1h16l2-1l2 1l2-1h2l2 1h2l2-1h24l2 1l2-1l2 1h28l2 1l2-1l2 1h32l2-1l2 1l2-1h42l2 1h36l2 1h20l2-1h22l2-1h8l2-1h20l2 1l2-1l2 1h9" fill="none" stroke="#e0502a"/>
<path d="M220 509l2 1h10l2 1h14l2 1h24l2-1h14l2-1h22l2 1h50l2-1l2 1l2-1h40l2 1h12l2 1h14l2 1h20l2-1h14" fill="none" stroke="#808000"/>
<path d="M533 513l2-1l2-1l2 1l2 1h6l2 1l2 1h2l2-2l2 1h2l2-1h4l2-1l2 1h6l2 1h4l2-1h2l2 1h8l2 1l2 1h2l2 1h6l1-1l1-1h6l2-1h12l2 1l2-1h2l2 1h2l2 1l2-1h2l2-1h8l2 2h2l2-1h4l2 1l2 2l2-1h12l2 1h2l2 1h8l1-1h3l2-1l2-1l2 1l2-1l2-1h4l2 1h2l2-2h2l2 1l2 1h6l2 1h2l2-1h2l2 2h2l2-1h2l2 1l2-1h2l2-1h6l2-1l2 1h2l2 1h2l2 1h2l2 1h6l2-1l2-1h2l2-1l2 1l2-1h4l2 1h2l2 1h6l2-1l2-1l2 1h9l1-3h2l2-1h4l2 1h8l2 1h4l2 1h14l2-1h2l2-1h4l2-1l2-1l2 1h10l2-1h2l2-1h2l2-1l2 1h10l2 1l2-1l2 1h2l2 1l2 1h2l2-1h4l2-1h2l2-1h2l2 1h2l2-1l2 1l2 1l2-1h2l2 1h4l2 1h4l2 1h2l2-1h2l2 1l2-1l2 1h6l2-1h2l2 1h2l2-1" fill="none" stroke="#a0522d"/>
<path d="M533 510h4l2 1l2 1h12l2-2h2l2 1l2-1l2 1h4l2 1l2 1l2 1h6l1-1h1l2-1h4l1 1h7l2 1l2 1l2 1h9l1-1h4l2-1l2-1h4l2 1h6l2 2l2-1h6l2 1l2-1h2l2-1l2 1h8l2 1l2-1h6l2 2h2l2-1l2-1l2 1h10l2 1h18l2-1h12l2-1h2l2 1h14l2 1h10l2-1l2-1l2 1l2-1h6l2 1h6l2 1l2 1h2l2 1l2-1h2l2 1l2-1h18l2-1l2 1l2-1l2-1h4l2-1h2l2 1l1-1l1-3l2-1l2 1h6l2 1h2l2-1l2-1l2 1h2l2 1h4l2 1h14l2-1h6l2-1h6l2-1l2 1h14l2-1l2 1l2-1h4l2 1l2-1l2 1h14l2-1h4l2-1l2 1h2l2-1l2 1h6l2 1h2l2-1l2 1h2l2 1h2l2-1h2l2 1l2 1h2l2-1h2l2 1l2-1h2l2-1h2l2 1l2 1" fill="none" stroke="#ff7f50"/>
<path d="M533 512l2-1h2l2 1h2l2 1l2-1l2 1l2-1h4l2-1h10l2-1l2 1h4l2 1l2 1l2-1l1-1h3l2 1h2l1 1h1l2 1l2-1h2l2 1h2l2 1h2l2 1h5l1-1h2l2 1l2-2l2-1h8l2-1l2 1l2 1l2-1h4l2 1l2 1l2-1h2l2-1h2l2 1l2 1h6l2-1h6l2 2h10l2-1l2 1h2l2 1h4l2-1l2 1l2-1h8l2-1l2-1h8l2 1l2-1h4l2 1h2l2 1h10l2 1l2 1l2-1h8l2-1l2-1h4l2-1h2l2 1h6l2 1l2 1h12l2-1h18l2 1h2l2-1l2-1h6l2-1h1l1-4l2 1h6l2 1h8l2 1h8l2-1l2 1l2-1l2 1h8l2-1h8l2-1l2 1h2l2-1h4l2-1l2 1h8l2-1h4l2-1h4l2-1l2 1h4l2 1h4l2 1h2l2-1l2-1h4l2 1h2l2-1h2l2 1h6l2 1h2l2 1h4l2 1h2l2-1h12l2-1l2-1h8" fill="none" stroke="#c04020"/>
<path d="M533 510l2-1l2-1l2 2h10l2 1l2-1h2l2 1h18l2 1l2-1l1-1h1l2-1h4l1 1h3l2 1h2l2 2l2 1h2l2 1l2-1h8l2 1l2-1h2l2-1h2l2-1h2l2 1l2-1l2 1h6l2 1h6l2-2l2 1h8l2 1l2-1h2l2 1h2l2 2h4l2-1h12l2 1h12l2-1h4l2-1l2-1l2 1l2-1h2l2 1l2-1h8l2 1h10l2 1h6l2 1h2l2-1l2-1l2 1l2-1h2l2-1l2 1l2 1h2l2-1l2 1l2 1l2 1h10l2-1h2l2 1l2-1h4l2 1h4l2-1h4l2-1h4l2-1h7l1-4h10l2-1h10l2 1l2 1l2-1l2 1l2 1h2l2-1h8l2-1h6l2-1l2-1h6l2-1l2 1l2 1l2 1l2-1h6l2-1h2l2-1h2l2-1h4l2 1h4l2 1h2l2 1l2 1h2l2-1h10l2-1h2l2 1h4l2 1h4l2 1h4l2 1l2-1h16l2-1h2l2-1l2 1l2-1" fill="none" stroke="#9a9a30"/>
<path d="M533 507h4l2 1h2l2 1l2 1h2l2-1l2 1h10l2 1l2-1l2-1l2 1h6l2 1h2l1-1h5l2 1h2l2 1h2l2-1l2 1l2 1h2l2 1l2-1l2 1h3l1-1h6l2-1l2-1h2l2 1h2l2-1h8l2 1h2l2 1h4l2-1h2l2 1h2l2 1h12l2 1h4l2-1h12l2 1h14l2-1h10l2-1h6l2-1h4l2 1h10l2 1h4l2-1l2 1h4l2-1h6l2-1h2l2 1h6l2 1l2 1l2 1h8l2-1l2 1h2l2-1l2 1l2-1h2l2 1l2-1h10l2-1l2-1h6l1-1l1-5h2l2 1h10l2-1h2l2 1h2l2 1h2l2 1h6l2 1l2-1h6l2-1l2-1h4l2-1h4l2 1h16l2 1l2-1h4l2-1h2l2-1h2l2 1h6l2 1l2-1l2 1h2l2-1h8l2 1l2-1l2 1h2l2-1h2l2 2l2-1h6l2 2l2 1l2-1h4l2 1l2-1l2-1l2-1h4l2-1h4l2 1h2" fill="none" stroke="#6b8e23"/>
<path d="M533 507l2-1h2l2 1l2 1h4l2 1h4l2 1l2-1l2 1h6l2-1h4l2 1l2-1h2l2 1h3l1-1h2l2 1h2l1 1h5l2-1h2l2 1l2 1l2 1l2-1l2 1h2l1-1h3l2-1h2l2-1h2l2 1h8l2 1l2-1h2l2 1l2 1h2l2-2h10l2 1l2 1h4l2-1l2-1h2l2 1h6l2 1h2l2 1h2l2-1l2 1h2l2-1l2 1h10l2-1h2l2-1h10l2-1h2l2 1h2l2-1l2 2h6l2-1l2 1l2 1h6l2 1h2l2-1l2-1h2l2-1h2l2-1h2l2 1h4l2 1h4l2 1l2 1h2l2-1l2 1l2-1l2 1h2l2-1l2-1h12l2 1h2l2-1h2l2-1h4l2 1l1-1l1-6l2 1h4l2-1l2 1h2l2 1h2l2-1l2 1h18l2 1h2l2-1h6l2-1h6l2-1h8l2 1h12l2-1h24l2-1h4l2 1h4l2-1h2l2 1l2-1h4l2 1h4l2 1h2l2 1h2l2-1h2l2 1h8l2-1h4l2-1l2 1h2" fill="none" stroke="#b0a0e0"/>
<path d="M533 507h10l2 1h8l2-1l2 1h6l2-1h4l2 1l2-1h2l2 1h2l1-1h3l2 1l2 1h2l2 1h4l2 1l2 1l2 1h6l2-1l1-1l1-1l2 1h4l2-1h2l2 1h8l2 2l2-1h12l2-1h6l2 1h2l2-1h8l2 1h4l2-1h4l2 1l2 1h2l2 1h6l2-1h3l1-1h8l2-1h10l2-1h4l2 1l2-1l2 2h4l2-1l2 1l2 1h2l2 1l2-1h2l2 1l2-1h10l2-1h2l2 1h2l2-1l2 1h2l2 1h16l2-1l2 1l2-1l2 1l2-1h8l2-1h4l2-1l2-1h5l1-6h4l2 1h6l2 1l2-1l2 1l2 1l2-1h6l2 1h2l2-1l2 1h8l2-1h2l2-1h2l2 1l2-1h4l2-1l2 1h2l2-1l2 1h4l2-1l2 1h4l2-1l2-1l2 1h12l2 1l2-1h8l2 1h4l2 1l2-1l2 1h2l2-1h8l2 1h2l2 1l2 1h2l2-1h2l2 1l2-1l2-1h8l2-1l2 1h4" fill="none" stroke="#7cfc00"/>
<path d="M533 506h8l2 1h6l2 1h8l2-1l2 1l2-1l2-1l2 1h6l2 1h6l2 1h3l1 1h6l2 1l2 1h2l2 1h2l2-1h3l1-1h6l2-1h2l2 1l2-1h6l2 1l2-1h2l2 1l2 1l2 1l2-1h2l2-1l2 1h6l2-1h2l2 1l2-1h4l2 1h10l2-1l2 1h4l2 1l2-1h2l2 1l2-1h2l2 1h6l2-1h2l2 1l2-1l2-1h2l2-1h6l2 1l2 1l2 1h2l2-1l2 1l2-1h14l2-1h6l2-1l2 1h2l2 1h4l2 1l2 1h10l2-1h4l2-1h6l2-1l2 1h2l2-1h12l2-1l2 1l1-1l1-6l2 1h6l2 1l2-1h10l2 1l2 1h4l2 1l2-1h4l2 1l2-1h2l2-1h4l2-1l2-1l2 1l2-1h10l2 1h8l2-2l2 1l2-1h8l2 2l2-1l2 1h6l2-1h2l2-1l2 1l2-1h4l2 1l2-1l2 1l2-1l2 1h6l2 1h2l2 1h4l2 1l2-1h4l2 1l2-1l2 1l2-1h4l2-1h6" fill="none" stroke="#7cfc00"/>
<path d="M533 506l2-1h2l2 1l2 1h12l2-1h12l2 1h2l2-1h2l2 1h2l1-1l1-1h4l2 1l1 1h1l2 1h4l2 1l2 1l2 1h4l2 1l2-1h1l1-1h4l2-1h8l2 1h4l2 1l2-1h6l2 1h16l2-1h4l2 1h2l2 1h2l2-1h2l2 1h8l2 1h4l2-1h14l2-1l2 1h2l2-1h8l2-1l2 1h14l2 1h10l2-1h14l2 1l2-1h4l2 1h8l2 1l2-1h2l2 1l2-1h8l2-1h2l2 1l2-1h4l2-1h6l2 1l1-1l1-7l2 1h4l2-1l2 1h12l2 1h6l2 1l2-1h10l2-1h2l2-1h10l2-1h4l2 1h6l2 1h4l2-1h2l2-1h20l2 1l2-1h8l2 1l2-1l2 1h2l2-1l2 1h8l2 1l2 1h20l2-1l2-1h6" fill="none" stroke="#e9967a"/>
<path d="M533 504l2-1h2l2 1h16l2 1h6l2 1l2-1l2 1h2l2 1h2l2 1l2-1h1l1-1h4l2 1l1 1h1l2 1l2-1h4l2 1h2l2 1h6l1 1l1-1h6l2-1h14l2-1l2 1h4l2 1h4l2-1l2 1h4l2-1h2l2 1l2-1h6l2 1l2 1l2-1h8l2 1h4l2 1h8l1-1l1 1h6l2-1l2-1h6l2-1h12l2 1h10l2 1h4l2-1l2 1h4l2-1h8l2 1h4l2-1l2 1h2l2 1l2-1h2l2-1h4l2-1h4l2 1l2 1l2-1l2 1h2l2 1l2-1h6l2-1h4l2-1h2l2 1l1-1l1-8l2 1h10l2 1l2-2l2 1h2l2 1h6l2 1h4l2-1h2l2 1l2-1h2l2-1h14l2-1h4l2 1h8l2 1l2-1h6l2-1l2 1l2-1h4l2 1h2l2 1h10l2-1h4l2-1l2-1l2 1h4l2-1l2 2l2 1h4l2 1h2l2 1l2-1l2-1h8l2 1h2l2-1h10" fill="none" stroke="#4682b4"/>
<path d="M533 504h2l2-1l2 2h8l2-1l2 1l2-1l2-1l2 1h8l2-1l2 1h2l2 1h2l2 1h2l1-1h3l2 1h2l1 1h1l2 1h2l2-1l2 1l2 1h20l2-1l2 1l2-1h2l2 1h4l2-1h2l2 1h8l2-1h2l2 1h4l2 1h2l2-1h12l2 1h2l2-1h4l2 1l2-1l2 1h4l2 1h8l2-1h2l2-1h10l2-1h2l2 1h4l2 1h2l2 1l2-1h4l2 1h4l2-1l2 1h4l2-1h6l2-1h2l2 1h8l2 1h6l2-1h2l2-1l2 1h6l2-1l2 1h2l2 1h2l2-1h4l2-1h2l2-1h4l2 1h1l1-8l2-1l2 1h6l2-1l2 1h4l2 1h4l2 1l2-1l2 1h12l2-1h2l2-1h4l2-1l2 1h24l2-1h2l2-1h10l2 1l2 1h4l2 1h2l2-1h2l2-1h8l2 1h8l2 1h8l2 1l2-1h14l2-1h2l2-1h6" fill="none" stroke="#9932cc"/>
<path d="M533 503h4l2 1h4l2 1l2-1h4l2 1l2-1l2 1h6l2-1h10l2 1l2 1l1-1h1l2 1l2 1l2 1h1l1-1l2 1h6l2 1h18l2-1h22l2 1h2l2-1l2-1h2l2 1h6l2 1h8l2 1h2l2-1h4l2-1l2 1h6l2 1h18l2-1l2-1h8l2-1h8l2 2h16l2-1l2 1h2l2-1h2l2 1h14l2-1l2 1l2 1l2-1l2 1l2-1h4l2-1h2l2 1h4l2 1h4l2 1h2l2-1h2l2-1h2l2-1l2-1h4l2 1h1l1-8l2 1h12l2-1h2l2 1h8l2 1h4l2-1h2l2 1l2-1h2l2-1h6l2-1h8l2 1l2-1l2 1h12l2-1h6l2 1l2-1l2 1h4l2 1h2l2-1h8l2-1h2l2 1h2l2-1h2l2 1l2-1h2l2 1h6l2 1h6l2-1l2 1h4l2-1h4l2-1h2l2-1h2l2 1h2" fill="none" stroke="#808000"/>
<path d="M533 501h4l2 1h6l2 1h18l2-1l2 1l2 1h2l2-1l2 1h3l1-1l2 1h2l2 1h1l1 1l2 1h2l2-1l2 1l2 1h2l2 1h7l1-1h6l2-1h12l2 1l2-1h2l2 1h8l2-1h20l2 2h10l2 1l2-1h16l2 1l2-1l2-1h2l2 1l2-1h10l2-1h14l2 1h2l2 1h4l2-1h2l2-1h18l2-1l2 1h2l2 1h2l2 1h2l2-1l2 1l2-1h6l2 1l2-1h20l2-1h4l1-1l1-9l2 1h2l2 1h4l2 1h2l2-1h8l2 1h12l2 1l2-1l2 1l2-1h4l2-1h4l2-1h14l2 1h4l2-1h4l2-1h6l2 1h6l2 1h6l2-1h2l2-1l2 1h2l2-1h2l2 1l2 1h4l2 1h14l2-1l2 1h6l2-1h4l2-1h6l2 1" fill="none" stroke="#808000"/>
<path d="M533 501h2l2-1l2 1l2 1h8l2 1h2l2-1h4l2-1h4l2-1l2 1l2 1h2l2 1l2 1h2l1-1l1-1l2 1h2l2 1h2l2 1h4l2 1h4l2 1h14l2-1h6l2 1l2-1l2 1h4l2-1h2l2 1h10l2 1h4l2-1h10l2 1h16l2-1l2 1h18l2-1h8l2-1h2l2-1h8l2 1h4l2 1h2l2 1h12l2-1h2l2-1h2l2 1l2-1l2 1l2 1h8l2 1h2l2-1h8l2-1h2l2 1h10l2-1h17l1-10l2 1l2-1h14l2 1h4l2 1l2-1l2 1h2l2-1h2l2 1h2l2-1h2l2-1h6l2-1l2 1h16l2 1l2-1h8l2-1h2l2 1l2-1l2 1h26l2-1h8l2 1h8l2 1h4l2-1l2 1h4l2-1h14l2 1" fill="none" stroke="#e0502a"/>
<path d="M533 501h4l2 1h14l2-1l2 1h2l2-1l2 1h2l2-1l2 1h4l2 1h10l2 1l1 1l1-1l2 1l2-1h2l2 1l2 2h2l2 1h4l2-1h1l1-1h16l2 1l2-1l2 1h2l2-1h2l2 1l2 1h2l2-1h4l2 1l2-1l2 1l2-1l2 1l2-1h2l2-1l2 1h6l2-1l2 1l2 1l2-1h2l2 1h18l2-1h4l2-1h2l2-1h10l2 1l2 1h2l2 1h2l2-1h12l2 1h8l2-1h16l2 1h8l2 1l2-1h18l2-1h2l2-1h10l2 1l1-1l1-10h10l2 1h6l2 1h4l2 1l2-1h10l2 1l2-1l2 1l2-1h6l2-1h2l2-1h6l2 1l2-1l2 1h4l2 1l2-1l2-1l2 1l2-1h8l2 1h14l2-1h12l2 1h12l2 1h8l2-1h2l2 1h2l2-1h2l2 1l2-1h4l2 1h4" fill="none" stroke="#c02080"/>
<path d="M533 500l2-1h2l2 1h10l2 1h2l2-1l2 1h2l2-1h14l2 1h3l1-1h2l2 1l2 1l1 1l1-1l2 1l2 1h2l2 1l2 1h2l2 1h6l1-1l1-1h14l2 1l2-1l2 1h2l2-1h6l2 1h12l2-1h8l2-1l2 1l2 1h4l2-1h2l2 1l2-1h6l2 1h24l2 1l2-1h14l2 1h8l2 1h4l2-1l2 1h2l2-1l2-1h6l2-1l2 1h4l2 1h4l2 1l2-1h4l2-1h4l2 1h2l2-1l2 1h2l2-1h2l2 1l2-1l2 1h6l2-1h2l2-1h2l2 1l1-1l1-11h8l2 1h2l2 1l2-1h2l2 1l2-1l2 1h2l2-1l2 1h8l2 1l2-1h6l2-1h2l2-1h10l2 1h2l2 1h8l2-1h4l2-1h4l2-1l2 1h4l2 1h10l2-1l2-1l2 1h8l2 1h2l2-1l2 1h2l2 1h4l2 1h4l2-1h2l2 1h10l2-1h8" fill="none" stroke="#c02080"/>
<path d="M533 499h4l2 1l2 1h2l2-1h8l2-1l2 1h4l2 1h2l2-1l2 1h6l2 1l2-1h4l2 1l2 1h2l2 1l2-1h2l2 1h2l2 1h4l2 1h3l1-1h6l2-1h6l2 1h4l2 1l2-1h6l2 2l2-1h2l2-1h20l2 1h8l2-1h2l2 1h8l2 1h12l2-1h2l2-1h2l2-1h2l2 1h2l2-1h2l2 1h14l2 1h12l2-1l2 1l2-1l2-1h2l2 1h6l2 1h2l2 1h8l2-1h2l2-1h28l2-1l2 1l2 1l1-1l1-11h6l2-1l2 1h8l2 1h6l2 1l2-1h2l2 1h2l2-1l2 1l2-1h12l2-1h6l2-1h4l2 1h4l2-1l2 1h4l2-1h6l2 1l2-1l2 1h10l2 1l2-1h6l2-1l2 1l2-1l2 1h2l2-1l2-1l2 1h2l2 1h2l2 1l2 1l2 1l2-1h6l2-1h2l2 1h2l2-1h8l2-1" fill="none" stroke="#da70d6"/>
<path d="M533 497h4l2 1h16l2 1h16l2 1h8l2 1l2 1l1 1l1-1l2 1h2l2 1h2l2 1h2l2 1h2l2-1l2-1l1 1l1-1h2l2-1h8l2 1h18l2 1h2l2-1l2 1h8l2-1h16l2 1h10l2 1h12l2-1h16l2-1h10l2 1h4l2-1l2 1h8l2 1h2l2-1h14l2 1l2-1l2 1h8l2-1h22l2 1h4l2-1h4l2-1l2-1l2 1h3l1-12l2 1h4l2-1l2 1h4l2-1l2 1l2 1h2l2-1l2 1h10l2 1h6l2-1h6l2-1h12l2-1h2l2 1l2-1h6l2 1l2-1h8l2-1h2l2 1h2l2 1h8l2 1l2-1l2 1h4l2-1l2 1l2-1h6l2 1h4l2-1l2 1h4l2-1h10l2-1h2l2-1l2 1h2l2-1h2" fill="none" stroke="#a060b0"/>
<path d="M533 499l2-1h4l2 1h6l2-1h2l2 1l2-1h4l2-1h2l2 1l2-1l2 1h4l2 1h6l2 1l2 1l2 1h1l1 1l2-1h4l2 1l2 1h4l2 1h16l2-1h22l2-1h12l2 1l2-1h6l2 1l2 1h12l2 1l2-1h2l2 1l2-1l2 1h2l1-1h9l2-1h2l2 1l2-1h2l2 1l2-1h8l2 1l2-1h8l2 1h8l2-1h2l2-1h8l2 1h2l2 1h18l2-1h10l2-1h4l2 1h19l1-12h2l2 1h10l2-1h8l2-1h4l2 1h6l2 1h4l2-1h2l2-1l2 1l2-1h14l2 1l2-1l2 1h4l2-1h4l2-1l2 1h4l2 1h2l2 1h4l2-1h4l2-1h8l2 1l2-1h2l2 1h6l2 1h6l2 1h8l2 1h4l2-1h2l2-1h2l2-1h6" fill="none" stroke="#202080"/>
<path d="M533 498l2-1l2-1l2 1h6l2-1h2l2 1h18l2 1h2l2 1l2 1h6l2 1l2 1h10l2 1h6l2 1h3l1-1h4l2 1l2-1h10l2-1l2 1l2-1h6l2 1h2l2-1h2l2 1h18l2 1h4l2 1h8l2-1h22l2-1h2l2 1l2-1l2 1l2-1h6l2-1h2l2 1h2l2-1l2 1h4l2 1h18l2-1l2 1h8l2 1h10l2-1h4l2-1l2 1l2-1h31l1-12h30l2 1h8l2-1h12l2 1l2-1h8l2-1l2 1l2 1l2-1h8l2-1h12l2 1h2l2-1l2 1l2-1h32l2 1h2l2 1h6l2 1h10l2-1l2-1h6" fill="none" stroke="#33cc33"/>
<path d="M533 495l2-1h2l2 1h4l2 1h4l2 1h2l2-1h2l2 1l2-1h2l2-1h2l2 1l2 1h4l2 1h2l1-1l1 1h4l2 2h4l2 1h4l2 1h4l2 1l2-1h3l1-1h12l2 1h4l2-1h6l2 1h30l2 1h16l2 1h4l2-1l2 1l2-1h1l1-1h12l2 1h8l2-1h6l2 1l2-1h6l2 1h8l2 1h2l2-1h4l2-1h4l2-1l2 1h2l2-1l2 1h6l2 1h6l2-1h16l2 1h4l2-1h6l2-1h5l1-13h2l2 1h4l2-1l2 1h4l2-1l2 1h4l2-1h4l2 1l2-1h2l2 1h10l2 1l2-1h16l2 1l2-1l2 1l2-1h2l2-1h2l2-1h8l2 1h6l2 1l2-1h14l2 1l2-1h8l2 1l2-1l2 1h2l2 1h2l2 1l2-1h26" fill="none" stroke="#33cc33"/>
<path d="M533 494h4l2 1h2l2 1h2l2-1h8l2-1h4l2 1l2-1l2 1h2l2 1h4l2 1h4l2 1l2 1l2 1h10l2 1h2l2 1h26l2 1h2l2-1h6l2 1h2l2-1h8l2-1h10l2 1h10l2-1h2l2 1h4l2 1l2-1l2 1l2 1h6l2-1h2l2-1h16l2-1h8l2 1l2-1l2 1h4l2 1l2-1h8l2-1h24l2 1h8l2-1l2 1h18l2-1h2l2 1h9l1-14h2l2-1h2l2 1l2-1h2l2 1l2-1l2 1h6l2 1h4l2 1l2-1l2 1l2-1h14l2-1h16l2 1l2-1h2l2 1h2l2-1h2l2-1h12l2 1h4l2 1l2-1h12l2-1h8l2 1h10l2 1l2-1h2l2 1h2l2 1h4l2-1h12" fill="none" stroke="#d2691e"/>
<path d="M533 493h4l2 1h6l2 1l2-1h2l2 1h20l2 1h2l2 1h2l2 1h2l2 1l1 1l1-1l2 1h2l2-1l2 1l2 1h2l2 1h7l1-1h22l2-1h8l2-1h6l2 1h2l2 1h2l2 1l2-1h10l2-1l2 1h6l2 1h14l1-1h3l2 1h2l2-1h8l2-1l2 1h6l2 1h6l2 1l2-1l2 1h6l2-1h2l2 1l2-1h4l2-1l2 1l2-1h6l2 1h2l2-1l2 1l2-1l2 1h2l2-1h8l2-1l2 1l2 1l2-1l2 1h2l2-1l2 1h2l2-1h15l1-14h4l2 1l2-1h12l2 1h14l2-1h16l2-1h4l2 1h6l2 1l2-1h12l2-1h4l2-1h6l2 1l2-1h2l2 1h6l2-1h4l2 1l2-1l2 1h4l2 1h8l2 1h10l2 1h8l2-1h2l2-1h4l2 1" fill="none" stroke="#d2691e"/>
<path d="M533 493h4l2 1h6l2-1l2 1h6l2-1h2l2 1h10l2 1h8l2 1l2 1l2 1h1l1 1h2l2 1h2l2-1l2 1l2 1l2-1h6l1 1l1-1h2l2 1h4l2-1h10l2 1h14l2-1l2 1l2-1h2l2 1l2 1h4l2-1l2 1h2l2 1l2-1h10l2-1h14l1-1l1 1h22l2-1h8l2 1l2-1l2 1h4l2 1h4l2-1h4l2-1h6l2 1h4l2 1h2l2-1l2-1h6l2 1h16l2-1l2 1h4l2 1l2-1h2l2 1h2l2-1h9l1-15h16l2 1h14l2-1h4l2 1h2l2-1h2l2 1h2l2-1h8l2 1h8l2-1h4l2-1h22l2 1h8l2 1h6l2 1l2-1h4l2-1l2-1l2 1l2-1l2 1h2l2 1h10l2-1l2 1h16l2-1" fill="none" stroke="#87ceeb"/>
<path d="M545 497l2-2l2-2l2-1l2-2l2-2l2-2h5l1 3l2 6l1 2l1-2l2-5l1-3h1l2 1h7l1 2l2 3l2 2l2 3l1 1" fill="none" stroke="#000000"/>
<path d="M566 497l2-3l2-4l1-1h3l2 1h3l1 1l2 3l2 2l2 3" fill="none" stroke="#a05030"/>
<path d="M550 497l2-4l2-3l2-3l2-3l2-2l2-2l2 11l1 5" fill="none" stroke="#9a9a30"/>
<path d="M595 500l2-2l2-2h1l1-1h9l1 1l2 1l2 2" fill="none" stroke="#000000"/>
<path d="M831 499h172" fill="none" stroke="#000000"/>
<path d="M840 509h4l2 1l2-1h10l2-1h4l2 1h76l2 1l2-1l2 1h2l2-1h50l1-1" fill="none" stroke="#000000"/>
</g>
<rect x="20" y="478" width="165" height="1" fill="#000"/>
<rect x="188" y="478" width="342" height="1" fill="#000"/>
<rect x="533" y="478" width="471" height="1" fill="#000"/>
<rect x="20" y="484" width="165" height="1" fill="#000"/>
<rect x="188" y="484" width="342" height="1" fill="#000"/>
<rect x="533" y="484" width="471" height="1" fill="#000"/>
<rect x="20" y="499" width="165" height="1" fill="#000"/>
<rect x="188" y="499" width="342" height="1" fill="#000"/>
<rect x="533" y="499" width="471" height="1" fill="#000"/>
<g shape-rendering="crispEdges">
<path d="M20 547h14l2-1h10l2-1h10l2-1l2 1h5l1 17l1 28h5l2 1l2 1l2-1l2 2l2-1h2l2-1h6l2-1h2l2-1h2l2-1l2 1h24l2-1h8l2-1h2l2 1h10l2 1l2 1l2 1l2 1h4l2-1l2 1h8l2 1l2-1" fill="none" stroke="#e0502a"/>
<path d="M20 547h6l2-1h2l2 1h4l2 1l2-1l2 1h2l2-1l2-1h4l2-1h10l1-1l1 1h1l1 17l1 27h5l2 1l2 1l2-1l2 1h2l2 1l2-1h4l2 1l2-1l2-1l2-1l2 1l2-1h10l2-1l2 1l2-1h6l2-1l2 1l2-1h14l2 1l2-1h2l2 1h6l2 1l2 1h2l2 1l2-1h2l2 1h8l2-1" fill="none" stroke="#e0502a"/>
<path d="M20 548h8l2-1l2 1l2-1l2-1l2 1h4l2 1l2-1h8l2-1h11l1 17l1 26h7l2 1l2-1l2 1h4l2-1h2l2 1l2-1h8l2-1h8l2-1l2 1h2l2 1h8l2-1l2-1h6l2-1h6l2 1l2-1h2l2 1h4l2 1l2 1h2l2 1h4l2-1h10l2-1" fill="none" stroke="#ff6347"/>
<path d="M20 549l2-1h10l2 1h2l2 1h2l2-1h4l2-1l2-1h6l2-1l2 1l2-1h4l1 1l1 17l1 24h1l2 1h10l2 1h2l2-1h2l2 1h4l2-1l2-1h2l2-1l2 1h4l2 1l2-1l2 1h2l2-1h4l2-1h6l2-1h6l2-1h10l2 1h6l2 2l2 1h12l2 1h2l2 1l2-2" fill="none" stroke="#9a9a30"/>
<path d="M20 550h12l2-1h6l2 1h2l2-1h6l2-1h2l2-1h9l1 17l1 24l1-1l2 1h2l2 1l2 1l2-1l2 1l2 1h2l2-1l2-1l2 1l2-1l2-1l2-1h8l2 1l2 1h4l2-1h8l2-1h4l2-1h6l2-1h6l2 1h8l2 1h2l2 1h2l2 2l2-1h10l2-1l2 1l2-1" fill="none" stroke="#9a9a30"/>
<path d="M20 551h2l2-1h2l2 1l2-1h2l2-1h6l2-1h22l1-1h2l1 16l1 24l1-1l2 1h2l2 1l2 1h4l2 1h2l2-1l2 1h4l2-1l2-1l2-1h2l2-1h16l2 1h8l2-1h18l2-1l2 1l2-1l2 1l2-1l2 2h2l2 1h6l2 1l2-1l2 1h4l2-1" fill="none" stroke="#d2691e"/>
<path d="M20 551h2l2-1h6l2-1h2l2-1l2 1l2-1h4l2 1l2-1h6l2 1h2l2-1l2 1h3l1 1h1l1 17l1 22l1-1h10l2 1h4l2-1h2l2 1h2l2-1h4l2-1h4l2-1h28l2-1l2-1h2l2-1l2 1h4l2 1l2 1h6l2 1h2l2 1l2-1h8l2 1l2-1h2l2-1" fill="none" stroke="#e9967a"/>
<path d="M20 552h2l2-1h12l2 1l2-1h6l2-1h2l2-1h15l1 16l1 21h3l2 1h2l2 1l2-1l2 1h4l2-1h2l2 1l2-1h6l2-1h2l2-1l2 1h6l2-1h2l2 1l2-1h10l2-1h20l2 1h4l2 2l2 1h20" fill="none" stroke="#808000"/>
<path d="M20 552h10l2-1h2l2-1h14l2-1l2 1l2-1h10l1 1l1 16l1 20l1-1h6l2 1h2l2 1h4l2-1l2 1h6l2-1h4l2-1h4l2 1h4l2-1l2 1h2l2-1h6l2 1l2-1h6l2-1h8l2 1l2-1l2 1h6l2 1h12l2-1h2l2 1h2l2-1" fill="none" stroke="#7cfc00"/>
<path d="M20 551l2 1l2-1h12l2 1h10l2-1l2-1h6l2-1h4l1 1l1-1l1 1l1 16l1 19l1-1l2 1h2l2 1l2 1h4l2 1l2-1h2l2-1h6l2-1h4l2-1h4l2 1h12l2-1h16l2-1h6l2 1h6l2 1h2l2 2h8l2-1l2 1l2-1h6l2-1" fill="none" stroke="#33cc33"/>
<path d="M20 553l2 1h2l2-1h2l2 1l2-1h2l2-1h14l2-1l2 1h4l2-1l2-1h5l1 16l1 18h1l2 1h4l2 1h4l2 1l2-1h2l2-1h2l2 1l2-1h2l2-1h2l2-1l2 1h16l2 1l2-1h4l2-1l2 1l2-1h16l2 1l2-1l2 1l2 1l2 1h12l2-1l2 1l2-1h2l2-1" fill="none" stroke="#9932cc"/>
<path d="M20 554h6l2-1h8l2 1l2-1l2 1h2l2-1h2l2-1h2l2-1h8l2 1l1-1l1 1h1l1 17l1 16h7l2 1l2-1l2 1h10l2-1h4l2-1l2-1h12l2 1h2l2 1h6l2-1h2l2-1h2l2-1h10l2 1l2 1l2-1h4l2 1h4l2 1h6l2-1l2 1l2-1h4l2 1l2-1" fill="none" stroke="#202080"/>
<path d="M20 553h4l2 1l2-1h4l2 1h2l2 1l2-1h4l2-1l2-1l2-1l2-1h4l2 1l2-1l2 1h3l1 1h1l1 16l1 16h5l2-1l2 1h2l2 1h4l2-1l2 1h4l2-1l2 1l2-1h2l2-1h2l2 1h4l2-1h2l2 1l2-1h14l2-1l2 1l2-1l2 1l2-1l2 1h6l2 1l2-1h6l2 1h2l2-1h4l2 1h6l2 1l2-1" fill="none" stroke="#c02080"/>
<path d="M20 554h6l2 1h4l2-1h2l2 1l2-1h2l2 1l2-1h4l2-1h6l2-1h4l1-1h2l1 17l1 15h1l2 1h14l2-1h2l2 1h2l2-1h2l2-1l2 1h28l2-1h28l2 1h2l2 1h6l2 1h6l2 1l2-1" fill="none" stroke="#c02080"/>
<path d="M20 556h8l2-1h6l2 1h6l2-1l2-1l2-1h2l2-1l2 1l2-1l2-1l2 1h2l1-1h1l1 1l1 16l1 14h1l2 1h4l2 1h8l2-1l2 1h2l2-1h4l2-1h2l2-1h2l2 1h4l2-1l2 1l2-1l2 1h8l2 1h8l2-1h6l2-1h4l2 1l2-1l2 1h2l2 1l2 1l2-1h14l2 1l2-1" fill="none" stroke="#a03030"/>
<path d="M20 555h6l2 1h8l2 1l2-1h2l2-1h4l2-1l2-1h2l2 1h2l2-1h5l1 1h1l1 17l1 12h5l2-1h14l2 1h4l2-1h4l2-1h4l2 1h24l2-1h2l2-1h2l2-1l2 1l2 1h6l2 1l2 1l2-1h2l2 1h16l2 1l2-1" fill="none" stroke="#a060b0"/>
<path d="M20 557h4l2-1h8l2-1l2 1h4l2-1h2l2-1h8l2 1l2-1h5l1 1l1-1l1 16l1 12l1-1l2 1h4l2 1h4l2 1l2-1l2-1h6l2-1h2l2-1l2 1l2-1h2l2 1h2l2 1h2l2-1h8l2-1h4l2 1h10l2-1l2 1l2-1h8l2 1l2-1l2 1l2 1h18l2-1" fill="none" stroke="#a060b0"/>
<path d="M20 557l2-1h6l2 1h2l2-1h2l2 2l2-1h4l2-1h4l2-1h4l2-1h8l1 1l1 16l1 11h5l2-1l2 1l2-1h10l2 1h4l2-1h6l2-1h6l2-1h2l2 1h6l2-1l2 1h2l2-1h12l2 1h2l2 1l2-1l2 1h4l2-1l2 1h2l2 1l2-1h14l2-1" fill="none" stroke="#da70d6"/>
<path d="M20 557h6l2 1h8l2 1l2-1h4l2-1l2-1l2-1l2-1l2 1h8l2 1l1-1l1 1h1l1 16l1 9l1-1h6l2 1l2-1l2 1l2 1h8l2-1h4l2-1h2l2-1h4l2 1h4l2-1h2l2 1l2-1h12l2-1l2 1h2l2-1h6l2 1h2l2 1h12l2-1h4l2 1h6l2 1l2-1" fill="none" stroke="#da70d6"/>
<path d="M20 559l2-1l2 1h14l2-1h4l2-1h2l2-1h4l2 1l2-1h6l1 1h2l1 16l1 8l1-1h8l2 1h2l2 1l2-1h6l2-1h8l2-1l2 1h8l2-1h8l2-1l2 1h16l2-1h10l2 1h4l2 1h2l2-1h8l2 1h2l2 1l2-2" fill="none" stroke="#da70d6"/>
<path d="M20 558h2l2 1h4l2 1h12l2-1h2l2-1l2-1h8l2-1h2l2 1l1-1l1 1l1 1l1 16l1 7h7l2 1h8l2-1h10l2-1l2 1l2-1h10l2-1l2 1l2-1h2l2 1h4l2-1h16l2 1l2-1h12l2 1h6l2-1l2 1h8l2-1" fill="none" stroke="#b0a0e0"/>
<path d="M20 560l2-1h22l2-1h4l2-1l2 1l2-1l2 1l2-1h2l2 1l1-1h1l1 1l1 15l1 7h15l2-1h4l2 1h2l2-1h24l2 1l2-1h4l2-1h10l2 1l2-1h12l2 1h2l2 1h8l2-1h10l2-1" fill="none" stroke="#f0a0a0"/>
<path d="M20 561h10l2-1l2-1h2l2 1h4l2 1l2-1h4l2-1h6l2-1h5l1 1h1l1 16l1 4h27l2-1h4l2-1h2l2 1h10l2 1h6l2-1h2l2-1h2l2 1l2-1h2l2 1l2-1l2 1h2l2-1l2 1l2-1h2l2 1l2-1h2l2 1l2-1l2 1h8l2 1h4l2-1" fill="none" stroke="#87ceeb"/>
<path d="M20 562h10l2-1h4l2 1l2-1h4l2-1l2-1l2-1l2-1l2 1h4l2-1l2 1l2 1h2l1 1l1 15l1 4l1-1h10l2 1l2-1h2l2 1h10l2-1h16l2 1l2-1h2l2-1h12l2 1h2l2-1h20l2 1h4l2-1l2 1h2l2-1h2l2 1h2l2-1" fill="none" stroke="#f0a0a0"/>
<path d="M20 538h20l2-1h8l2-1h4l2-1h4l2-1h3l1 13l1 13l1 8l2 16l2 1l2 1l2 1l2 1h20l2-1h2l2 1h20l2-1h6l2 1h12l2-1h2l2 1l2-1h28" fill="none" stroke="#ff5030"/>
<path d="M20 539h18l2-1l2 1l2-1h12l2-1h4l2-1h2l2 19l2 23h40l2 1l2-1h26l2 1l2-1h36l2-2l2-3" fill="none" stroke="#000000"/>
<path d="M20 570h14l2-1h12l2-1h8l2-1h7l1-5l1-5h1l2 1h4l2 1h2l2 21h26l2 1l2-1l2 1h4l2-1l2 1h38l2 1h20l2 1" fill="none" stroke="#56b4e9"/>
<path d="M20 575h25l1-1l2-2l2-1h4l2-1l2 1l2-1h7l1 8l1 8h1l2 2l2 1l2 1l2 2l2 1h15l1-1l2-1l2-1h22l2-1h22l2-1h2l2 1h6l2-1l2 1h2l2-1h18" fill="none" stroke="#a08040"/>
<path d="M20 565h4l2-1h2l2 1h4l2-1h20l2-1h9l1 6l1 6h1l2 1h4l2 1h2" fill="none" stroke="#a02020"/>
<path d="M69 590l2 1l2 1l2 1h15l1-1l2-1l2-1" fill="none" stroke="#c07050"/>
<path d="M20 566h36l2-1h9l1-2l1-1h9l1 1l1 9l1 10h19l2 1h2l2-1h26l2 1h10l2 1l2-1h6l2 1l2-1h2l2 1h22" fill="none" stroke="#b0a0e0"/>
<path d="M20 568h12l2-1h20l2-1h14l2 1h7l1 9l1 8" fill="none" stroke="#f0a0a0"/>
<path d="M69 570h2l2 1h2l2 1h1l1 7l1 7h5l2 1h8l2 1h3" fill="none" stroke="#a05030"/>
<path d="M69 565h4l2 1h1l1 7l1 7" fill="none" stroke="#9a9a30"/>
<path d="M188 565l2-3l2-3l2-4l2-4l1-2l1-1h18l2-1h2l2-1h2l2 1h4l2-1h4l2-1h8l2-1h2l2 1h2l1 1l1-1l2 1h14l2-1l2 1l2-1h8l2 1h4l2 1l2 1l2-1l2 1l2-1h2l2 1l2-1h4l2-1l2 1h2l2-1l2 1h2l2-1h2l2 32h2l2 1h8l2 1h1l1-1h6l2-1l2 1h6l2-1l2 1h4l2 1l2-1l2 1l2-1h2l2 1h4l2-1h18l2-1h4l2-1h4l2 1h2l2-1h2l2 1h2l2 2h2l2 1l2 1l2 1l2-1l2 1h2l2-1h2l2-1h4l2 1h2l2-1h2l2 1h2l2-33l2-2l2-1l2-3l2-1l2-2l2-1l2-1h2l2 1l2-1l2 1h10l2-1h14l2-1h2l2 1h4l1-1" fill="none" stroke="#e0502a"/>
<path d="M188 567l2-3l2-3l2-4l2-4l1-3l1-1l2 1l2 1l2-1h2l2-1l2 1h2l2-1h6l2 1l2-1l2 1h2l2-1h2l2-1h10l2 1h2l2-1h5l1-1l2 1l2-1h5l1 1h12l2-1h4l2 1h4l2-1l2 1l2 1h2l2-1l2 1l2 1l2 1l2-1h2l2-1h8l2-1h6l2 30h4l2 1l2-1h2l2-1l2 1h1l1-1h22l2 1h4l2 1h6l2 1h2l2-1h8l2-1l2 1l2 1l2-1h6l2 1l2-1l2 1l2-1l2 1h2l2-1h8l2 1h2l2 1h8l2-1h6l2-1l2 2h2l2 1h4l2-1l2-31l2-1l2-2l2-2l2-1l2-1l2-1l2-1h12l2 1h2l2-1h2l2-1h2l2 1h2l2 1h4l2-1h2l2 1l2-1h3" fill="none" stroke="#a0522d"/>
<path d="M188 566l2-2l2-2l2-4l2-4l1-2h1l2 1l2-1h4l2-1h2l2 1l2-1h18l2-1h6l2-1l2-1l2 1h8l1 1h1l2 1l2-1h6l2 1l2-1l2-1h6l2-1h4l2 1h8l2 2h8l2 1l2-1h4l2-1h2l2 1l2-1h4l2-1h2l2 28h2l2 1l2 1l2-1h4l2 1h2l2-1l2-1l2 1h10l2-1h14l2 1h14l2 1h8l2-1h2l2-1h4l2 1h2l2 1h2l2-1h6l2 1h4l2 1h2l2-1l2 1h2l2-1h4l2 1h12l2 1l2-29l2-1l2-1l2-2l2-1l2-2l2-1l2-1h10l2 1h6l2-1h4l2 1h8l2-1h2l2 1h2l2-1h1" fill="none" stroke="#ff6347"/>
<path d="M188 568l2-3l2-3l2-3l2-3l1-2h7l2-1h4l2 1h2l2-1h16l2-1h14l2-1h15l1 1h6l2-1h2l2 1l2-1l2 1h10l2 1h18l2-1h8l2-1h4l2 26h4l2 1h2l2-1h2l2 1h4l2-1h2l2-1h8l2-1h2l2 1h2l2 1l2-1l2 1h6l2 1h2l2-1h4l2 1h8l2 1l2-1h4l2-1h16l2 1h2l2 1l2-1l2 1h2l2-1h10l2 1h2l2 1h6l2 1h2l2-25l2-2l2-1l2-1l2-1l2-3l2-1l2-1h2l2-1l2-1l2 1l2-1l2 1l2 1h8l2 1h8l2-1l2-1h4l2 1l2-1h1" fill="none" stroke="#9a9a30"/>
<path d="M188 571l2-3l2-3l2-4l2-3l1-2l1-1h4l2 1h2l2-1l2 1h6l2-1h12l2 1l2-1h10l2-1h16l2-1h2l2 1l2-1h2l2-1l2 1h6l2 1h8l2 1h4l2-1l2 1h4l2-1l2 1h2l2-1h10l2-1h2l2 24l2-1l2 1h2l2-1h22l2-1h12l2 1l2 1h2l2 1l2 1h6l2-1h2l2 1l2-1h10l2-1l2 1l2-1l2 1l2-1h4l2-1l2 1h2l2 1h2l2 1h2l2 1h12l2-1h2l2-1l2 1h2l2 1h4l2 1l2-23l2-2l2-1l2-1l2-2l2-2l2-1l2-1h2l2-1h4l2 1l2 1h2l2 1h2l2-1h2l2 1l2-1h4l2 1l2-1h10l1-1" fill="none" stroke="#d2691e"/>
<path d="M188 570l2-2l2-2l2-3l2-3l1-2h5l2-1h6l2 1l2-1h12l2 1l2-1h2l2-1h14l2-1h5l1 1h2l2-1l2 1h4l2 1l2-1h8l2-1l2 1l2-1h14l2 1h2l2 1l2 1h4l2-1h4l2-1h4l2-1h4l2 21l2 1h16l2-1h2l2-1l2 1l2-1h6l2-1l2 1h2l2 1h2l2 1l2 1h4l2 1l2-1h2l2-1h4l2 1h6l2 1l2-1l2-1h2l2-1h6l2 1h4l2 1h4l2 1h2l2-1h2l2 1l2-1h12l2-1l2 1l2-1l2 1h2l2 1h2l2-21h2l2-1l2-1l2-1l2-1l2-2l2-1h4l2-1l2 1h10l2-1h2l2 1h8l2-1h11" fill="none" stroke="#d2691e"/>
<path d="M188 571l2-2l2-2l2-3l2-3l1-2h7l2-1h28l2-1h8l2-1h6l2 1h1l1 1l2 1l2-1h5l1-1h6l2-1h6l2 1l2-1l2 1h6l2 1h8l2 1h6l2-1l2-1h2l2 1l2-1l2 1l2-1h4l2 19h8l2-1l2 1h3l1-1h4l2 1l2-1h6l2 1l2-1h2l2-1l2 1l2 1h4l2-1l2 1h2l2 1l2-1h2l2 1l2-1h2l2 1h12l2-1h20l2 1l2 1h6l2-1l2 1h4l2-1h2l2 1h2l2 1l2-1h2l2 1h2l2-1l2-19l2-1l2-1l2-1l2-1l2-1l2-2h4l2-1h6l2 1h2l2 1h2l2-1h2l2 1h2l2-1h2l2-1l2 1h2l2-1l2 1l2 1h3" fill="none" stroke="#c04020"/>
<path d="M188 573l2-3l2-2l2-2l2-4l1-1h7l2-1h22l2 1h2l2-1h8l2-1h4l2-1l2 1h6l2-1h5l1 1h6l2-1h2l2-1h2l2 1h8l2 1h2l2 1h4l2 1l2-1l2 1l2-1h2l2-1h6l2 1l2-1h6l2 18h6l2-1l2-1l2 1h8l2-1h10l2-1l2 1l2-1l2 1h10l2 1h2l2 1h20l2-1h4l2-1h4l2 1h2l2-1h4l2 1l2 1h6l2 1l2-1l2 1l2-1h2l2-1h6l2 1h2l2 1h6l2-18l2-1h2l2-2l2-1l2-2l2-1l2 1h12l2 1l2-1l2 1l2-2h2l2 1h6l2-1l2 1l2-1l2 1h4l2 1l1-1" fill="none" stroke="#7cfc00"/>
<path d="M188 572l2-2l2-2l2-3l2-2l1-2h7l2-1h8l2 1h4l2 1l2-1l2 1l2 1l2-1h2l2-1h4l2-1h8l2-1h6l2 1l2-1l2 1h6l2-1h2l2-1l2 1l2-1h6l2 1h4l2 1h4l2 1h6l2 1l2-1h6l2-1h2l2-1h6l2-1l2 17h2l2 1h4l2-1h2l2 1h2l2-1h4l2-1h8l2-1h4l2 1h8l2 1h2l2 1l2 1h6l2-1h2l2-1l2 1h4l2-1h2l2-1l2 1h2l2-1l2 1h4l2-1h2l2 1h4l2 1h2l2 1l2 1l2-1h14l2 1h10l2-16l2-1l2-1l2-1l2-2l2-1l2-1h2l1 1l1-1h4l2 1h6l2 1h2l2-1h14l2-1h2l2 1h5" fill="none" stroke="#808000"/>
<path d="M188 572l2-1l2-2l2-2l2-3l1-1h9l2-1h16l2 1h6l2-1h8l2-1h4l2-1l2 1l2-1l1 1h9l1 1h7l2-1h12l2-1l2 1h4l2 1h8l2 1l2-1l2 1l2-1h4l2 1l2-1h4l2-1l2-1l2 15l2-1h8l2 1h6l2-1h2l2-1h4l2 1h2l2-1h4l2 1l2 1l2-1l2 1h10l2-1h6l2 1l2-1h2l2 1h2l2-1h8l2 1h2l2 1l2-1h2l2 1h6l2 1h16l2-1l2 1h2l2 1h8l2-1l2-13l2-1h2l2-1l2-1l2-2h5l1-1h8l2 1h6l2-1h4l2 1h8l2-1h4l2 1l2-1l1-1" fill="none" stroke="#7cfc00"/>
<path d="M188 574l2-2l2-2l2-2l2-3l1-2h1l2 1h4l2-1h20l2 1h6l2-1h4l2-1h2l2-1h2l2-1l2 1h2l1 1h7l2 1h4l2-1h2l2-1h4l2-1l2 1l2-1l2 1h6l2 1h2l2 1l2-1h2l2 1h18l2-1h4l2 14l2-1l2 1h6l2-1l2 1l1-1h3l2-1h2l2-1l2 1h10l2-1h2l2 1l2-1l2 1l2-1l2 1h2l2 1h12l2-1h2l2 1h2l2-1h16l2-1l2 1l2-1l2 1h2l2 1h2l2 1h8l2-1h4l2 1h2l2 1h10l2-13l2-2h2l2-1l2-2l2-1l2-1l2 1h18l2-2l2 1l2 1h2l2 1h6l2-1h2l2 1l2 1h2l1-1" fill="none" stroke="#202080"/>
<path d="M188 576l2-2l2-3l2-2l2-2l1-1l1-1h6l2-1l2-1h8l2 1h2l2-1l2 1l2 1l2 1l2-1h2l2-1h2l2-1h4l2-1h2l2 1l2-1l2 1h2l1 1h7l2-1h2l2 1l2-1h2l2-1h10l2 1l2-1l2 1h10l2 1h2l2 1h4l2-1h6l2-1h6l2-1l2 13l2-1l2 1h2l2-1h4l2 1h2l2-1h4l2-1h8l2-1h10l2 1h6l2 1h6l2 1h4l2-1h6l2-1h2l2-1l2 1l2-1l2 1l2-1l2 1h6l2-1l2 1l2 1h6l2 1h2l2 1h6l2-1l2 1h2l2 1h2l2-1h6l2-11h2l2-1h2l2-1l2-1l2-1h3l1-1h2l2-1h6l2 1h8l2 1h12l2-1h2l2 1h2l1-1" fill="none" stroke="#202080"/>
<path d="M188 577l2-3l2-2l2-2l2-2l1-1l1-1h8l2-1l2-1l2 1l2-1h2l2 1l2-1l2 1h2l2 1l2 1l2-1h2l2-1h4l2-1h12l2 1h16l2-1h2l2-1h4l2 1h4l2-1l2 1h4l2 1h2l2 1h4l2 1l2-1l2 1l2-1h8l2-1h6l2 10l2-1h2l2 1l2-1h10l2-1h2l2-1l2-1h6l2-1h4l2 1h2l2-1l2 1h6l2 1h2l2 1h2l2-1l2 1h6l2-1h2l2 1l2-1l2-1h6l2 1h10l2 1h2l2 1h8l2 1h2l2-1l2 1h18l2-8l2-1l2-1l2-1l2-1l2-1h5l1-1l2 1l2-1h2l2 1l2-1l2 1h4l2-2l2 1h2l2 1h18l1-1" fill="none" stroke="#a03030"/>
<path d="M188 574h2l2-2l2-2l2-1l1-1l1-1l2 1h2l2-1h2l2-1h2l2 1h2l2-1h6l2 1l2-1l2 1h4l2-1h10l2-1h2l2-1l2 1h2l1 1h10l1 1l2-1l2 1l2-1h2l2-1h4l2 1l2-1h2l2-1l2 1h4l2 1l2 1l2-1l2 1h2l2 1l2-1h16l2-1l2 1l2 8h2l2-1h4l2-1h2l2 1l1-1l1 1l2-1l2-1h2l2-2l2 1h2l2-1l2 1h8l2 1h10l2 1h2l2-1h2l2 1h4l2-1l2 1l2 1h2l2-1l2-1h10l2 1h8l2 1h2l2 1l2-1h4l2-1l2 1h2l2-1h2l2 1h16l2-6l2-1h2l2-1h2l2-1l2-1h4l2-1l2-1h4l2 1l2 1h2l2-1h2l2-1l2 1h4l2-1h6l2-1l2 1l2 1l2-1h1" fill="none" stroke="#6b8e23"/>
<path d="M188 578l2-2l2-2l2-2l2-2l1-1l1-1h6l2-1h4l2 1h14l2 1h4l2-1l2-1h4l2 1l2-1h4l2-1l2 1h3l1 1h2l2 1l2-1l2 1h4l2-1l2-1l2-1h4l2-1l2 1l2-1l2 1h4l2 1l2 1h2l2 1l2-1l2 1h4l2-1h4l2-1h12l2-1l2 7h6l2-1l2-1h2l2 1h1l1-1h18l2-1h8l2 1h2l2 1h2l2 1h8l2-1h24l2 2l2-1h2l2-1l2 1l2-1h8l2 1l2-1l2 1h4l2 1l2-1h4l2 1h10l2-5l2-1h2l2-1l2-2l2-1l2-1l2 1h6l2 1h8l2-1h2l2-1l2 1l2 1l2 1h4l2-1l2-1h8l1-1" fill="none" stroke="#6b8e23"/>
<path d="M188 579l2-2l2-2l2-1l2-1l1-2l1-1l2-1h2l2-1h12l2 1l2-1h4l2 1l2 1l2-1h10l2-1h26l2-1h2l2-1h6l2 1h4l2-1l2 1h2l2 1l2 1h4l2 1l2-1l2 1l2-1h4l2-1h2l2 1l2-1h2l2-1h2l2-1l2 6l2-1l2 1h4l2-1h8l2-1l2 1l2-1l2-1l2 1h2l2-1h4l2 1h8l2 1h12l2-1h2l2 1h6l2 1l2-1l2-1l2-1h6l2 1h2l2 1h6l2 1h2l2 1h6l2-1l2 1l2-1h4l2 1h4l2 1l2-1h4l2-1l2-1l2-3l2-2h4l2-1l2-1l2-1h2l1 1h5l2 1h2l2 1h6l2-1l2-1l2 1h12l2-1h6l1-1" fill="none" stroke="#6b8e23"/>
<path d="M188 579l2-1l2-2l2-2l2-2l1-2h5l2-1l2 1l2-1h2l2 1h8l2-1h4l2 1h14l2-1h2l2-1h6l1 1l1-1l2 1l2-1l2 1h2l1-1l1 1l2 1h4l2-1h4l2-1l2 1l2-1h6l2 1h2l2 1h2l2-1h4l2 1h2l2-1h2l2-1l2 1h2l2-1h8l2 4h4l2-1l2-1h10l2-1l2 1l2-1l2 1l2-1h24l2 1l2-1h6l2 1h2l2-1h2l2 1h10l2 1h6l2-1h10l2 1h2l2 1h2l2-1h8l2-1l2 1h2l2 1h6l2 1h2l2-2l2-1h2l2-1l2-1l2-1l2-1h2l1 1l1-1h2l2-1l2 1h4l2 1h4l2-2h6l2 1h6l2-1h2l2 1h4l1-1" fill="none" stroke="#ff7f50"/>
<path d="M188 578l2-1l2-2l2-1l2-2l1-1h7l2-1h2l2-1l2 1l2-1h2l2 1l2 1h4l2 1l2 1l2-1l2-1l2-1l2-1l2 1h2l2-1h8l2-1h2l1 2h15l2-1l2-1l2 1h2l2-1l2 1l2-1h8l2 1h2l2 1h6l2 1l2-1h14l2-1h4l2 2l2-1h4l2-1h2l2-1l2 1h6l2 1h8l2-1l2-1h6l2-1h2l2 1l2 1h6l2 1h4l2-1h2l2 1l2-1h2l2-1l2 1l2-1l2 1h10l2 1h10l2 1h10l2 1l2-1h10l2 1l2-1h2l2 1h2l2-1l2-1h4l2-1l2-1l2-1l2-1l2 1h1l1-1h4l2 1l2-1h2l2 2h2l2-1l2-1h2l2 2l2 1h10l2-1h7" fill="none" stroke="#da70d6"/>
<path d="M188 579l2-1l2-2l2-1l2-2l1-1h5l2-1h4l2-1l2 1l2 1l2-1l2 1h2l2-1h4l2 1h4l2-2h2l2 1h4l2-1h2l2 1l2-1h2l2 1h6l2-1l2 1h2l2 1h2l2-1h6l2-1l2 1h8l2-1l2 1h2l2 1l2-1l2 1l2 1l2 1l2-1h2l2-1h2l2-1h2l2-1l2 1l2-2h12l2 1l2-1h2l2 1h1l1-1l2-1h2l2 1l2-1l2 1h8l2-1l2 1h4l2-1l2 1l2-1h4l2 1h12l2-1h20l2 1h18l2 1h2l2 1h24l2 1l2-1l2 1l2-1l2-1l2-1h2l2 1l1 1l1-1l2-1l2-1l2 1h6l2 1l2-1l2-1l2-1l2 1h6l2 1l2 1l2-1h2l2 1l2 1l2-1l1-1" fill="none" stroke="#4682b4"/>
<path d="M188 579l2-1l2-2l2-1l2-1l1-1h7l2-1h4l2 1h10l2-1l2 1h2l2-1l2 1l2-2h4l2 1h4l2-1h6l2 1l1 1h3l2-1h5l1 1h2l2-1h6l2-1h2l2 1l2-1l2 1l2-1h2l2 1l2 1h8l2-1l2 1l2-1l2 1l2-1h4l2 1h4l2-1h4l2-1h8l2-1h6l2-1h4l2-1h2l2-1h18l2-1h2l2 1h4l2 1h8l2-1h2l2 1h4l2-1h6l2 1l2-1l2 1l2 1l2-1h6l2 1l2 1h24l2-1h8l2 3l2-1l2 1l2-1h2l2-1l2-1l2 1l1 1l1-1l2 1l2-1h6l2 2h4l2-2h2l2 1h8l2 1l2-2h2l2 2h4l1-1" fill="none" stroke="#56b4e9"/>
<path d="M188 579l2-1l2-2l2-1l2-1l1-1h1l2 1h4l2-1h12l2-1h4l2 1l2 1l2-1h6l2-1h14l2 1l1 1h5l2-1h8l2-1l2-1h6l2 1h4l2-1h2l2 1h2l2 1h2l2 1l2 1h2l2 1l2-2h4l2-1l2-1h2l2-1l2 1l2-1l2-1h2l2-2l2-1l2 1h2l2-1h2l2-1l2 1h2l2-1h4l2-1l2 1h16l2-1h4l2 1h8l2 1h8l2 1h4l2-1h2l2-1l2 1h6l2 1h6l2-1h2l2 1h10l2 1l2-1h22l2 6l2-1h2l2-1l2-1l2-1h2l2 1l1 1h9l2 1h4l2-1l2-1l2-1l2 1h4l2 1l2-1h2l2-1h2l2 1h2l2-1h1" fill="none" stroke="#56b4e9"/>
<path d="M188 581l2-2l2-2l2-1h2l1-1l1-1l2 1h4l2-1l2-1h4l2 1l2-1h4l2 1h2l2 1h6l2-1h4l2-1l2 1l2-1h4l2-1l2 1h2l1 1h1l2 1l2-1h4l1-1l1 1h6l2-1h4l2-1l2 1h2l2 1l2-1h4l2 1l2 1h2l2-1l2 1h2l2 1h2l2-1h2l2-1h4l2-1h6l2-1l2-3l2-1h4l2-1h2l2-1l2 1h4l2-1l2 1h2l2-1h2l2-1h4l2-1h6l2 1l2-1l2 1h10l2 1l2-1l2 1h2l2-1l2 1l2 1h12l2-1h6l2-1h2l2 1h2l2 1h4l2 1h16l2-1h4l2 1h6l2 6h2l2 1l2-1l2-1l2-1h2l2 1h1l1-1h2l2-1h4l2 1l2 1h4l2-1h2l2 1h2l2 1l2-1h4l2-1l2-1l2 1h2l2-1h1" fill="none" stroke="#bc8f8f"/>
<path d="M188 582l2-3l2-2h2l2-1l1-1h3l2 1h4l2-1h2l2 1l2-1h10l2-1l2 1h4l2-2h4l2 1l2 1l2-1h2l2 1l2-1h4l1 1l1 1l2-1h4l2 1l1-1h7l2-1h6l2 1h8l2-1l2 1h4l2 1l2 1h2l2 1l2-1h2l2-1l2-1l2-1l2 1l2-1h2l2-1h2l2-1l2-5h4l2-1h6l2-1h8l2-1h26l2-1l2 1h2l2 1h2l2-1h2l2 1l2-1l2 1h4l2-1h4l2 1l2-1h4l2 1h2l2-1h2l2 1h8l2 1l2-1h4l2 1h6l2-1h2l2 1l2-1h8l2 9h6l2-1l2-1h2l2 1h4l2-1l2 1h4l2 1l2 1h2l2-2l2 1h12l2-1h2l2 1l2 1h2l1-1" fill="none" stroke="#f0a0a0"/>
<path d="M188 582l2-1l2-2h2l2-1l1-1l1-1l2 1l2-1h6l2-1l2 1h20l2-2h12l2 1l2-1h2l2 1h2l2 1h2l2-1l2 1h1l1 1h2l2-1h2l2-1h4l2-1l2 1l2-2l2 1h6l2 1l2 1l2 1l2-1h4l2 1l2-1l2 1l2-1h8l2-1l2-1l2-1h2l2-7l2-1h4l2-1h12l2-1h8l2-1l2-1h10l2 1l2-1l2 1h2l2 1h2l2-1l2 1h4l2-1h4l2 1h12l2 1h12l2-1l2 1h8l2-1h4l2 1h8l2 1h4l2 1h2l2-1l2 11h4l2-1l2-1l2-1h2l2 1l1 1l1-1l2-1l2-1l2 1h6l2 1l2-1l2-1h2l2 1h2l2 1h6l2-2h2l2 1h4l1-1" fill="none" stroke="#87ceeb"/>
<path d="M188 552l2 2l2 1l2-5l2-6l1-3h1l2-1h2l2-1h18l2-1h12l2 1l2-1h2l2 1h2l2-1h10l2-1h2l2-1h2l2 1h4l2 1h18l2-1h34l2 27h4l2-1h4l2-1h3l1-1h6l2-1h12l2-1h20l2 1h44l2 1h32l2-17l2-2l2-2l2-2l2-2l2-1l2-2l2-2l1-1h43l1 1" fill="none" stroke="#000000"/>
<path d="M190 550l2-2l2-2l2-3l1-1h1l2-1h4l2-1h22l2-1h8l2-1h10l2-1h6l2-1h2l2-1h40l2 1h14l2 1l2 1l2 1l2 1" fill="none" stroke="#808020"/>
<path d="M188 579h58l2-1l2 1l2-1l2 1h60l2-1h12l2 1l2-1h2l2 1h4l2-1h2l2 1h12l2-1h8l2 1h4l2-1l2 1h2l2-1h2l2 1h4l2-1h8l2 1l2-1h2l2 1h12l2-1h107" fill="none" stroke="#56b4e9"/>
<path d="M455 584l2 6l1 3h10l1-8l1-7" fill="none" stroke="#a05030"/>
<path d="M470 572l2-1l2-1l2-1l2-1l2-1l2-1l2-1h4l2 1l2-1l2 1h12l2 1h10l2 1h9" fill="none" stroke="#56b4e9"/>
<path d="M533 534l2 1h2l2-1l2 1l2-1h6l2-1h4l2 1l2 1h4l2 55h19l1-9l2-1h2l2-1h8l2-1l2-1h4l2 1h2l2 1h2l2 1h4l2-1h6l2-1h4l2-1l2 1l1 1l1 1h2l2 1h2l2-1h6l2 1l2-1l2-1l2 1l2-1h4l2 1h6l2-1h4l2 1l2-1l2-2h4l2 1h4l1 1l1 3l2 4l2 3l2 4l1 2h1l2-1l2-1h2l2-1l2-1h4l2-1l2 1l2-1l2 1h4l2 1l2-1h10l2-1l2 1h12l2 1h8l2-1l2 1h8l1-1l1 1l1-2h1l2 1l2 1l2 1h2l2 1l2 1h8l2-1h20l2 1l2-1h2l2 1h4l2-1h26l2 1l2-1h8l2 1h8l2 1l2 1h4l2-1h4l2-1l2 1h6l2-1h6l2-1h4l2-1l2 1h6l2-1l2 1l2 1l2-1h2l2 1h20l2-1l2-1h8l2 1h12l2 1" fill="none" stroke="#e0502a"/>
<path d="M533 536h18l2-1l2 1h4l2 1h2l2 51h2l2-1h2l2 1h11l1-9l2-2h10l2-1h4l2-1l2 1l2 1h2l2 1h2l2 1l2-1h2l2-1h2l2 1l2-1l2-1l2 1h6l1 1l1 1h12l2-1l2 1h2l2-2h4l2 1l2 1h6l2-1h2l2-1h4l2-1h2l2 1h2l2 1h4l1 1l1 2l2 3l2 4l2 3l1 2h3l2-1h4l2-2h2l2-1h4l2-1l2 1h2l2 1l2 1l2-1l2 1h4l2 1h2l2-1h6l2-1h2l2 1h10l2-1h8l2-1l2 1h1l1 1l1-1l1 1h2l2 1l2 2l2-1l2 1l2 1l2-1l2 1l1-1l1 1h2l2-1l2 1h2l2-1l2-1l2 1l2-1l2 1l2-1h2l2-1l2 1h4l2 1h6l2-1l2-1h4l2-1l2 1h2l2 1h2l2-1h2l2 1l2 1h2l2-1h4l2 1h4l2 1h4l2-1h2l2 1h4l2-1l2 1l2-1h10l2-1h4l2 1l2-1l2-1l2 1l2-1h6l2 1l2 1l2 1h22l2-1h2l2-1h2l2-1l2-1h4l2 1h14l2 1" fill="none" stroke="#a0522d"/>
<path d="M533 538h12l2 1h4l2-1h2l2 1h4l2-1l2 49h2l2-1l2-1l2 1l2 1h4l2 1h3l1-9l2-2h4l2-1h4l2-1h8l2 1l2 1h14l2 1h2l2-1l2 1l2-1h5l1 1h12l2-1l2 1h2l2-1l2-1h6l2 1l2-1h4l2-1l2 1l2 1l2-1l2-1h10l2 1l1 1l1 1l2 4l2 5l2 3l1 3l1-1h8l2-2h2l2-1h4l2-1h4l2 1h8l2 1h4l2-1h2l2 1h2l2-1l2 1h12l2-1h8l2 1h2l1-1l1 1h4l2 1l2 1h4l2 1l2 1h2l1-1h2l1 1l2-1h18l2-1l2 1h8l2-1h12l2 1h2l2 1h2l2-1l2 1h6l2-1h4l2 1h4l2 1h4l2-1l2 1h6l2-1l2 1l2-1h10l2-1h4l2 1l2-1h10l2-1l2 1l2-1h4l2 1l2 1h4l2-1h6l2-1l2 1h6l2-1h4l2-2h10l2 1l2 1h2l2 1l2 2" fill="none" stroke="#ff6347"/>
<path d="M533 540l2-1h6l2-1l2 1h16l2-1l2 48l2-1l2-1h2l2 1h2l2-1h4l2 1l1 1l1-10l2-1h14l2-1h2l2 1l2 1l2-1h2l2 1l2-1h8l2 1l2-1h2l2 1l2-1h2l2 1h8l2-1l2 1h4l2 1l2-1h4l2-1h22l2-1h4l2 1h2l2 1l1 1l1 1l2 4l2 4l2 4l1 1h1l2-1h6l2-1h2l2-1l2-1h8l2 1l2 1h2l2 1l2-1h2l2 1h2l2-1h8l2-1l2 1h8l2 1l2-1h4l2 1h2l2-1h3l1 1l1-1l1-1l2 1l2 1l2 1h4l2 1l2 1h2l1-1l1 1l1 1l1-1h4l2-1h8l2 1l2-1h2l2-1l2 1l2-1l2 1h2l2 1h2l2-1h4l2-1l2 1l2-1h10l2 1h2l2 1h4l2-1h6l2-1l2 1h2l2 1h2l2 1h2l2 1h2l2-1h2l2-1h16l2 1h2l2-1h2l2-1l2 1l2-1h2l2-1h4l2 1h4l2 1h12l2 1l2-1h4l2-1h2l2-1h6l2 1l2-1h6l2 1l2-1l2 1" fill="none" stroke="#9a9a30"/>
<path d="M533 541l2-1h2l2-1h8l2 1h10l2 1h2l2 45h2l2-1h12l2 1h1l1-9l2-1l2-1h12l2-1h4l2 1h2l2 1l2-1l2 1h6l2 1h2l2-1l2-1l2 1l2-1h5l1 1h2l2 1l2-1h6l2-1l2 1l2-1l2-1h8l2 1h12l2-1h2l2-1l2 1l2-1l2 1h2l2 1l1 1l1 1l2 4l2 5l2 4l1 2l1-1h4l2-1h2l2-1l2-1h8l2 1l2-1h2l2 1l2-1h6l2 1l2 1h4l2-1l2 1l2-1l2 1l2-1l2 1h8l2-1h4l2 1l2-1h6l1-2l1 1l2 1l2 1h6l2 1l2 1h2l1-1l1 1l1 1h3l2-1h6l2 1l2-1h2l2 1h2l2-1l2 1h8l2-1h2l2-1l2 1h6l2-1l2 1h4l2-1l2 1l2-1l2 1h2l2-1h4l2 1l2-1l2 1l2 1h2l2-1h4l2 1h4l2-1l2 1h20l2-1h4l2-1h10l2 1h6l2 1h2l2-1h2l2 1h10l2-1h2l2-1l2-1l2 1l2-1l2 1h2l2-1l2 1h6l2 1l2 1" fill="none" stroke="#c04020"/>
<path d="M533 543l2-1h2l2-1h4l2 1h6l2 1l2-1l2 1h6l2 41h2l2-1h4l2 1h2l2-1l2 1h2l1 1l1-10l2-1l2-1l2 1l2-1h10l2-1l2 1l2 1l2-1h2l2 1h4l2-1h4l2 1h2l2-1l2 1l2-1h2l2 1h2l2 1h4l2-1l2 1h2l2-1l2 1l2-1l2-1h8l2 1h8l2-1h6l2-1h4l2 1h2l2 1h1l1 2l2 4l2 4l2 4l1 2l1-1h4l2-1h2l2-1h2l2 1l2-1h20l2 1h10l2-1l2 1h10l2 1l2-1h14l1-1l1 1h2l2 1h2l2 1h2l2 1h2l2 1l1-1h1l1 1h5l2-1h12l2 1l2-1l2 1h4l2 1h2l2-1h2l2-1h2l2-1h8l2 1h2l2-1h2l2 1h4l2-1h2l2 1h6l2 1l2-1h4l2 1h26l2-1l2 1l2-1h20l2 1h6l2-1h2l2 1h12l2-1h2l2-1h2l2 1l2 1l2-1h12l2 1" fill="none" stroke="#e9967a"/>
<path d="M533 544h2l2 1l2-1h10l2-1l2-1h2l2 1h6l2 40h2l2-1h2l2 1h2l2-1h4l2 1h1l1-9h2l2-1h4l2-1h4l2-1h2l2-1l2 1l2 1l2-1l2 1h4l2 1h2l2-1l2 1h4l2-1h2l2-1h4l1 1l1 1l2-1l2 1h6l2 1l2-1l2 1l2-1h6l2-1h2l2 1h2l2-1h2l2-1h2l2 1h10l2 1h2l2 1h1l1 1l2 5l2 4l2 4l1 2h3l2-1h2l2-1l2-1h2l2-1h10l2 1h6l2-1h2l2 1h2l2-1l2 1l2-1l2 1h10l2 1h16l2-1h2l1-1l1 1l2 1h2l2 2h4l2 1h5l1 1h6l2-1h16l2 1l2-1h8l2-1h10l2-1l2 1h6l2 1l2-1l2 1h2l2-1h10l2 2h4l2-1l2 1l2 1h2l2-1h4l2-1h8l2 1l2-1h8l2-1h2l2-1h10l2 1h6l2 1h10l2 1h6l2-1h2l2-2h2l2-1h4l2 1l2-1l2 1h2l2 1h2l2 1l2 1" fill="none" stroke="#e9967a"/>
<path d="M533 546l2-1h10l2 1h4l2-1h6l2 1h2l2 37l2-1h10l2-1l2 1l2-1h1l1-8l2-1h4l2-1h2l2 1l2-1h2l2-2h2l2 1h4l2 1h8l2-1l2 1h4l2-1h6l2 1h2l2 1l2 1l2-1h8l2 1l2-1l2-1l2 1l2-1l2 1l2-1l2 1l2-1h4l2-1l2 1h2l2 1l2-1h2l2 1h8l1 1l1 2l2 4l2 4l2 4l1 2l1-1h2l2-1l2-1l2 1l2-1h4l2-1h4l2 1l2 1l2-1l2 1l2-1l2 1l2-1h20l2 1h2l2 1l2 1l2-1l2-1l2 1l2-1h4l2-1h3l1 1l1-1l1 1h2l2 1l2 1h8l2 1l1-1l1 1l1 1h1l2-1h2l2-1h2l2 1h14l2-1h8l2-1h4l2 1h2l2-1h10l2 1h4l2 1h2l2-1l2 1l2-1h2l2 1l2 1h6l2 1h4l2-1h4l2-1h2l2 1l2-1l2 1h4l2-1h4l2-1h10l2-1l2 1h4l2 1h2l2 1h2l2 1l2-1l2-1l2 1h12l2-1h2l2-1l2-1h8l2-1l2 1h6l2 1" fill="none" stroke="#e9967a"/>
<path d="M533 549h8l2-1l2 1h4l2-1h8l2 1h2l2 32h2l2-1l2-1l2 1h4l2 1h4l1 1l1-9l2-1h2l2-1h6l2-1h2l2-1h4l2 1l2 1h10l2-1h2l2 1l2-1h20l2 1h2l2 1h4l2-1h2l2-1h14l2-1h4l2 1l2-1h4l2 1h4l1 1l1 2l2 5l2 3l2 4l1 3h1l2-1h2l2-1h2l2-1h4l2-1h4l2 1l2 1h2l2 1l2-1l2 1l2-1h10l2-1h4l2 1h4l2 1h4l2-1h2l2-1h11l1 1l1-1l1 1h2l2 1h4l2 1l2 1h5l1 1l1 1h3l2-1l2-1l2 1l2-1h10l2-1l2 1h2l2 1h8l2-1h6l2-1h2l2 1l2-1h4l2 1h2l2 1l2-1h8l2 1h2l2 2l2-1h8l2-1h6l2-1h2l2 1h16l2-1h2l2-1h2l2 1h2l2-1l2 1h4l2 1h4l2 1l2-1l2 1l2-1h6l2-1h8l2-1l2-1h4l2 1l2-1l2 1h4l2 1h2l2 2" fill="none" stroke="#7cfc00"/>
<path d="M533 549h4l2-1l2 1h6l2 1l2-1l2 1l2-1l2 1h2l2 1h2l2 29h2l2-1h14l1 1l1-9h2l2-1h4l2-1h8l2-1h2l2 1h2l2 1h12l2-1h6l2-1h8l2 1h4l2 1h2l2-1l2 1l2-1l2-1h20l2 1h4l2-1l2 1h4l2-1l2 1h1l1 3l2 4l2 4l2 6l1 2l1-1h2l2-1h4l2-2h4l2-1h2l2-1h2l2 2h6l2 1h2l2 1l2-1h6l2-1l2 1l2-1l2 1h2l2 1h4l2 1l2-1h8l2-1h4l1-1h3l2 1l2 1l2 1h2l2 1h4l2 1l1-1h1l1 1h5l2-1h16l2 1l2-1l2 1h4l2-1h4l2-1h2l2 1h2l2-1l2 1h10l2 1h2l2-1h10l2 1h4l2-1l2 1h2l2 1h2l2-1l2 1h2l2-1h4l2 1h2l2-1h16l2-1h6l2 1h8l2 1l2-1h10l2-1h2l2-1h2l2 1l2-2l2 1l2-1l2 1l2 1h6l2-1l2 1h2l2 1" fill="none" stroke="#7cfc00"/>
<path d="M533 550h12l2 1h10l2 1h4l2 27l2-1h2l2-1h13l1-8h2l2-1h2l2 1h4l2-1h4l2-1h2l2 1h2l2 1h2l2-1h10l2-1h11l1 1h2l2 1h2l2-1h4l2-1l2 1h2l2-1h12l2-1l2 1h4l2 1h2l2-1h2l2-1h2l2 1h4l1 1l1 2l2 5l2 4l2 5l1 2l1-1h4l2-1h2l2-1l2 1l2-1h6l2 1h4l2 1l2-1l2 1l2-1l2 1h8l2-1h2l2-1l2 1h4l2 1l2-1h8l2-1h2l2 1h7l1 1h2l2 1h4l2 1h4l2 1h1l1 1h4l2-1h4l2-1l2 1l2-1h2l2 1h2l2-1l2 1h2l2 1h8l2-1h2l2-1h10l2 1l2-1l2 1l2-1l2 1h2l2-1h10l2 1l2-1h2l2 1l2 1h10l2-1h14l2-1h2l2-1h10l2 1h4l2 1h8l2 1h20l2-1h10l2-1h10l2 2" fill="none" stroke="#33cc33"/>
<path d="M533 554h6l2-1h4l2 1h2l2-1l2-1l2 1h4l2 1h2l2 24h2l2-2h4l2 1l2-1h2l2 1h3l1-8l2-1h6l2-1h6l2-1l2-1l2 1l2 1h12l2-1l2 1h2l2-1h4l2 1l2-1h3l1 1h8l2 1h6l2-1h4l2-1h4l2 1l2-1h4l2-1h2l2 1h2l2-1h6l2 1h4l1 1l1 2l2 5l2 4l2 5l1 2l1 1l2-1h4l2-1h2l2-1l2-1h12l2 1h10l2 1l2-1h6l2-1l2 1l2-1h4l2 1h16l2 1l1-1h1l1-1l1 1l2 1h2l2 1h4l2 1l2 1l2-1h1l1 1l1 1h1l2-1h2l2-1h16l2 1h2l2 1l2-1l2 1h2l2-1h4l2-1l2 1h2l2-1l2 1h4l2-1l2 1l2-1l2 1l2-1h10l2 1h8l2 1h6l2-1h10l2 1h10l2-1h10l2-1h2l2 1h22l2 1l2 1l2-1h4l2-1h2l2-1l2-1l2 1l2 1l2-1l2 1h6l2 1h2" fill="none" stroke="#202080"/>
<path d="M533 554h2l2-1h6l2 1l2 1h4l2-1h6l2 1l2-1l2 22h10l2-1h4l2 1h1l1-8l2-1h10l2-1h2l2-1l2-1h2l2 1h2l2 1l2-1l2 1h4l2-1h2l2 1l2-1h4l2-1h5l1 1h4l2 1l2-1l2 1h6l2-1h6l2-1l2 1h8l2-1l2 1h19l1 2l2 5l2 5l2 5l1 3h3l2-2h4l2-1l2-1h2l2-1l2 1h2l2-1l2 1h2l2 1h6l2 1h16l2 1h2l2-1h2l2 1l2-1h17l1 1h4l2 1l2-1h6l2 1h2l1 1h1l2 1l2-1l2-1h12l2 1l2-1l2 1h4l2 1h14l2-1h6l2-1h6l2 1l2-1h6l2 1h4l2 1h2l2 1l2-1h8l2-1h10l2 1h2l2-1h8l2-1h8l2-1l2 1l2-1l2 1h2l2 1h2l2 1h14l2-1h4l2-1h4l2-1l2 1h2l2 1l2-1h10l2 1" fill="none" stroke="#202080"/>
<path d="M533 556h2l2-1h2l2 1h4l2 1h4l2-1l2-1h2l2 1h4l2 18h4l2-1h6l2 1h5l1-8h4l2-1h8l2-1l2-1h12l2 1h2l2-1h2l2 1h4l2-1h4l2 1l2-1h1l1 1h2l2 1l2-1h2l2 1h8l2-1h10l2 1l2-1h8l2 1l2-1l2-1h8l2 1l1 1l1 1l2 5l2 4l2 5l1 3l1-1h8l2-1h4l2-1h6l2 1h14l2 1h8l2-1h4l2 1h2l2-1l2 1h18l1-1l1 1h2l2 1h6l2 1h5l1 1l1 2h1l2-1l2-1h10l2 1h8l2-1h14l2-1l2 1h14l2 1h4l2-1h10l2 1h8l2 1h4l2-1l2 1h2l2-1h16l2-1h6l2 1h12l2 1h10l2-1h2l2-1h8l2-1h10l2 1l2-1l2 1h6l2 1h2" fill="none" stroke="#6b8e23"/>
<path d="M533 556h2l2 1l2-1h2l2 1l2 1l2 1h2l2-1h8l2 1h2l2 16l2-1h4l2-1h11l1-7l2-1h2l2-1h4l2-1h22l2-1h2l2 1h4l2-1h2l2-1h6l2 1h12l2 1h2l2-1h6l2 1l2-1h4l2-1h12l2 1h9l1 2l2 5l2 5l2 6l1 3h5l2-1h2l2-1l2-1h2l2-1h4l2 1h12l2 1h6l2 1l2-1h14l2 1h4l2-1h8l2-1h3l1 1h2l2 1h4l2 1h4l2-1h1l1 1l1 1h27l2 1l2-1h2l2 1l2-1h2l2 1l2-1l2 1h4l2-1h2l2-1h6l2 1l2 1h8l2-1l2 1h16l2-1l2 1h8l2 1h2l2-1h12l2-1l2 1h14l2 1l2-1h16l2-1l2 1l2-1h6l2-1l2 1h6l2 1h6l2 1" fill="none" stroke="#6b8e23"/>
<path d="M533 560l2 1l2-1l2-1l2 1h8l2-1h6l2 1l2 1h2l2 11h2l2-1l2 1h6l2-1h4l1 1l1-9h6l2 1l2-1h6l2-1h14l2-1h2l2 1h4l2-1h12l2 1l2-1h2l2-1h6l2 1h2l2-1h2l2 1l2-1l2 1h4l2-1h14l2 1h9l1 3l2 4l2 5l2 5l1 3h9l2-1h4l2-1h6l2 1h10l2 1h2l2-1h2l2 1l2-1h14l2 1h2l2-1h10l2-1h1l1 1l1-1h1l2 1h2l2 1h4l2 1h6l1 2h1l2-1l2 1l2-1h2l2 1h2l2-1h4l2 1l2-1h4l2 1h8l2 1h2l2-1l2 1l2-1h4l2 1h2l2-1l2 1h6l2-1l2-1h8l2 1h2l2-1h2l2 1h4l2 1h6l2-1h2l2 1l2-1h8l2 1l2-1l2-1l2 1h2l2-1l2 1l2-1h4l2 1l2-1h4l2 1h4l2-1l2 1l2 1h2l2-1h10l2-1h18l2 1l2 1" fill="none" stroke="#a060b0"/>
<path d="M533 560h4l2-1h4l2 1l2 1h2l2-1h8l2 1l2 1l2 10l2-1h4l2 1h11l1-8h2l2-1h2l2-1h6l2-1h6l2 1h8l2-1h8l2-1h10l1 1h11l2-1h2l2 1h2l2-1l2-1l2 1h2l2 1h16l2-1h10l2 1h1l1 2l2 5l2 5l2 5l1 3h3l2-1l2-1h2l2-1h4l2-1l2 1l2 1h2l2 1h4l2-1h20l2 1l2 1l2-1h4l2 1h4l2-1h2l2 1l2-1h4l1-1h3l2 1h2l2 1h4l2 1h2l2 1h1l1 1h1l1 1l2-1h2l2-1l2-1h2l2 1h20l2 1h2l2-1l2 1l2-1l2 1l2-1h2l2 1h4l2-1h16l2-1l2 1l2 1h10l2 1h2l2-1l2 1h2l2-1l2 1l2-1l2 1h2l2-1l2-1l2 1l2-1h8l2 1h4l2-1l2-1l2 1h10l2 1h6l2-1l2 1h2l2-1h8l2-1h2l2 1l2-1h2l2 1h8l2 1" fill="none" stroke="#a060b0"/>
<path d="M533 564l2-1h2l2-1h2l2-1l2 1l2 1l2 1h8l2 1h4l2 5h2l2-1h14l1 1l1-8l2-1l2 1l2-1h4l2-1l2 1l2-1l2-1h4l2 1h12l2-1l2 1h2l2-1h2l2-1h10l2 1l2-1l2 1h6l2 1l2-1h2l2-1h20l2 1h15l1 2l2 5l2 6l2 6l1 2h7l2-1l2-1h4l2-1h4l2 1h32l2 1h4l2 1h2l2-1h4l2-1h10l2 1l2-1l2 1h6l2 1h3l1 2l1 1h5l2-1h2l2-1h10l2 1h4l2 1l2 1h6l2-1h2l2-1h4l2-1l2 1l2-1h6l2 1h10l2 1h6l2 1l2-1h12l2-1l2 1h2l2 1h10l2-1h2l2-1h2l2 1h16l2 1h14l2-1l2 1h6l2-1h4l2-1l2-1h6l2 1h4l2 1h2l2 1" fill="none" stroke="#ff7f50"/>
<path d="M533 565h4l2-1l2 1h4l2 1l2-1l2-1h8l2 1l2 1l2 3h8l2 1l2-1h7l1-8h6l2-1h4l2-1l2-1l2-1h4l2 1l2-1l2 1h2l2 1h2l2-1h2l2 1h4l2-1h6l2-1l1 1l1-1h2l2 1h2l2-1l2 1h4l2 1h2l2-1h4l2-1h2l2 1h2l2-1h6l2 1l2-1h8l2 1h5l1 2l2 6l2 5l2 5l1 3h9l2-1h2l2-1h4l2-1h2l2 1h2l2 1l2-1l2 1h8l2-1l2 1l2-1h4l2 1h12l2-1h4l2 1l2-1l2 1h3l1 1l1-1h1l2 1l2-1h8l2 1h2l1 1l1 1l1 2h5l2-1h4l2 1h2l2-1h8l2-1h20l2 1h4l2-1h16l2 1h2l2 1h12l2-1h12l2 1l2-1h12l2-1l2 1l2-1h20l2 1h6l2 1h2l2-1h6l2-1h4l2 1h10l2-1h6l2 1" fill="none" stroke="#56b4e9"/>
<path d="M533 568l2-1l2 1l2-2l2 1l2-1l2 1h2l2 1l2-1h2l2-1l2 1h12l2-1l2 1h4l2 1h4l1 1l1-7l2-2h6l2-1l2-1l2 1l2-1h2l2-1h4l2 1h4l2 1h2l2-1h4l2-1l2-1l2-1h8l1 1l1 1h8l2 1l2-1h2l2 1l2-1h4l2-1h10l2-1l2 1h4l2 1l2-1h8l2-1h3l1 3l2 5l2 6l2 6l1 3h7l2-1h4l2-1h6l2 1l2 1h2l2 1l2-1l2-1l2 1l2-1h2l2-1h4l2 1h6l2 1h4l2-1l2 1h20l2 1h6l2-1l2 1h5l1 2l1 2h1l2-1h4l2-1l2-1l2 1h10l2 1h4l2-1h4l2 1l2-1h6l2-1h4l2-1h10l2 1h8l2 1h12l2 1h10l2-1h10l2-1l2 1h10l2-1l2 1l2-1h6l2 1h6l2 1l2-1h4l2 1h4l2-1h2l2 1l2-1h6l2-1h2l2 1l2-1h8l2 1h2" fill="none" stroke="#56b4e9"/>
<path d="M533 569l2-1h10l2 1h2l2 1l2-1l2-1l2 1l2 1h4l2-3h4l2-1h2l2 1h2l2-1h4l1 1l1-7l2-1h4l2-1h4l2-1h2l2-1h24l2-1h6l2-1l2 1h1l1 1l2-1h34l2-1h12l2-1l2 1h4l1 1l1 2l2 7l2 5l2 5l1 3h15l2-1h2l2-1h2l2 1h2l2 1l2-1l2 1h18l2-1l2 1l2-1l2 1h10l2-1h6l2-1h1l1 1h4l2 1h4l2 1h7l1 1l1 2h1l2-1h10l2-1l2 1h2l2 1h12l2-1h20l2-1l2 1h18l2 1l2-1h4l2 1l2-1l2 1l2-1l2 1h10l2 1h2l2-1h12l2-1h12l2 1h4l2 1h2l2-1h4l2-1h14l2-1h12l2 1h4l2 1h2" fill="none" stroke="#56b4e9"/>
<path d="M533 570l2-1l2 1l2-1l2 1l2-1l2 1l2 1l2 1l2-1l2-1h6l2 1l2-1l2-5h8l2 1h9l1-7l2-1h6l2-1h2l2-1l2 1l2-1l2-1l2 1h12l2-1h14l2-1h8l2-1h2l2 1h10l2-1h4l2 1l2 1h12l2-1h6l2-1l2 1h4l1 1l1 3l2 5l2 6l2 6l1 2h5l2-1h6l2-1h12l2 1h16l2-1l2 1l2-1h4l2 1h12l2-1h8l1-1l1 1h4l2 1h10l2 1h1l1 1l1 2h5l2-1h2l2 1h6l2-1l2 1l2 1h12l2-1h4l2-1l2 1l2-1h2l2 1h4l2-1h2l2 1h22l2-1l2 1l2 1h4l2-1l2 1h2l2-1h6l2-1h22l2 1h36l2-1h18l2 1h2" fill="none" stroke="#f0a0a0"/>
<path d="M533 573l2-1h2l2-1h2l2-1l2 1l2 1l2 1l2-1h2l2-1l2 1h2l2 1l2-1l2-8h2l2-1l2 1h13l1-7h4l2-1h10l2-1h18l2-1h4l2-1h18l2-1h10l2-1l2 1h10l2 1l2-1h10l2-1l2 1h8l1 1l1 2l2 6l2 5l2 7l1 3l1-1h6l2 1l2-2h2l2 1h4l2-1h2l2 1h8l2-1l2 1h8l2-1l2 1h2l2-1h4l2 1l2 1h2l2-1h10l2-1l2 1l1-1l1 1l1-1l1 1h10l2 1h2l2 1l1-1l1 2l1 2h1l2-1h6l2 1l2-1h6l2-1h8l2 1h20l2 1h4l2-1h6l2-1h6l2 1h8l2-1h4l2 1l2-1h2l2 1h2l2-1l2 1h18l2-1h8l2 1l2-1l2 1h6l2 1l2-1h8l2 1h10l2-1h2l2-1h2l2 1l2-1h12l2 1" fill="none" stroke="#f0a0a0"/>
<path d="M533 574l2-1h2l2-1l2 1l2-1l2 1l2 1l2 1l2-1h2l2-1h2l2 1l2 1h2l2-12h19l1-7h2l2-1h16l2-1h8l2-1h4l2-1h6l2-1h8l1 1h7l2-1h16l2-1l2 1h20l2-1h2l2 1h2l2 1h1l1 3l2 6l2 6l2 6l1 2h7l2-1h8l2-1h4l2 1l2-1l2 1l2-1l2 1l2-1h8l2 1h6l2-1l2 1h8l2 1h2l2-1h11l1 1h1l1-1l2 1h12l2 1l1-1l1 2l1 2l1-1l2 1h2l2-1h14l2 1h28l2-1h6l2 1h6l2-1h8l2 1l2-1l2 1h4l2 1h2l2-1l2 1l2-1h2l2-1h8l2 1h12l2-1h16l2 1h20l2 1l2-1h4l2-1h10l2-1l2 1h6" fill="none" stroke="#f0a0a0"/>
<path d="M533 530h30l2 32h14l2 1h2l1-1l1-9h2l2-1h6l2-1h12l2-1h16l2-1h6l2-1h22l2 1h12l2 1l2-1h14l2 1h7l1 3l2 5l2 6l2 6l1 2h3l2 1h40l2-1h8l2 1h10l2-1l2 1l2-1h7l1-2l1-2h18l1 4l1 5h87l2 1h4l2-1h98" fill="none" stroke="#000000"/>
<path d="M585 552h6l2-1h6l2-1h8l2-1h12l2-1h8l2-1h65l1 4l2 7l2 8l1 4l1 1l2 1l2 2l1 1" fill="none" stroke="#56b4e9"/>
<path d="M533 570h6l2 1l2-1h20l1 10" fill="none" stroke="#56b4e9"/>
<path d="M565 593h19" fill="none" stroke="#c07050"/>
<path d="M786 575l2-3l2-3h4l2-1h8l2-1l2 5l2 4" fill="none" stroke="#a08040"/>
<path d="M788 575l2-2l2-3h2l2-1h9l1 2l2 4l1 2" fill="none" stroke="#000000"/>
</g>
<rect x="20" y="555" width="165" height="1" fill="#000"/>
<rect x="188" y="555" width="342" height="1" fill="#000"/>
<rect x="533" y="555" width="471" height="1" fill="#000"/>
<rect x="20" y="562" width="165" height="1" fill="#000"/>
<rect x="188" y="562" width="342" height="1" fill="#000"/>
<rect x="533" y="562" width="471" height="1" fill="#000"/>
<rect x="20" y="577" width="165" height="1" fill="#000"/>
<rect x="188" y="577" width="342" height="1" fill="#000"/>
<rect x="533" y="577" width="471" height="1" fill="#000"/>
</svg></body></html>
